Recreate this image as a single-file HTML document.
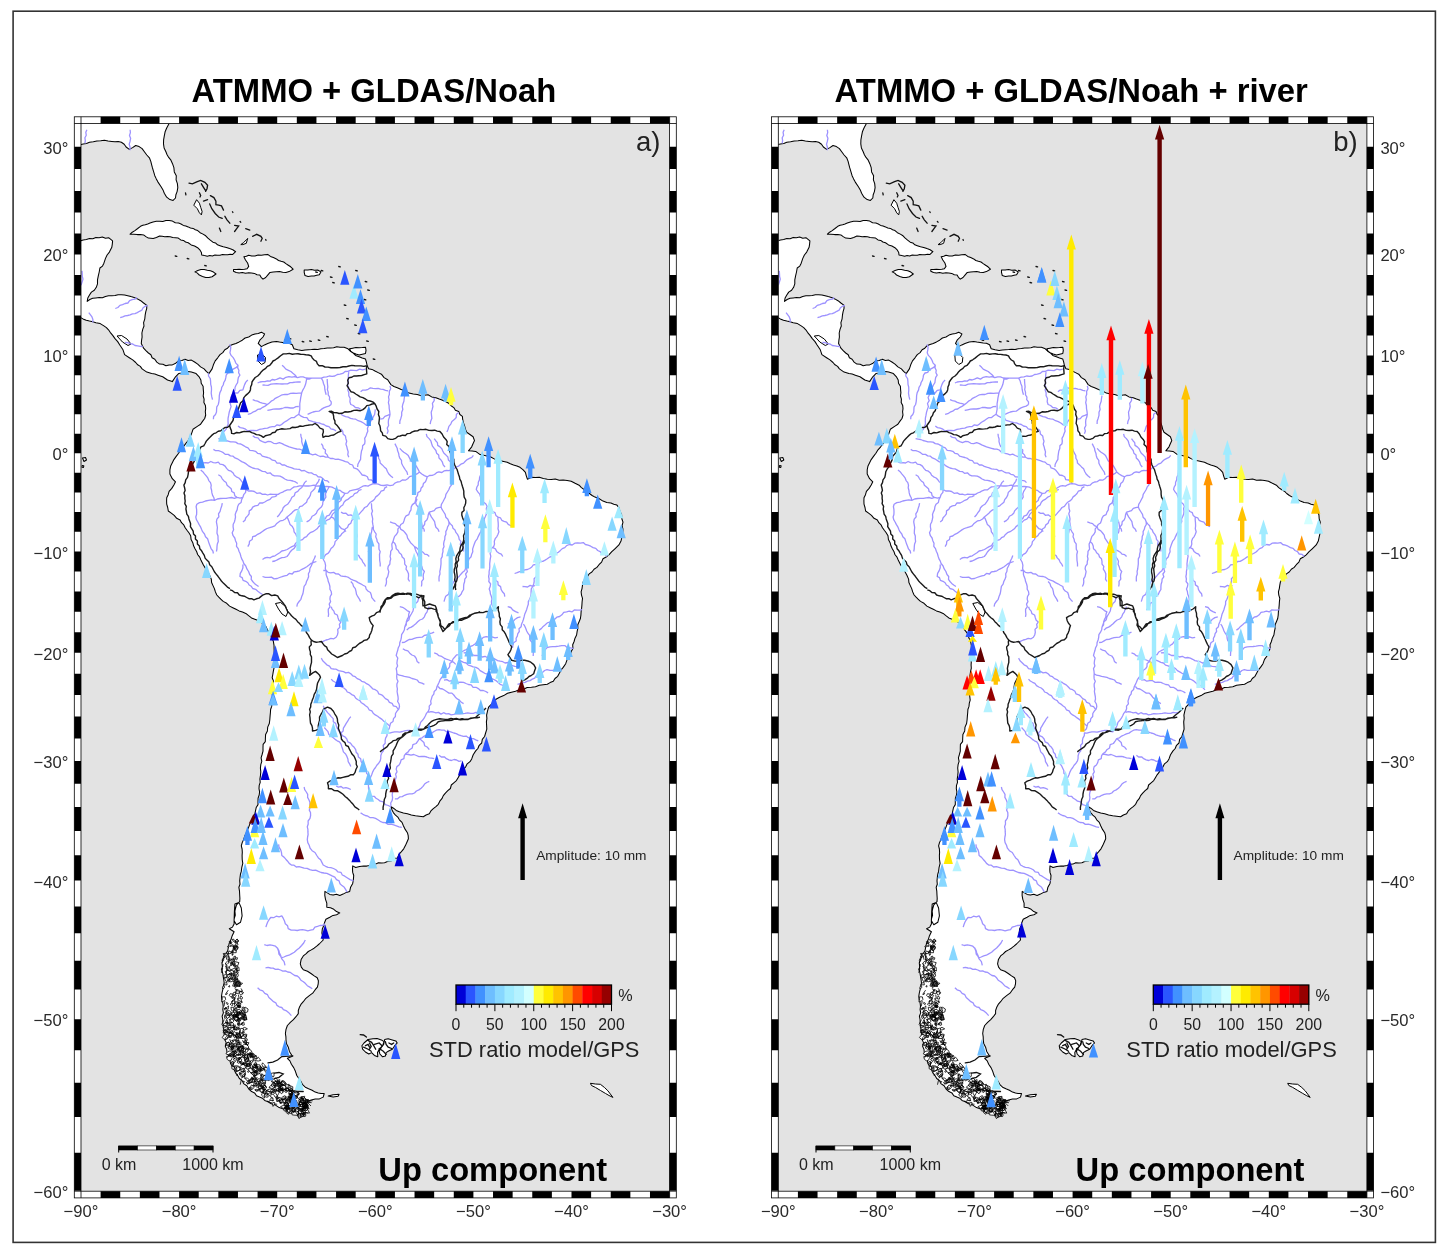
<!DOCTYPE html>
<html><head><meta charset="utf-8"><style>
html,body{margin:0;padding:0;background:#fff;}
svg{display:block;}

text{font-family:"Liberation Sans",Arial,Helvetica,sans-serif;}
</style></head><body><div id="w">
<svg width="1447" height="1257" viewBox="0 0 1447 1257">
<rect x="13.1" y="11.2" width="1422.3" height="1231.2" fill="none" stroke="#333" stroke-width="1.6"/>

<defs><clipPath id="mc"><rect x="81.0" y="123.5" width="588.60" height="1067.70"/></clipPath>
<g id="basemap"><rect x="81.0" y="123.5" width="588.60" height="1067.70" fill="#e3e3e3"/><g clip-path="url(#mc)"><path d="M60.0 240.9L63.3 240.3L66.7 241.5L70.0 241.3L73.3 240.5L76.7 240.9L80.0 240.9L83.2 240.0L86.4 239.6L89.5 238.5L92.8 238.7L95.9 237.4L99.1 237.7L102.3 237.0L105.5 238.3L108.6 237.7L112.6 240.9L112.3 244.1L111.8 247.3L109.4 252.1L107.1 255.0L105.5 258.4L103.9 263.2L102.5 266.1L99.9 268.0L99.2 272.0L98.3 275.9L97.5 279.9L97.5 283.9L96.3 287.3L94.3 290.2L91.4 292.1L89.5 295.0L87.8 298.0L87.2 301.4L89.8 299.5L92.7 298.3L95.9 297.9L99.1 297.5L102.4 297.8L105.4 296.5L108.6 295.8L111.8 295.8L115.0 295.5L118.1 294.7L121.3 294.8L124.6 295.0L127.8 295.7L130.9 296.6L134.1 297.4L137.5 298.9L140.7 300.7L143.6 303.0L146.8 305.4L146.7 308.6L145.8 311.6L145.2 314.8L144.8 318.8L143.6 322.7L144.0 326.0L142.8 329.1L141.9 333.0L142.1 337.0L141.6 340.2L141.3 343.4L143.6 348.2L145.9 350.7L148.4 353.0L150.9 354.7L152.1 357.8L154.8 359.3L156.8 362.1L159.6 364.1L162.9 364.3L165.9 365.7L169.1 365.0L172.3 364.9L175.7 363.2L178.6 360.9L181.9 360.4L185.0 359.3L188.1 360.4L191.4 360.1L194.6 362.0L197.7 364.1L200.6 366.9L204.1 368.9L206.3 371.4L208.9 373.6L212.1 368.9L213.4 364.8L215.2 360.9L217.7 357.8L220.0 354.6L222.8 352.6L224.8 349.8L227.5 348.2L229.6 345.8L232.7 344.6L235.9 343.4L239.2 341.9L242.3 340.2L245.1 338.0L248.7 337.0L251.7 335.1L255.0 333.9L258.3 333.5L261.4 332.3L264.6 333.9L263.0 337.0L259.8 340.2L258.2 343.4L261.4 346.6L264.5 344.9L267.7 343.4L271.9 342.0L276.4 341.6L279.5 342.1L282.7 342.4L285.9 343.1L289.1 343.2L292.3 344.8L293.9 348.8L297.8 349.8L301.8 350.4L305.0 349.9L308.2 349.7L311.4 349.6L314.6 349.3L317.8 349.5L320.9 348.8L324.1 348.5L327.3 348.1L330.5 348.0L333.6 347.7L336.8 346.7L340.0 347.2L344.1 347.3L348.0 348.8L350.1 351.0L352.7 352.7L355.5 355.4L359.1 356.7L362.2 358.1L365.5 359.1L366.4 362.2L367.1 365.5L368.6 368.7L372.0 369.4L375.0 371.0L378.2 372.6L381.4 374.2L384.1 377.6L387.7 379.8L390.9 384.6L393.9 386.5L397.3 387.7L401.2 389.4L405.2 390.9L409.0 393.1L413.2 394.1L417.3 394.5L421.2 395.7L424.6 395.2L428.0 394.7L431.7 396.9L435.9 397.7L439.2 399.1L442.6 400.3L445.9 401.7L448.7 403.3L451.1 405.7L453.8 407.6L455.4 410.3L458.7 411.4L459.9 414.5L462.4 416.4L462.7 419.7L463.5 422.9L464.6 426.0L465.4 429.2L466.7 432.3L469.9 434.5L473.1 436.7L474.5 440.6L473.0 443.7L471.7 446.8L468.5 450.8L472.1 451.0L475.7 451.4L480.1 454.6L485.8 455.8L490.3 456.7L494.2 458.9L497.2 460.4L500.5 460.8L503.7 461.5L507.2 462.2L510.3 463.8L513.5 465.0L516.9 465.9L520.0 467.3L522.9 469.6L525.4 472.3L526.3 475.8L527.4 479.2L531.4 477.2L535.4 477.4L539.3 477.2L543.3 478.4L547.3 479.2L551.3 479.5L555.3 479.1L559.2 480.2L563.2 480.1L567.2 480.4L571.2 481.2L575.1 483.3L579.1 485.2L581.4 487.6L584.1 489.5L587.1 491.2L589.4 493.5L592.1 495.5L595.0 497.1L599.2 498.8L603.0 501.1L606.8 502.6L610.9 503.1L613.8 504.3L616.9 505.1L619.0 507.8L619.9 511.0L621.6 514.8L621.9 519.0L623.0 522.2L622.1 525.7L622.9 528.9L622.8 533.0L621.9 536.9L621.0 541.1L618.9 544.9L614.9 548.8L611.8 551.7L608.9 554.8L606.1 557.0L603.0 558.8L601.6 562.1L599.0 564.7L596.9 567.4L594.0 569.3L591.9 572.0L589.1 573.9L587.4 576.8L584.8 579.0L583.1 581.9L582.5 585.2L582.0 588.6L581.1 591.8L581.5 595.1L582.5 598.4L582.1 601.8L581.9 605.1L581.6 608.4L581.1 611.7L580.9 615.1L580.4 618.5L579.1 621.7L577.8 624.8L577.8 628.3L577.1 631.6L576.6 635.0L575.0 638.2L574.1 641.5L572.7 644.7L572.9 648.4L571.2 651.5L569.9 655.8L567.2 659.4L565.7 663.7L563.2 667.4L560.9 670.2L559.2 673.4L557.7 676.3L555.0 678.5L553.3 681.3L550.1 682.6L547.3 684.3L543.3 684.7L539.3 685.3L535.5 686.7L531.4 687.3L527.2 687.5L523.4 689.3L519.3 689.8L515.5 691.3L511.5 692.2L507.5 693.3L503.7 695.6L499.6 697.2L496.4 699.0L493.6 701.2L491.2 704.3L488.6 707.2L487.5 711.1L486.6 715.1L486.9 718.4L486.4 721.8L486.6 725.1L486.8 729.1L485.6 733.0L484.6 736.5L482.3 739.4L481.7 743.0L479.2 745.3L477.9 748.5L475.7 750.9L473.2 754.7L471.7 758.9L470.0 761.7L467.2 763.8L465.7 766.8L463.4 769.3L461.9 772.2L459.8 774.8L458.1 777.7L456.4 780.6L453.8 782.8L451.3 785.0L450.4 788.5L447.8 790.7L445.4 793.1L443.3 795.6L441.9 798.7L439.8 801.2L438.3 804.3L435.9 806.6L433.3 808.6L430.9 810.9L429.3 813.8L426.1 815.0L423.3 816.8L419.3 816.3L415.4 815.8L411.3 815.0L407.4 813.8L403.4 813.1L399.4 811.8L396.2 810.4L393.5 808.2L391.1 806.8L392.0 809.9L393.5 812.8L395.5 815.1L397.8 817.1L399.4 819.8L402.0 822.4L403.4 825.7L405.2 829.4L407.4 832.7L408.2 835.6L408.4 838.7L406.9 842.2L405.4 845.6L403.7 848.8L401.4 851.6L398.9 854.5L397.5 858.0L393.9 858.6L391.1 861.1L387.5 861.5L384.6 862.7L381.6 863.1L378.4 862.7L375.6 864.1L372.5 864.2L369.7 865.4L366.7 866.1L363.6 866.1L359.6 866.5L355.7 867.5L352.7 865.9L352.5 869.2L352.7 872.4L353.7 875.5L353.4 879.5L352.7 883.4L350.6 887.2L349.7 891.4L346.3 892.4L343.1 894.1L339.8 895.4L336.5 894.2L333.1 895.1L329.8 894.4L324.9 891.4L324.8 895.4L325.5 899.3L326.8 903.2L326.8 907.3L330.5 907.8L333.8 909.3L336.5 911.6L339.8 912.9L336.6 914.7L333.0 915.4L329.8 917.2L325.9 919.2L324.7 922.2L323.9 925.2L322.3 929.0L321.9 933.1L322.7 936.5L323.2 940.0L319.2 944.0L316.7 946.2L314.1 948.2L311.3 949.9L308.3 951.5L305.9 953.8L303.3 955.9L301.1 959.6L300.3 963.9L301.3 967.1L303.3 969.8L307.5 971.3L311.3 973.8L314.2 975.9L317.2 977.8L318.4 980.7L318.2 983.8L317.4 987.1L315.2 989.7L312.7 993.2L309.3 995.7L305.9 998.3L303.3 1001.7L300.9 1004.4L299.3 1007.6L298.3 1010.5L298.3 1013.6L296.0 1016.7L293.4 1019.6L290.3 1022.4L287.4 1025.5L286.0 1029.4L285.4 1033.5L285.9 1036.8L286.0 1040.1L286.4 1043.4L288.3 1047.2L289.4 1051.4L292.4 1056.3L287.4 1058.3L289.9 1060.9L291.4 1064.3L293.7 1067.6L295.4 1071.3L296.8 1075.5L299.3 1079.2L301.2 1081.9L302.8 1084.9L305.3 1087.2L308.6 1088.8L312.1 1090.2L315.2 1092.1L318.2 1093.1L321.1 1093.6L324.2 1093.5L323.2 1097.1L319.4 1098.9L315.2 1099.1L311.2 1100.0L307.3 1101.5L303.5 1103.1L299.3 1103.5L295.5 1105.4L291.4 1106.1L293.6 1108.9L297.2 1110.2L299.3 1113.0L302.5 1114.2L305.3 1116.0L299.3 1116.0L295.6 1113.8L291.4 1113.0L287.3 1111.2L283.4 1109.1L279.2 1107.6L275.5 1105.1L271.3 1103.8L267.5 1101.5L264.7 1100.4L262.4 1098.2L259.6 1097.1L256.5 1095.8L254.6 1092.9L251.6 1091.6L248.8 1089.0L246.8 1085.7L243.6 1083.6L242.2 1080.6L239.4 1078.5L237.7 1075.6L235.7 1073.1L234.3 1070.1L232.7 1067.3L230.6 1063.5L229.7 1059.3L229.0 1055.9L227.0 1052.9L226.7 1049.4L225.3 1046.2L226.2 1042.6L224.7 1039.4L224.1 1036.2L224.2 1032.8L223.8 1029.5L223.3 1026.2L222.8 1022.9L222.8 1019.6L222.1 1016.2L223.4 1012.9L222.8 1009.6L223.2 1006.2L222.8 1002.9L221.8 999.7L221.5 996.3L222.0 993.0L222.8 989.7L223.3 986.4L224.2 983.2L223.8 979.8L223.2 976.4L222.7 973.1L221.8 969.8L222.4 966.5L222.0 963.2L222.8 959.9L224.5 956.9L225.8 953.8L227.7 950.9L228.4 947.1L229.2 943.3L230.9 939.8L232.2 935.7L234.1 931.8L229.3 928.7L232.5 927.1L234.1 923.9L234.1 919.1L235.3 915.2L234.9 911.2L235.6 908.0L236.5 904.8L239.7 901.6L239.9 898.4L239.7 895.2L239.5 891.2L238.9 887.3L240.0 884.2L239.7 880.9L240.0 877.7L240.4 874.5L241.3 871.4L241.8 867.3L242.8 863.4L242.2 859.5L242.1 855.5L242.3 852.2L242.1 849.0L241.3 845.9L242.2 842.6L243.6 839.6L245.0 835.5L246.8 831.6L248.5 827.6L250.0 823.6L251.7 820.5L253.3 817.3L254.8 814.1L255.5 810.8L256.2 807.5L258.0 804.6L258.0 801.3L258.1 798.1L259.2 795.0L259.6 791.8L259.0 788.6L259.2 785.4L260.2 782.3L259.9 779.1L260.4 775.9L260.8 771.9L260.4 768.0L260.8 764.6L261.8 761.3L261.1 757.8L262.1 754.5L263.0 751.2L263.0 747.7L263.1 744.4L265.3 741.6L265.4 738.2L265.6 734.4L267.4 730.9L267.7 727.1L269.3 723.5L269.8 719.7L270.1 715.9L270.4 712.7L270.6 709.5L271.7 706.4L272.0 703.2L272.9 700.1L272.5 696.8L272.2 693.7L273.1 690.5L271.9 687.3L272.5 684.1L273.4 681.0L272.2 677.7L272.8 674.5L273.3 671.4L274.0 668.2L273.8 665.0L274.0 661.8L273.3 658.6L274.1 655.5L274.2 652.3L274.1 649.1L274.0 645.1L273.3 641.1L271.6 638.1L270.9 634.8L269.2 632.2L267.3 629.8L266.1 626.8L263.7 624.4L261.0 622.4L258.2 620.5L254.8 619.2L251.5 617.9L248.6 615.7L245.8 613.4L242.5 612.1L239.1 610.9L236.0 609.3L232.8 607.7L229.6 606.1L226.7 603.3L223.2 601.4L221.0 599.3L218.8 597.2L216.8 595.0L215.4 591.9L214.4 588.6L213.0 585.6L211.6 582.5L211.3 579.1L209.5 575.0L207.3 571.1L205.2 568.0L203.3 564.8L200.9 560.0L199.7 557.1L197.6 554.5L196.6 551.4L195.0 548.7L193.6 545.8L192.8 542.7L191.1 539.5L190.7 535.8L188.9 532.7L187.0 530.2L185.2 527.7L183.8 524.9L181.5 522.7L180.1 519.9L176.7 518.3L174.2 515.4L171.3 513.2L168.3 511.0L167.7 507.5L166.7 504.1L166.6 500.9L166.7 497.7L168.2 494.7L169.1 491.4L171.8 488.4L173.9 485.0L175.5 481.8L172.3 478.7L169.9 473.9L169.9 469.9L170.7 465.9L172.3 462.7L173.9 459.6L176.2 456.4L178.6 453.2L180.7 449.8L183.4 446.8L185.7 443.6L188.2 440.5L189.9 437.3L191.4 434.1L193.0 429.3L197.7 426.1L200.6 424.2L202.5 421.4L204.7 418.5L205.7 415.0L205.3 411.8L205.7 408.6L205.4 405.4L203.9 402.4L204.1 399.1L203.2 396.0L203.6 392.7L203.3 389.6L203.1 386.2L201.2 383.3L200.9 380.0L198.9 376.6L196.1 373.6L191.4 372.1L188.2 371.4L185.0 372.1L181.9 373.1L178.6 373.6L175.5 376.8L172.3 381.6L167.5 380.0L162.7 376.8L158.0 375.2L154.9 374.1L151.6 373.6L146.8 372.1L142.1 368.9L140.3 366.4L137.7 364.8L135.7 362.5L132.7 359.9L129.3 357.7L124.6 354.6L123.0 349.8L119.8 345.0L117.7 341.6L115.0 338.6L112.7 335.4L110.2 332.3L108.5 329.8L106.4 327.6L103.9 325.9L100.2 323.6L95.9 322.7L92.8 321.8L89.5 321.1L86.2 320.3L83.0 318.9L80.0 317.2L76.7 317.6L73.3 317.1L70.0 316.8L66.7 317.9L63.3 316.9L60.0 317.2L60.3 314.1L59.8 311.1L60.0 308.0L59.5 305.0L60.4 301.9L59.3 298.9L60.8 295.8L60.5 292.8L60.2 289.7L59.6 286.7L60.7 283.6L60.7 280.6L59.4 277.5L60.4 274.5L60.5 271.4L60.3 268.4L60.3 265.3L59.9 262.3L60.7 259.2L60.8 256.2L59.8 253.1L60.5 250.1L59.9 247.0L59.5 244.0ZM60.0 110.0L63.0 110.8L66.0 110.8L69.1 109.5L72.1 109.6L75.1 110.8L78.2 110.7L81.2 110.7L84.3 110.1L87.3 110.7L90.3 110.7L93.3 110.8L96.4 110.1L99.4 110.6L102.4 110.6L105.5 111.2L108.5 111.7L111.5 111.7L114.5 111.1L117.6 111.0L120.6 110.8L123.7 110.5L126.7 110.5L129.7 111.3L132.7 111.1L135.8 111.2L138.8 112.1L141.8 111.6L144.9 111.7L147.9 111.2L150.9 110.9L154.0 111.5L157.0 111.2L160.0 111.9L163.0 112.7L166.1 112.3L169.1 112.0L169.6 115.9L168.5 119.7L169.1 123.5L166.7 128.0L165.1 131.8L164.3 135.9L163.6 139.9L163.5 143.9L164.1 148.0L165.9 151.8L167.1 154.7L168.7 157.4L170.7 159.8L172.5 163.7L173.9 167.7L174.3 171.9L176.3 175.7L176.1 179.8L177.4 183.6L177.8 187.6L177.1 191.6L175.9 194.7L175.5 198.0L173.1 200.4L169.9 199.6L166.7 197.2L164.3 193.2L163.0 189.9L161.1 186.8L158.0 182.1L156.3 178.9L154.8 175.7L153.6 171.7L152.4 167.7L151.6 164.6L150.8 161.4L149.4 157.8L146.8 155.0L144.4 151.8L142.1 148.6L139.1 146.6L135.7 145.5L132.6 147.6L129.3 149.4L126.1 147.0L124.2 144.2L121.4 142.3L118.2 141.4L115.0 141.8L111.8 141.5L108.1 141.1L104.4 140.3L100.7 140.7L96.9 140.9L93.3 141.8L89.5 142.3L86.5 143.5L83.2 143.9L80.0 144.7L76.7 145.0L73.3 144.5L70.0 145.4L66.7 144.2L63.3 145.3L60.0 145.0L60.7 141.8L59.7 138.6L60.7 135.5L60.3 132.3L60.0 129.1L60.0 125.9L60.2 122.7L60.1 119.5L59.7 116.4L59.5 113.2ZM130.1 234.2L132.3 232.2L134.9 230.6L137.7 228.5L140.5 226.3L142.8 225.3L145.3 224.8L147.7 224.0L150.0 223.1L153.1 222.0L156.3 221.3L159.6 221.2L162.8 221.4L165.9 220.5L169.1 220.6L172.4 221.1L175.3 222.8L178.6 223.1L181.0 224.0L183.3 225.4L185.8 225.9L188.2 226.9L190.5 228.0L193.1 228.4L195.3 229.8L197.7 230.6L200.1 232.7L203.0 234.1L205.7 235.8L207.9 238.2L210.3 240.2L212.9 242.2L215.5 242.9L217.5 244.8L220.0 245.7L223.2 246.8L226.4 247.4L229.6 248.6L232.8 249.7L235.6 251.7L232.7 254.4L230.2 254.2L227.7 254.8L225.1 254.7L222.5 254.6L220.0 255.2L217.5 255.2L214.9 255.1L212.4 255.9L209.8 255.6L207.3 256.2L204.5 255.6L201.7 254.9L201.4 252.4L200.1 250.2L197.6 247.7L194.6 246.0L191.2 244.9L188.2 242.8L185.6 242.0L183.4 240.4L180.7 239.9L178.3 238.1L175.5 237.7L172.8 237.4L170.2 236.8L167.5 236.6L164.8 236.7L162.2 236.3L159.6 236.1L156.4 237.5L153.2 238.5L148.4 238.1L145.9 236.6L143.6 234.9L140.5 234.6L137.3 234.6L133.7 234.3ZM194.9 271.9L197.8 270.5L200.9 269.6L204.2 269.5L207.3 270.3L210.5 270.8L213.5 272.1L216.0 274.0L212.1 276.7L208.9 277.6L205.7 277.5L202.5 276.4L199.3 275.1L197.4 273.1ZM233.5 269.6L236.3 269.5L239.1 269.2L241.8 269.4L244.5 269.3L247.1 268.8L248.7 266.4L247.6 263.0L245.5 260.0L243.9 256.8L246.4 256.3L248.7 255.2L251.8 256.1L255.0 256.0L258.1 255.0L261.4 255.2L264.5 254.8L267.7 254.4L270.4 256.4L273.4 257.6L276.4 258.9L278.5 260.5L281.1 261.3L283.7 262.0L285.9 263.6L288.3 265.2L290.7 266.8L293.1 269.2L289.1 271.6L285.9 272.4L282.7 272.3L279.5 271.6L276.3 271.8L273.2 272.0L270.0 272.4L267.7 275.1L265.7 277.5L263.0 279.1L261.1 277.3L259.8 275.1L257.0 274.8L254.4 273.4L251.5 273.0L248.7 272.7L245.5 273.2L242.3 272.5L239.1 273.0L236.2 272.5L233.5 271.2ZM304.2 270.0L307.8 270.1L311.4 269.5L314.5 270.2L317.7 270.0L320.9 271.9L319.3 274.8L316.7 275.2L314.1 275.9L311.4 276.1L308.1 276.4L305.0 275.6L304.2 272.4ZM349.6 348.8L352.7 348.2L355.9 347.6L359.1 347.7L362.3 347.6L365.5 347.2L366.0 350.4L365.5 353.5L362.3 354.3L359.1 355.1L355.9 354.1L352.7 352.7L350.7 351.1ZM361.9 1045.7L364.0 1043.0L368.1 1039.5L373.0 1038.8L377.1 1038.5L381.3 1039.9L384.0 1041.6L382.6 1045.7L379.2 1049.2L377.5 1052.6L377.8 1056.8L374.4 1055.4L371.6 1052.6L368.8 1054.0L365.4 1052.0L362.6 1049.2ZM384.7 1039.5L388.2 1038.8L392.3 1039.9L395.8 1040.9L397.2 1043.0L394.7 1045.7L392.3 1049.2L388.2 1051.3L386.1 1052.6L385.4 1056.1L382.6 1056.8L379.9 1054.0L379.2 1051.3L381.3 1047.5L383.7 1044.4ZM328.2 1096.1L333.1 1094.7L339.1 1094.3L338.1 1096.3L333.1 1097.1ZM82.5 458.0L85.5 457.5L86.5 460.0L84.0 461.5ZM82.2 465.5L83.8 465.8L83.5 467.5L82.0 467.2ZM234.9 904.0L238.9 902.4L241.3 908.0L242.1 915.9L240.5 922.3L236.5 924.7L234.1 920.7L234.4 911.2Z" fill="#fff" stroke="#000" stroke-width="1.05" stroke-linejoin="round"/>
<path d="M193.8 205.2L196.6 199.7L199.4 203.2L200.7 207.3L202.1 211.5L201.4 214.9L199.4 212.8L197.3 208.7ZM240.8 244.6L243.6 242.6L246.3 239.8L247.7 238.4L246.3 243.3L242.9 244.6ZM298.4 1109.1L302.5 1109.8L305.3 1113.3L304.6 1116.0L300.4 1114.6L298.4 1111.9ZM590.4 1083.3L595.4 1084.0L600.4 1084.3L604.5 1087.5L607.9 1090.8L612.9 1097.4L609.0 1095.5L605.4 1093.4L600.5 1090.5L595.4 1087.4L591.5 1085.5ZM275.5 603.5L280.5 602.5L285.0 606.0L288.0 611.5L286.0 616.5L282.0 614.0L278.5 609.0ZM257.5 355.0L262.0 354.0L265.5 357.5L265.0 362.5L261.5 364.5L258.0 361.0ZM117.0 336.0L121.5 335.5L127.0 339.0L131.0 344.0L128.0 345.5L122.5 342.0Z" fill="#fff" stroke="#000" stroke-width="1.0"/>
<path d="M189.0 183.1L192.4 183.8L197.3 181.7L200.7 180.4L204.9 182.4L207.6 185.2L207.0 188.7L205.6 191.4M201.4 183.8L203.5 187.3L205.6 190.7M199.4 192.8L200.7 195.6L200.0 197.0M203.5 201.1L207.6 199.7M210.4 195.6L213.9 197.6L215.9 201.1L215.9 204.6L218.7 205.2L221.5 205.9L223.5 210.1M209.7 203.9L211.8 208.7L215.2 213.5L218.7 217.0L222.2 218.4M224.9 216.3L227.0 219.8L229.8 223.2M219.4 228.1L220.8 231.5M234.6 225.3L238.7 226.0L236.7 228.7L234.6 231.5M245.7 228.7L249.8 230.1M252.6 236.3L256.7 234.3L260.9 236.3L262.2 238.4L260.9 241.2M232.5 211.8L232.9 212.5M240.1 221.5L240.7 222.2M265.7 239.5L266.0 240.4M185.5 192.8L185.9 194.9M330.4 277.0L332.0 277.4M332.7 282.5L334.3 282.9M344.2 305.0L345.8 305.4M346.7 318.5L348.3 318.9M354.7 325.0L356.3 325.4M358.2 333.5L359.8 333.9M364.2 299.5L365.8 299.9M367.7 290.0L369.3 290.4M365.2 281.5L366.8 281.9M355.7 270.5L357.3 270.9M338.7 266.5L340.3 266.9M321.2 270.5L322.8 270.9M315.7 272.0L317.3 272.4M326.7 336.5L328.3 336.9M318.2 340.0L319.8 340.4M309.7 341.0L311.3 341.4M302.2 341.5L303.8 341.9M289.2 338.5L290.8 338.9M284.7 340.0L286.3 340.4M366.7 341.0L368.3 341.4M373.2 359.0L374.8 359.4M175.2 256.0L176.8 256.4M187.2 258.5L188.8 258.9M204.7 265.5L206.3 265.9M367.4 1040.2L371.6 1042.3L373.7 1045.7L375.7 1049.2M363.6 1047.1L368.1 1049.2L371.2 1051.3M374.4 1044.4L379.2 1043.0L382.0 1045.7M379.2 1048.5L383.3 1051.3L386.1 1054.4M385.4 1041.6L386.1 1044.4L388.2 1047.1L391.6 1048.5M360.2 1034.7L363.6 1035.0L366.4 1037.1M369.5 1043.0L371.2 1046.4L369.5 1049.2M365.4 1045.7L368.1 1044.4L369.5 1047.1M388.9 1043.0L391.6 1044.4L393.7 1043.0M292.8 1055.9L281.8 1056.6L277.6 1060.0L272.8 1062.1L268.0 1062.8M274.2 1073.2L279.0 1072.5L283.2 1073.9L279.0 1077.3L274.2 1078.7M289.4 1091.1L303.2 1091.5M281.8 1081.5L285.9 1083.5" fill="none" stroke="#111" stroke-width="1.3" stroke-linecap="round"/>
<path d="M228.2 1012.0L229.8 1014.3L227.2 1014.1L226.1 1012.4ZM302.0 1103.4L305.0 1103.3L305.3 1104.9L303.9 1105.2ZM276.6 1101.4L276.8 1099.5L277.8 1097.7L279.3 1099.7L278.3 1101.5ZM279.6 1089.1L281.3 1088.5L282.2 1088.8L282.9 1089.6L282.0 1090.4L280.6 1090.4ZM252.6 1056.4L254.0 1055.4L255.3 1056.6L254.6 1057.6L253.7 1058.7L252.4 1058.0ZM237.7 1025.0L237.8 1024.4L237.6 1023.6L238.5 1023.3L238.6 1024.1L238.6 1024.6L238.4 1025.0ZM274.0 1074.8L274.0 1076.0L273.1 1077.2L272.3 1076.2L271.2 1074.8L271.4 1073.2L274.1 1072.9ZM255.4 1066.7L255.4 1066.1L255.5 1065.2L256.2 1065.9L256.5 1066.2L256.9 1066.8L255.9 1067.2ZM266.2 1067.0L263.0 1067.0L262.6 1065.8L261.9 1064.7L262.6 1062.8L264.0 1064.4L264.7 1065.0ZM231.9 1061.4L233.8 1062.2L233.2 1064.3L231.2 1063.1ZM289.1 1084.3L290.4 1087.3L288.2 1088.2L286.7 1087.9L284.7 1085.1ZM246.2 1037.0L244.7 1038.5L240.5 1038.4L243.0 1035.7L244.6 1034.0L246.9 1034.4ZM238.1 1025.2L237.5 1023.6L239.6 1023.8L239.3 1024.9L239.0 1026.4ZM247.0 1063.3L248.3 1063.6L251.6 1063.7L250.8 1065.8L248.5 1066.6L246.6 1066.7L246.8 1064.6ZM229.5 967.2L229.8 969.0L231.1 970.6L228.6 971.0L228.1 969.8L227.4 968.7L228.3 968.4ZM241.9 1056.5L239.2 1054.8L241.8 1051.9L244.4 1054.7ZM237.0 1050.0L239.1 1048.9L241.3 1047.3L244.3 1048.9L241.4 1050.8L240.4 1052.0L238.7 1051.4ZM231.4 1035.7L231.2 1037.4L228.3 1037.3L229.7 1035.5ZM236.7 1030.1L234.1 1029.7L232.5 1027.1L235.3 1026.6L236.7 1027.4ZM239.9 1014.3L237.3 1014.5L236.9 1011.8L239.4 1011.8ZM285.6 1091.0L285.9 1088.9L287.4 1088.2L289.3 1089.0L288.4 1090.5L287.7 1090.9ZM243.6 1071.4L244.2 1069.4L245.5 1070.9L244.9 1072.0ZM239.1 1008.0L239.1 1006.5L238.5 1005.2L240.2 1005.4L240.9 1006.9ZM260.5 1071.3L260.1 1072.4L259.2 1074.1L257.9 1072.2L255.6 1070.9L258.9 1070.8L260.5 1069.3ZM228.8 951.1L230.0 951.2L230.6 952.0L231.7 953.1L229.8 953.7L228.1 953.3ZM251.5 1080.1L250.8 1078.8L251.7 1077.1L254.3 1079.1ZM274.7 1082.8L276.1 1084.5L276.2 1085.8L275.5 1087.9L273.1 1087.1L271.2 1085.7L272.1 1083.5ZM274.8 1103.9L273.0 1106.4L272.3 1103.6L273.2 1102.4L274.6 1102.4ZM227.2 1042.5L229.3 1042.7L229.6 1045.3L226.2 1044.7ZM305.6 1106.4L306.3 1107.6L305.5 1108.6L303.8 1108.5L303.8 1107.2L303.9 1106.0L305.2 1104.9ZM262.7 1086.6L261.2 1087.6L260.3 1086.7L261.1 1085.0ZM307.5 1109.6L305.5 1110.8L302.3 1109.4L305.2 1107.2L307.5 1107.4ZM290.2 1101.3L291.1 1101.3L291.3 1102.0L291.3 1102.6L290.7 1103.0L290.4 1102.5L289.7 1101.8ZM286.0 1105.5L288.9 1107.4L286.1 1108.5L283.8 1108.9L280.6 1106.6L284.6 1104.9ZM271.7 1089.5L274.8 1089.6L273.9 1092.7L271.2 1091.9L270.5 1090.6ZM229.9 1017.7L229.6 1015.7L231.2 1014.3L233.9 1015.6L233.5 1017.8L231.5 1018.6ZM236.9 1034.6L236.2 1033.9L237.1 1032.4L238.2 1033.7L238.0 1035.0ZM226.3 1017.7L224.8 1018.5L224.4 1017.1L224.4 1016.1L225.9 1015.1L226.3 1016.4ZM237.9 947.0L237.7 948.7L235.2 949.4L235.0 947.4L233.7 946.2L235.0 944.6L237.3 945.5ZM238.5 1041.4L238.0 1040.6L237.9 1039.9L238.7 1039.6L238.9 1040.4ZM246.4 1064.5L245.3 1066.1L243.7 1064.3L245.5 1063.6ZM306.3 1105.4L304.9 1103.9L305.1 1102.5L307.1 1103.2ZM264.8 1084.8L265.8 1086.9L263.8 1087.7L263.4 1086.3ZM266.9 1090.1L270.1 1088.8L273.5 1090.8L270.9 1092.8L271.3 1095.1L268.9 1095.4L266.9 1093.0ZM226.1 1011.6L225.9 1010.9L226.4 1010.1L227.1 1010.8L226.8 1011.5ZM298.4 1115.2L298.6 1111.2L301.2 1109.7L303.5 1112.5L301.9 1114.8ZM240.9 1043.4L241.1 1044.8L239.5 1044.5L239.7 1043.4L238.9 1042.1L240.6 1042.3L241.2 1042.6ZM238.4 941.0L236.2 943.7L235.4 940.6L237.2 939.0ZM298.5 1107.2L298.6 1109.8L298.4 1111.6L296.5 1111.1L294.4 1110.1L296.5 1108.9ZM241.9 1059.9L240.7 1061.6L237.2 1060.3L240.4 1058.2ZM256.5 1065.0L257.6 1067.0L255.9 1068.3L255.0 1066.5ZM228.1 1003.3L228.1 1004.2L227.0 1004.4L226.3 1003.4L226.5 1002.4L227.6 1003.0ZM303.3 1105.6L303.5 1102.7L306.2 1104.7L308.3 1105.9L305.8 1106.9L304.1 1106.8ZM233.5 949.3L234.9 947.7L235.5 945.9L238.1 947.1L237.4 949.5L235.7 950.7ZM229.3 1029.7L227.6 1027.1L231.0 1027.7L234.8 1027.3L233.0 1030.2L230.9 1033.0ZM239.0 1018.9L240.7 1018.8L241.4 1019.5L240.4 1019.8ZM248.7 1047.9L249.5 1048.7L249.4 1049.2L249.0 1049.7L248.4 1050.0L247.3 1049.3L247.5 1048.3ZM290.9 1095.7L292.3 1097.1L290.5 1098.5L288.7 1097.4L289.2 1094.8ZM250.9 1057.4L250.0 1057.7L249.4 1057.0L249.5 1056.3L250.3 1056.1L250.6 1056.7ZM235.2 1046.8L234.9 1049.2L235.7 1050.6L233.5 1051.5L233.0 1049.9L230.9 1048.3L233.1 1046.7ZM279.5 1082.1L278.5 1084.4L276.6 1082.5L276.7 1080.9L279.8 1079.6ZM263.6 1092.3L260.9 1092.3L258.3 1089.6L261.2 1088.1L263.0 1087.4L262.9 1089.4ZM234.5 973.4L235.7 975.2L235.2 978.7L231.3 976.8L231.3 973.3ZM248.7 1055.2L246.7 1052.6L247.7 1050.7L249.2 1049.1L251.3 1050.6L252.3 1053.3ZM251.5 1060.6L253.1 1061.5L251.6 1062.6L250.0 1061.5ZM240.7 1063.5L239.9 1061.8L241.8 1061.8L244.5 1063.0L241.8 1064.4ZM232.2 973.5L226.7 974.8L225.1 971.5L228.4 970.2ZM226.5 977.1L224.2 977.7L223.6 975.4L225.4 974.5L226.9 975.7ZM280.2 1087.3L280.7 1087.5L280.6 1088.0L280.4 1088.2L279.8 1088.7L279.1 1088.2L279.8 1087.6ZM240.7 1037.2L240.7 1034.9L240.6 1033.9L242.3 1032.4L243.4 1034.5L242.6 1035.6ZM246.1 1068.1L246.1 1066.8L247.7 1065.9L250.1 1065.8L250.5 1068.3L247.9 1069.1L246.7 1068.9ZM233.7 974.5L234.6 974.7L234.7 975.8L233.7 976.3L233.4 975.4ZM295.4 1095.8L289.6 1094.1L295.3 1090.7L299.5 1093.9ZM230.2 1049.4L227.7 1047.6L230.1 1046.4L234.2 1045.5L233.0 1049.0ZM238.3 1003.2L238.3 1002.2L239.3 1002.1L239.2 1002.8ZM242.1 983.9L241.2 984.5L240.3 984.1L240.6 983.3L240.4 982.6L241.3 983.0L242.5 983.2ZM246.1 1042.6L248.9 1042.6L248.2 1044.5L246.6 1044.4ZM234.5 997.8L234.8 999.5L233.1 998.7L231.4 997.7L233.5 996.7ZM233.6 1010.9L234.7 1008.6L235.8 1010.8L237.9 1012.7L234.8 1012.8L233.5 1012.3ZM234.3 1058.9L233.4 1057.1L234.1 1056.1L234.9 1056.2L235.3 1057.3ZM230.8 964.9L229.3 967.1L226.5 967.0L226.0 964.8L225.4 963.1L227.8 960.9L230.6 962.7ZM229.6 1032.3L232.2 1033.3L231.8 1035.1L230.0 1037.3L228.6 1034.8ZM232.0 1033.5L234.0 1031.4L235.8 1032.9L237.2 1032.8L236.4 1034.5L235.8 1036.1L234.5 1034.7ZM285.0 1098.2L286.2 1097.3L287.2 1096.7L288.0 1097.8L287.7 1099.0L287.1 1099.9L286.5 1098.7ZM223.1 1029.9L224.7 1030.3L226.4 1030.5L228.0 1032.0L225.3 1033.4L223.7 1032.1L223.4 1031.3ZM234.3 984.3L233.4 981.1L236.6 980.3L238.5 981.7L238.2 983.7ZM262.7 1089.5L262.3 1088.5L262.9 1087.9L263.6 1087.5L264.4 1088.4L264.4 1089.9ZM239.2 1015.1L237.8 1016.8L236.1 1017.0L236.1 1015.3L237.4 1012.9ZM234.1 979.4L231.2 979.0L229.5 976.2L232.6 975.2L234.1 975.8L234.4 977.1ZM241.3 1050.2L238.1 1049.8L238.7 1046.5L244.0 1046.5ZM244.0 1081.4L244.6 1081.7L244.2 1082.3L243.8 1082.3L243.0 1082.0L243.1 1081.1ZM293.9 1106.4L295.1 1105.2L296.3 1106.2L297.5 1107.5L295.8 1108.6L294.6 1107.8ZM259.7 1067.4L259.9 1067.2L260.7 1066.5L261.3 1067.3L261.0 1068.2L260.0 1068.3L259.2 1068.0ZM253.7 1082.8L255.2 1081.0L256.4 1083.2L256.3 1084.1L255.3 1085.0L253.0 1085.9L254.0 1083.9ZM256.3 1055.6L257.1 1058.5L254.7 1058.4L252.6 1056.7ZM252.7 1082.2L248.6 1083.4L248.7 1080.6L252.3 1078.2ZM233.6 1044.1L235.9 1043.7L237.0 1045.6L234.3 1046.2L232.9 1047.4L231.5 1046.2L230.6 1043.9ZM261.9 1070.3L261.1 1069.6L261.8 1068.9L262.9 1068.5L263.3 1069.4L262.9 1069.8ZM234.5 975.2L232.2 977.2L231.8 979.6L229.3 978.4L227.3 976.0L229.3 973.7L231.8 974.5ZM292.8 1102.1L294.1 1103.6L293.4 1105.7L290.9 1105.2L289.4 1101.8ZM291.0 1099.2L290.2 1098.7L289.8 1097.4L291.6 1097.7L292.8 1097.9L292.1 1098.9L292.1 1100.1ZM229.2 1046.7L225.1 1044.5L228.5 1041.9L230.0 1044.0ZM230.9 977.7L233.1 979.0L232.8 981.2L230.8 981.9L230.0 981.4L228.8 980.3L230.0 979.4ZM291.8 1101.5L288.3 1099.7L289.9 1096.9L292.5 1098.0L292.9 1099.5ZM253.4 1053.5L252.6 1056.2L250.9 1055.9L250.5 1054.3ZM236.7 1052.6L234.4 1054.3L232.8 1055.3L228.9 1054.2L232.5 1052.5L234.8 1050.6ZM304.7 1114.0L304.2 1115.5L303.2 1114.7L303.5 1113.8ZM233.3 1047.3L233.5 1049.3L231.3 1048.8L231.0 1048.1L231.5 1047.2ZM284.6 1081.4L286.0 1083.7L285.1 1085.7L282.8 1085.4L281.4 1084.6L281.0 1082.9L282.0 1080.5ZM228.4 1033.6L227.3 1032.9L228.2 1032.3L229.3 1032.3L230.0 1032.9L229.3 1033.9ZM247.0 1019.5L243.8 1019.7L241.0 1018.3L243.8 1017.0L245.7 1016.9ZM234.4 940.7L234.0 941.1L233.2 941.4L232.8 940.6L232.0 939.5L233.7 939.1L234.0 940.0ZM261.7 1075.6L260.6 1075.8L260.6 1074.9L261.1 1074.2L262.5 1074.0L262.2 1075.2ZM243.6 1041.3L244.8 1040.6L246.3 1041.6L246.2 1043.6L244.3 1042.5ZM238.8 991.3L241.0 991.5L242.2 991.2L243.6 992.9L242.1 994.1L240.9 995.3L239.5 993.5ZM299.2 1118.7L297.5 1115.8L298.3 1113.2L300.2 1114.1L301.4 1116.0ZM252.9 1060.7L252.9 1059.3L254.5 1059.8L253.9 1060.8ZM298.3 1108.5L300.1 1106.1L301.8 1106.4L302.8 1109.0ZM300.2 1100.6L298.4 1098.4L301.8 1096.8L302.0 1099.9ZM231.6 1015.3L227.0 1015.5L225.0 1012.3L228.8 1010.1L230.8 1012.1ZM254.7 1081.3L257.6 1081.0L256.7 1083.2L254.8 1083.7ZM260.8 1060.4L258.3 1061.0L255.1 1060.6L256.9 1058.5L258.3 1057.2L259.5 1058.7ZM255.7 1086.4L256.6 1085.0L257.7 1085.0L258.9 1085.6L258.2 1087.1L257.0 1087.2ZM236.3 1049.7L235.3 1052.2L232.1 1051.3L231.6 1048.0L234.2 1045.9L238.9 1046.7ZM298.9 1104.4L302.6 1104.5L303.5 1107.6L300.0 1109.0L297.0 1106.9ZM292.3 1111.4L292.0 1108.2L295.8 1109.2L295.1 1111.6ZM233.4 965.3L232.7 964.5L232.1 963.1L234.1 963.0L234.5 964.0L234.4 964.8ZM240.2 1068.0L240.0 1070.1L236.0 1072.0L236.8 1068.8L235.7 1065.8L238.6 1066.0ZM249.4 1071.2L248.2 1069.5L249.8 1067.4L251.8 1068.7L253.6 1069.4L254.2 1071.5L251.3 1073.4ZM238.2 1033.3L240.5 1034.7L240.4 1036.7L239.9 1038.1L237.8 1038.1L234.7 1035.9ZM304.5 1104.9L304.8 1103.1L307.4 1104.1L306.5 1106.2L304.7 1106.5ZM238.2 1007.2L238.1 1006.8L238.2 1006.1L239.5 1006.4L238.8 1007.3L238.4 1007.4ZM230.6 1055.1L230.3 1055.9L230.8 1056.6L230.0 1057.0L229.7 1056.3L229.3 1055.8L229.7 1055.1ZM233.9 1039.3L234.8 1039.0L235.4 1039.6L235.9 1039.9L235.9 1040.8L234.7 1040.5L233.8 1040.3ZM299.6 1111.0L300.2 1109.8L301.3 1109.5L301.8 1110.4L301.5 1112.3ZM231.3 1021.7L229.2 1019.5L231.9 1019.1L233.4 1019.8L233.5 1021.4L232.2 1022.9ZM254.8 1089.8L256.4 1089.3L257.2 1089.9L257.3 1091.3L255.8 1090.9ZM233.5 983.3L236.9 982.0L238.4 983.5L240.2 986.5L236.5 986.2L232.7 986.1ZM228.3 945.6L229.3 946.3L228.8 946.8L227.4 946.8ZM225.4 984.8L223.6 984.5L224.6 983.0L225.6 982.8L226.9 982.5L226.9 983.7L227.0 984.9ZM230.6 996.8L229.3 995.4L230.2 993.7L232.9 994.2L232.4 996.0ZM244.1 1055.3L247.0 1054.2L247.9 1056.2L249.0 1059.7L245.7 1058.1ZM289.7 1096.4L290.5 1096.1L290.8 1097.3L289.5 1097.7L289.1 1096.8ZM242.7 1054.3L242.8 1057.2L239.3 1058.0L236.9 1058.1L234.9 1055.6L237.6 1054.4L239.3 1054.3ZM276.3 1097.2L277.0 1096.0L278.1 1097.1L278.0 1098.4L276.1 1099.3ZM246.0 1037.2L244.2 1036.9L243.8 1036.1L242.8 1034.4L245.0 1035.0L246.5 1035.5ZM224.5 987.6L222.8 989.0L222.7 986.7L224.2 985.6ZM235.9 942.2L235.8 943.0L235.0 942.9L234.6 942.4L234.5 941.6L235.8 941.2ZM282.6 1084.9L281.3 1086.5L279.8 1086.4L279.4 1084.6L280.8 1083.7ZM303.8 1099.8L301.7 1101.0L299.7 1099.0L302.6 1098.3ZM239.1 1070.4L235.1 1071.2L235.9 1068.1L237.5 1066.8L240.6 1067.7ZM232.5 1054.8L233.3 1054.1L234.9 1054.9L233.1 1055.4ZM236.5 1037.7L237.3 1036.3L238.9 1036.3L239.4 1038.0L237.9 1038.2ZM266.8 1087.1L265.7 1088.6L264.5 1090.5L263.1 1088.6L263.1 1087.4L263.3 1085.6L265.2 1085.6ZM243.6 1056.0L241.8 1054.1L242.9 1051.8L244.6 1053.6ZM259.8 1085.5L262.8 1087.6L260.2 1089.9L258.2 1088.0ZM288.9 1091.0L290.9 1087.6L292.8 1089.9L292.0 1092.1ZM225.5 1032.1L225.4 1031.1L226.4 1031.1L226.4 1032.2L225.8 1032.6ZM290.8 1091.5L294.0 1093.9L289.5 1095.1L288.8 1091.6ZM249.4 1054.9L248.0 1054.7L249.3 1053.9L249.9 1053.9L250.1 1054.5ZM230.1 1004.2L231.5 1003.1L232.1 1003.9L233.1 1004.7L231.9 1005.7L231.1 1004.9ZM258.0 1078.9L260.6 1078.8L259.8 1081.1L258.2 1081.6L256.9 1080.4ZM285.4 1092.2L284.6 1091.2L285.6 1090.8L286.5 1089.6L287.0 1091.2L286.7 1092.1L286.0 1092.8ZM248.8 1058.5L247.5 1061.9L244.9 1061.8L244.1 1057.4ZM226.6 992.9L227.3 993.4L227.1 994.1L226.7 994.4L225.5 994.5L226.1 993.4ZM291.8 1100.0L292.0 1101.8L290.5 1102.4L289.2 1101.7L289.3 1100.1L290.7 1099.0ZM233.9 1014.4L236.0 1016.5L239.2 1018.3L237.3 1020.9L234.6 1020.0L233.5 1018.7L232.0 1016.4ZM232.3 1053.1L232.0 1054.9L230.7 1053.6L231.2 1052.6ZM292.6 1101.7L290.5 1098.1L293.1 1095.1L297.9 1096.8L294.8 1099.5ZM283.5 1082.6L284.6 1083.3L284.0 1084.3L282.5 1085.1L282.4 1083.4L281.1 1082.4L282.8 1081.9ZM237.9 1012.9L240.9 1012.8L243.1 1016.2L239.2 1018.3L234.5 1016.0ZM233.5 1041.9L232.1 1043.2L230.6 1041.6L231.8 1040.4L233.1 1040.3L233.6 1041.0ZM240.3 1047.6L242.2 1048.3L241.4 1049.6L240.6 1050.4L239.5 1049.9L238.5 1048.4ZM231.0 1029.2L227.8 1029.5L227.8 1025.4L231.0 1025.5ZM304.4 1098.2L303.3 1099.4L301.7 1098.7L301.7 1096.9L304.7 1096.3ZM279.4 1092.0L278.7 1093.4L277.3 1096.0L275.6 1093.0L275.8 1089.8L278.5 1091.1ZM291.6 1095.6L290.8 1095.2L290.2 1094.7L290.5 1094.4L290.9 1094.2L291.2 1094.4L291.6 1094.9ZM244.8 1013.1L246.1 1015.5L243.5 1014.3L242.4 1013.4L243.5 1012.3L245.1 1010.2ZM286.8 1106.8L287.1 1105.2L289.9 1106.2L289.2 1108.2L286.7 1109.2ZM306.4 1099.9L307.8 1101.1L307.6 1103.0L305.2 1104.0L305.2 1101.5ZM263.2 1075.0L266.1 1075.8L266.2 1077.7L265.7 1080.0L263.7 1078.7L262.9 1077.3ZM238.9 941.0L237.4 941.6L236.8 941.7L235.8 941.7L235.5 940.6L236.5 939.8L237.7 940.1ZM255.5 1075.4L254.1 1074.7L253.9 1073.7L254.2 1072.5L255.7 1072.8L256.4 1073.4L256.4 1074.7ZM295.0 1102.4L296.4 1101.1L297.7 1102.6L299.3 1103.8L298.0 1104.9L296.5 1105.2L293.6 1105.1ZM296.1 1106.9L295.5 1107.1L293.8 1107.3L294.7 1105.9L294.9 1105.1L296.5 1104.8L297.5 1106.1ZM264.0 1095.3L265.3 1093.4L267.8 1093.8L267.8 1095.1L268.2 1097.0L265.6 1097.1ZM237.8 1038.0L235.4 1037.1L236.9 1035.7L239.0 1036.1ZM262.7 1068.4L265.1 1069.0L262.7 1070.3L261.8 1070.1L261.3 1069.5L260.9 1068.7L261.4 1067.2ZM271.1 1097.7L272.3 1098.3L273.1 1099.1L272.9 1101.0L271.8 1100.6L269.4 1100.3L270.7 1098.8ZM234.0 1025.5L234.8 1024.7L235.5 1026.1L234.2 1026.3ZM294.9 1098.4L290.9 1099.8L289.4 1099.8L288.1 1096.5L291.0 1096.9ZM234.3 994.9L235.5 994.8L236.3 995.7L235.4 996.8L234.7 998.1L232.7 997.3L233.2 995.9ZM234.7 1014.6L239.2 1015.2L234.9 1016.7L233.2 1015.9ZM236.2 986.9L235.1 987.6L234.6 986.0L234.5 984.4L236.1 985.2L237.2 985.0L237.3 986.3ZM277.6 1085.0L275.9 1083.8L272.9 1082.3L276.3 1081.4L278.2 1082.5ZM255.3 1086.1L254.4 1086.4L253.7 1086.0L253.9 1085.4L254.9 1085.2ZM237.0 973.5L235.5 971.9L237.8 971.8L238.3 973.1ZM227.8 1031.3L225.8 1032.4L223.9 1032.5L224.3 1030.2L226.0 1030.1ZM249.1 1065.1L249.9 1063.8L251.2 1064.4L250.9 1065.1L250.6 1065.5ZM227.7 1009.4L226.4 1008.8L226.8 1007.4L227.3 1006.9L228.6 1005.9L228.5 1007.3L228.5 1008.5ZM250.1 1080.5L247.4 1081.0L246.8 1080.0L244.6 1078.4L247.3 1077.9L248.1 1078.8ZM238.8 1058.1L239.6 1057.1L240.2 1058.2L239.5 1059.8ZM288.4 1107.4L289.8 1109.1L289.9 1111.2L288.5 1114.3L286.3 1112.7L285.7 1110.3L286.2 1108.0ZM235.5 994.6L234.0 995.3L232.9 994.0L233.5 992.6L235.7 991.9ZM245.2 1009.3L242.2 1010.8L242.1 1007.4L244.0 1007.1ZM247.6 1011.9L245.8 1012.5L244.1 1012.5L243.7 1011.5L242.7 1009.6L245.1 1007.1L248.1 1009.0ZM277.1 1089.4L277.0 1090.9L275.4 1091.4L273.4 1091.1L274.0 1089.8L275.2 1089.0ZM235.1 966.5L233.1 965.8L233.3 963.8L235.4 964.6L236.2 965.4ZM273.4 1094.7L270.6 1093.3L272.9 1091.7L274.5 1092.9ZM305.2 1100.0L306.4 1099.8L308.5 1099.5L307.3 1101.2L307.1 1102.1L305.6 1102.4L304.9 1101.5ZM249.8 1089.1L249.7 1087.0L252.0 1084.8L254.1 1087.6L251.9 1089.6ZM278.6 1091.1L278.9 1089.6L280.7 1087.9L283.8 1090.2L281.7 1093.8ZM274.6 1085.1L275.7 1084.8L276.0 1085.5L275.5 1086.5L274.3 1086.4L273.5 1085.5ZM243.2 1018.0L244.7 1017.2L244.7 1018.6L244.0 1018.8ZM307.3 1100.8L306.6 1102.3L305.6 1100.9L306.5 1100.4ZM223.1 1032.6L224.6 1029.6L227.6 1028.9L228.3 1031.8L229.7 1033.9L227.5 1035.8L225.5 1034.1ZM268.4 1071.1L269.9 1072.0L270.1 1073.4L268.8 1075.3L266.8 1074.5L266.0 1072.8L267.2 1071.3ZM299.9 1101.2L301.4 1101.8L302.9 1102.1L303.7 1103.7L301.5 1104.1L299.5 1104.8L299.6 1102.9ZM221.6 1001.9L222.3 998.9L222.1 996.8L225.1 996.9L225.6 999.5L224.3 1000.9ZM302.1 1106.7L303.6 1104.4L304.2 1102.3L306.2 1103.6L307.7 1104.4L308.2 1106.4L305.3 1106.1ZM243.9 1048.1L241.8 1046.0L244.7 1044.2L247.1 1044.7L248.5 1046.5L248.4 1048.8L245.3 1049.5ZM286.8 1105.7L287.7 1104.4L288.7 1105.8L288.6 1107.1L289.2 1109.1L286.4 1109.2L285.9 1107.3ZM282.6 1099.7L283.1 1098.9L283.8 1099.2L284.3 1099.7L283.6 1100.0ZM304.2 1108.0L303.4 1106.4L304.1 1105.6L305.2 1105.7L305.9 1107.1ZM243.7 1021.9L244.4 1024.8L242.6 1025.4L241.2 1023.6ZM265.3 1084.2L263.9 1084.3L263.4 1083.6L263.8 1081.9L265.6 1082.7ZM279.7 1082.4L278.2 1083.8L277.1 1083.5L277.0 1081.8ZM237.5 973.6L238.4 975.1L237.7 976.8L235.8 975.3ZM293.5 1100.8L293.5 1101.4L293.9 1102.2L293.0 1102.1L292.5 1101.6L292.0 1100.8ZM306.7 1110.6L304.7 1109.2L302.1 1108.9L303.7 1107.4L304.8 1104.7L306.6 1106.0L308.6 1108.2ZM285.4 1101.5L285.7 1100.3L287.2 1099.7L288.3 1100.2L288.3 1101.7L287.9 1103.1L285.9 1103.1ZM223.2 953.5L225.8 953.4L227.8 954.5L226.2 955.8L225.6 956.8L223.1 957.0L224.3 955.3ZM266.3 1095.4L265.0 1092.3L266.0 1090.3L270.6 1092.1ZM246.0 1063.4L246.1 1064.2L245.1 1063.7L244.8 1063.4L244.8 1063.0L245.2 1062.2L245.7 1063.0ZM249.8 1053.3L252.5 1054.7L250.9 1056.9L249.3 1055.5ZM279.8 1098.6L282.6 1100.5L283.2 1102.5L281.3 1102.9L279.5 1102.0ZM244.1 1064.2L242.8 1065.0L242.5 1063.5L244.1 1062.9ZM301.7 1098.2L304.2 1102.1L299.1 1102.5L298.8 1099.9ZM240.9 1035.9L241.2 1036.4L241.5 1038.0L239.8 1037.3L238.5 1036.3L240.0 1035.5ZM238.2 1015.0L237.0 1016.0L236.4 1015.8L234.7 1015.0L236.3 1014.0L237.1 1014.3ZM251.2 1078.8L256.5 1078.0L253.7 1082.1L249.0 1082.5ZM244.1 1071.2L245.5 1072.5L245.4 1074.0L243.9 1077.0L240.9 1074.5L240.8 1071.6ZM225.5 1009.2L224.5 1009.9L224.0 1008.7L225.6 1008.0ZM291.8 1107.1L291.7 1104.8L293.7 1104.8L294.6 1107.1L293.1 1108.5ZM255.1 1081.0L254.5 1081.7L254.3 1080.9L254.1 1080.2L254.8 1080.6ZM242.0 999.2L240.2 998.9L240.3 997.6L240.8 996.0L242.5 997.4ZM240.7 1020.6L237.9 1021.1L237.1 1019.5L238.8 1018.5ZM232.4 1048.0L232.0 1048.8L231.4 1048.5L230.5 1047.8L231.1 1047.1L232.2 1046.0L232.3 1047.2ZM226.9 1039.1L224.8 1039.9L225.3 1037.6L226.4 1036.6L227.8 1037.3L227.8 1038.6ZM304.0 1106.4L306.6 1106.5L305.9 1107.8L304.2 1108.3ZM242.9 1022.8L242.4 1024.2L240.5 1024.9L241.4 1023.2ZM274.6 1086.7L273.8 1088.6L271.8 1088.5L269.0 1087.3L270.8 1085.4L272.9 1084.7L275.1 1085.0ZM237.6 999.7L237.4 998.8L237.9 998.0L238.6 998.7L238.4 999.5ZM258.3 1091.0L257.2 1089.7L258.7 1089.0L259.3 1090.1ZM235.3 956.1L235.9 958.1L234.2 958.1L233.9 957.6L233.8 956.6ZM308.1 1099.9L307.7 1101.5L307.5 1102.4L306.2 1103.3L303.6 1102.7L306.0 1101.2L305.9 1099.5ZM230.0 980.4L229.5 981.7L228.6 982.0L227.5 980.9L228.1 979.9L229.4 979.2ZM295.0 1102.3L294.4 1103.6L293.0 1103.0L292.5 1101.8L294.0 1101.2ZM246.7 1019.7L243.9 1020.6L242.6 1019.0L243.0 1017.3L244.9 1016.8L246.6 1017.9ZM262.7 1080.4L262.1 1077.7L264.0 1075.8L266.7 1074.7L268.3 1076.8L268.0 1078.8L266.4 1080.4ZM292.0 1098.6L293.3 1098.7L293.7 1100.0L292.6 1099.8ZM237.9 979.0L235.5 978.5L235.1 977.1L236.7 977.1ZM232.9 961.0L231.3 959.9L233.2 959.4L234.2 958.7L234.6 960.0L234.4 961.4ZM235.2 979.4L238.2 979.6L240.3 982.0L238.2 984.6L234.8 982.9ZM238.0 1054.3L239.2 1054.5L239.1 1055.5L237.9 1055.4L237.3 1054.7ZM278.5 1086.4L277.8 1084.0L279.9 1083.4L281.0 1084.1L282.0 1086.0L280.2 1086.1ZM278.4 1087.5L280.0 1086.9L281.4 1085.9L282.9 1087.3L282.3 1089.3L280.8 1091.1L278.9 1089.5ZM304.5 1097.7L306.0 1098.9L303.9 1101.6L303.0 1098.6ZM234.1 948.0L233.7 946.9L235.3 946.5L237.0 946.6L235.8 948.3L235.0 948.9ZM279.9 1100.9L280.9 1100.9L281.2 1101.7L281.6 1102.9L280.1 1102.6L279.4 1102.0L279.1 1101.2ZM240.2 986.1L237.7 985.8L234.6 985.5L235.4 983.6L237.0 982.1L239.0 981.0L239.4 983.6ZM288.2 1088.4L289.5 1090.0L287.8 1091.1L284.1 1089.2ZM238.0 1006.8L236.5 1007.4L234.1 1006.8L235.5 1005.4L237.3 1004.2L239.1 1005.5ZM277.0 1098.9L275.4 1097.1L277.9 1097.3L279.0 1097.3L282.0 1098.5L280.8 1100.8L277.3 1100.4ZM280.2 1087.6L280.5 1084.4L284.1 1085.0L285.9 1086.8L285.2 1090.0L282.7 1089.3ZM229.1 1055.2L225.9 1053.8L227.9 1051.5L229.7 1051.0L232.1 1051.0L234.1 1053.6L232.7 1056.3ZM232.0 942.1L231.5 943.4L230.2 943.7L229.9 942.9L229.2 941.7L230.3 941.8ZM264.5 1098.0L261.5 1095.2L262.7 1092.1L264.9 1094.5ZM239.8 1011.1L242.0 1010.9L240.9 1012.9L238.8 1012.4ZM279.1 1083.8L276.0 1083.7L278.3 1081.1L281.3 1082.6ZM234.5 970.5L235.4 969.4L237.8 970.4L236.6 972.5L234.9 973.2L233.8 971.6ZM296.7 1091.0L299.1 1093.7L296.7 1096.8L293.4 1093.7ZM282.2 1090.5L281.4 1090.7L280.7 1090.3L280.8 1089.1L281.8 1089.0L282.7 1089.2L282.6 1090.0ZM240.1 1030.8L240.2 1029.0L242.1 1028.2L243.5 1029.4L242.9 1030.8L243.0 1033.1L240.1 1032.9ZM258.2 1074.4L254.1 1076.0L250.7 1072.9L255.5 1071.0ZM260.8 1070.1L261.6 1070.2L262.0 1070.7L261.4 1071.1L260.7 1071.0ZM235.8 969.8L236.4 968.8L237.0 966.7L238.8 967.2L239.1 969.4L239.1 971.0L237.0 970.2ZM232.1 955.4L232.0 954.9L231.9 954.4L232.5 954.3L232.9 954.6L232.9 955.0ZM292.3 1109.2L292.8 1109.9L292.0 1111.0L290.8 1109.6ZM227.1 1008.6L225.5 1009.0L224.8 1008.3L225.8 1007.2ZM242.9 1018.3L243.4 1017.3L243.7 1015.5L245.9 1015.7L246.5 1017.3L245.6 1018.6L244.0 1019.8ZM251.3 1052.8L251.7 1053.4L251.5 1054.1L250.5 1054.0L250.3 1053.4L250.3 1052.8L250.6 1052.4ZM229.1 1056.1L231.0 1055.4L232.2 1057.5L231.3 1060.2L229.1 1060.8L227.1 1059.3L226.5 1056.6ZM240.0 1013.6L237.5 1012.7L236.9 1011.5L237.5 1009.5L239.7 1009.4L241.6 1011.3ZM244.3 1032.5L243.5 1033.2L243.0 1032.1L243.5 1031.1L244.4 1031.8ZM262.2 1088.4L264.1 1089.1L264.4 1091.4L261.5 1092.0L259.9 1090.5L259.6 1088.1ZM304.1 1115.8L300.6 1117.5L298.2 1116.4L297.9 1114.0L300.0 1113.4L301.7 1113.7ZM289.1 1109.5L291.2 1110.4L290.2 1112.2L287.7 1112.1L286.8 1110.9L287.2 1109.6L288.4 1109.0ZM303.0 1108.2L307.1 1108.5L309.5 1113.1L302.6 1112.4ZM288.0 1088.4L288.4 1085.0L292.8 1086.8L292.6 1091.1L288.7 1089.9ZM301.8 1111.0L303.3 1108.9L305.4 1108.0L305.0 1110.5ZM252.0 1070.1L252.1 1066.6L255.6 1068.1L256.6 1069.4L257.6 1072.2L253.9 1072.3ZM241.6 1048.1L246.5 1047.9L245.1 1051.6L243.5 1051.6L240.7 1051.1ZM234.4 1067.7L233.9 1069.6L231.9 1068.8L231.8 1066.2L234.3 1066.5ZM239.9 1029.1L239.2 1028.9L238.0 1029.0L237.3 1028.1L238.7 1027.6L239.5 1028.0L240.0 1028.2ZM293.5 1107.0L292.7 1107.0L292.3 1106.2L293.0 1105.5L294.6 1106.1ZM294.0 1115.1L292.1 1114.8L291.5 1112.2L293.6 1110.7L296.1 1112.3L297.8 1115.3ZM229.9 960.5L228.6 960.4L228.2 959.4L229.6 959.0L230.3 959.0L230.9 959.3L230.6 960.6ZM236.2 1051.9L236.6 1051.2L237.5 1051.7L237.2 1052.2L236.7 1052.7ZM236.4 957.9L237.6 957.8L237.3 958.8L237.1 959.5L236.2 959.8L235.2 958.9ZM302.5 1102.8L300.9 1104.6L299.3 1104.1L299.5 1101.9ZM303.3 1115.8L300.5 1116.5L300.7 1113.5L304.1 1113.3ZM231.7 1001.2L232.6 1000.4L232.6 1001.5L232.1 1002.2ZM287.1 1105.9L288.0 1107.4L287.2 1109.0L284.9 1108.7L285.2 1107.2L285.5 1105.8ZM236.2 1016.7L238.1 1015.8L237.9 1018.0L237.8 1019.4L235.6 1020.3L233.3 1018.2ZM289.3 1100.7L289.7 1098.7L291.7 1098.2L292.9 1098.6L293.7 1100.1L292.0 1101.7ZM236.9 989.7L237.9 989.8L240.6 991.7L238.6 993.4L235.8 993.3L236.0 990.9ZM283.0 1091.1L281.9 1089.7L280.2 1088.6L282.2 1087.7L283.4 1088.1L284.4 1089.3ZM228.7 953.2L229.0 954.1L228.1 954.0L227.5 953.6L228.0 952.8ZM223.0 1028.1L223.4 1026.6L223.0 1025.1L224.5 1025.6L227.0 1026.6L224.7 1027.5ZM242.2 1063.7L242.6 1063.2L243.5 1063.3L243.6 1064.0L243.1 1064.3L242.4 1064.4ZM231.8 1034.0L233.1 1033.0L233.6 1034.3L232.8 1035.5ZM240.1 1069.8L242.0 1069.2L243.6 1068.2L244.3 1069.8L243.4 1071.5L242.3 1071.2L241.5 1070.9ZM235.2 1035.2L236.0 1034.3L237.6 1034.5L237.9 1035.5L237.0 1036.4L235.7 1036.6ZM303.3 1109.3L302.7 1109.1L301.7 1108.8L302.3 1108.2L303.0 1107.9L303.4 1108.4ZM229.9 979.2L226.4 981.8L224.4 978.4L227.4 977.1ZM258.9 1068.8L260.7 1069.3L260.8 1071.0L259.2 1071.7L258.7 1070.3ZM236.8 980.8L239.8 982.6L240.9 984.8L238.1 985.3L235.7 984.4ZM254.8 1071.3L252.0 1069.1L254.3 1067.6L257.0 1067.1L257.7 1069.5ZM284.7 1103.0L286.1 1100.3L287.7 1102.7L289.0 1105.7L285.5 1105.9L284.8 1104.5ZM305.9 1102.1L307.0 1105.7L303.6 1107.8L302.3 1103.8ZM264.4 1079.3L265.7 1081.9L264.3 1083.8L263.0 1084.1L261.9 1083.0L260.0 1081.4L262.2 1080.5ZM257.2 1067.0L253.9 1064.8L258.3 1064.7L259.9 1064.9L261.1 1067.6L258.9 1069.5ZM291.8 1106.6L293.1 1105.5L294.2 1106.4L293.4 1107.5ZM245.6 1055.7L247.5 1056.2L247.6 1058.0L245.0 1059.4L243.4 1056.9ZM292.5 1106.0L291.6 1104.8L292.2 1103.5L294.1 1103.5L294.8 1104.5L295.1 1107.0L293.3 1106.2ZM245.6 1059.5L247.1 1059.7L247.8 1060.3L247.8 1061.7L246.7 1061.3L244.8 1060.8ZM291.8 1107.9L291.2 1107.7L291.0 1106.7L291.9 1105.9L292.3 1107.0L292.3 1107.6ZM233.5 965.3L231.4 962.5L234.8 961.6L238.9 962.6L237.4 966.3ZM250.0 1064.7L247.3 1064.6L246.2 1062.8L247.8 1060.8L250.6 1061.0L249.9 1063.0ZM297.2 1093.8L298.0 1094.1L298.9 1094.1L298.5 1094.7L298.2 1095.3L297.7 1094.8L297.2 1094.6ZM229.3 1016.5L227.6 1018.5L226.1 1016.9L224.5 1015.3L226.2 1013.5L229.3 1014.4ZM256.3 1068.1L259.7 1066.2L262.2 1068.6L259.1 1070.4ZM285.1 1095.7L286.1 1097.8L284.3 1099.0L282.4 1100.0L281.7 1097.8L283.0 1096.6ZM281.3 1103.2L280.2 1103.6L279.8 1102.9L280.5 1102.1ZM238.1 1006.5L238.1 1005.7L237.8 1005.1L238.7 1005.0L238.8 1005.6L239.5 1006.3L238.6 1006.5ZM304.4 1107.1L302.0 1106.6L302.5 1104.8L304.3 1102.1L306.5 1104.3L306.1 1105.9L306.1 1107.6ZM254.6 1072.5L254.0 1072.0L254.6 1071.4L255.2 1070.6L256.0 1071.3L255.6 1072.1L255.4 1072.6ZM292.7 1093.3L293.5 1094.3L292.7 1095.0L291.9 1094.6L291.8 1093.5ZM250.4 1082.7L249.3 1083.7L247.9 1083.7L246.2 1082.8L247.5 1081.4L248.8 1080.7L251.8 1081.0ZM283.4 1085.3L279.9 1083.4L283.2 1081.0L285.6 1083.1ZM233.5 1007.3L234.0 1009.9L232.4 1011.1L231.4 1010.0L230.9 1007.3ZM287.4 1101.2L285.2 1103.9L283.1 1101.5L281.9 1099.0L285.2 1099.0L286.8 1099.3ZM248.4 1066.4L246.3 1065.3L248.4 1063.1L249.7 1065.2ZM271.4 1077.2L272.4 1078.5L271.3 1079.8L268.2 1079.6L268.7 1076.9ZM304.3 1100.5L302.5 1100.9L299.8 1101.5L301.2 1099.6L301.9 1098.3L303.7 1098.8ZM254.4 1054.3L255.9 1055.9L254.1 1057.0L251.5 1056.7L251.2 1053.8ZM280.9 1090.7L280.2 1090.5L280.0 1089.4L281.9 1089.8ZM277.4 1088.8L278.2 1088.0L278.7 1089.5L278.5 1090.4L277.6 1091.3L275.6 1090.0ZM290.2 1097.3L289.9 1098.9L289.8 1100.0L288.6 1099.7L287.5 1098.9L288.6 1097.6ZM273.5 1079.3L276.1 1080.8L274.0 1083.2L271.1 1081.4ZM293.0 1106.7L292.3 1104.4L294.5 1102.5L296.4 1105.4ZM303.0 1114.0L305.4 1113.6L305.9 1115.5L304.7 1116.4L303.3 1115.5ZM235.9 945.4L237.3 946.5L235.6 947.6L234.7 948.2L234.3 947.1L232.5 946.2L234.6 946.0ZM293.5 1090.9L293.1 1092.5L291.5 1092.2L290.5 1090.7L292.3 1090.2L292.9 1090.2ZM239.8 1004.8L240.5 1007.4L237.4 1007.2L237.5 1005.5ZM294.2 1112.4L290.2 1113.4L287.3 1112.1L286.3 1108.5L290.8 1108.5L294.6 1109.2ZM242.5 1064.3L240.3 1063.9L239.9 1062.8L240.7 1061.6L241.5 1062.7ZM231.7 1002.8L232.2 1001.1L234.1 999.5L236.2 1003.2L233.0 1003.7ZM232.0 952.1L230.9 951.7L231.6 950.9L232.5 951.0L233.0 951.2L233.3 951.9L232.7 952.3ZM291.3 1096.7L291.8 1096.4L293.1 1096.5L292.9 1097.8L292.6 1099.2L291.1 1098.7L290.6 1097.4ZM290.2 1089.3L291.6 1088.8L292.2 1090.3L290.8 1091.0ZM239.4 1003.8L237.8 1003.2L236.7 1001.4L239.0 1000.6L242.5 1002.1ZM224.7 1034.4L229.4 1035.6L226.9 1038.7L224.6 1039.7L222.1 1037.5ZM233.1 1036.1L233.7 1034.7L234.9 1035.5L235.5 1036.4L234.9 1037.4L233.8 1037.1ZM234.4 1009.2L234.8 1008.7L236.8 1008.0L236.6 1009.6L236.2 1010.8L234.9 1011.3L234.1 1010.1ZM258.8 1083.3L258.1 1081.7L259.3 1080.8L262.1 1079.4L262.8 1082.7L260.9 1085.7ZM231.0 1043.9L234.5 1043.9L231.8 1045.9L230.8 1047.2L228.9 1046.0L229.0 1044.0ZM248.6 1070.7L249.1 1071.3L249.1 1071.8L248.7 1072.1L247.8 1072.2L247.5 1071.6L248.1 1070.7ZM284.1 1107.3L285.9 1107.2L287.0 1107.8L288.3 1109.8L286.3 1111.2L283.9 1110.7L283.8 1108.9ZM234.8 971.6L230.7 970.0L234.7 968.1L236.9 968.7L236.0 970.4ZM233.2 1032.3L232.6 1033.7L230.4 1033.6L229.5 1031.8L231.9 1030.5ZM265.4 1070.0L263.2 1068.1L265.9 1067.4L267.1 1067.7L268.0 1070.7ZM228.5 1023.8L227.1 1024.0L226.3 1023.7L226.1 1022.6L227.1 1022.3L228.5 1022.6ZM258.1 1085.1L257.1 1086.1L255.9 1085.2L256.2 1083.8L257.6 1083.7ZM305.7 1112.9L302.4 1113.8L300.7 1110.3L304.9 1110.1ZM228.9 1024.5L229.7 1022.7L232.2 1022.5L233.5 1023.5L233.4 1025.5L230.8 1025.0ZM278.9 1087.5L277.3 1085.4L280.0 1085.1L280.5 1087.1ZM240.3 1003.3L240.7 1004.4L240.6 1005.2L239.0 1006.3L236.0 1004.8L238.8 1002.6ZM265.6 1078.4L268.8 1076.5L271.2 1079.1L268.1 1080.7ZM229.8 987.0L229.0 986.8L228.5 986.6L228.7 986.2L229.5 985.5L229.6 986.4ZM239.1 1047.3L239.6 1047.6L239.5 1048.3L239.0 1049.0L237.8 1048.9L237.3 1047.8L238.6 1047.3ZM231.9 1013.8L230.9 1014.5L230.6 1013.6L230.8 1012.8L231.7 1012.3L232.6 1012.6L232.2 1013.5ZM238.1 1060.8L239.8 1061.8L238.5 1063.4L237.1 1062.2ZM249.4 1087.9L251.2 1087.1L252.4 1087.8L251.3 1089.2ZM233.1 1027.1L233.5 1025.4L234.4 1026.4L234.3 1028.1ZM236.3 950.3L236.2 952.7L231.1 952.7L234.0 949.5ZM234.6 979.2L237.0 979.1L237.9 980.1L237.9 980.9L236.9 982.1L234.2 981.3ZM240.4 1075.7L239.2 1073.8L242.0 1073.1L243.4 1072.4L245.5 1074.5L244.3 1076.3L242.1 1077.5ZM224.3 954.1L225.2 954.3L225.4 955.1L224.9 956.2L223.8 955.4ZM242.6 1069.1L240.2 1066.5L242.1 1064.4L244.9 1064.7L245.5 1068.1ZM295.1 1091.0L295.0 1091.8L294.1 1092.5L293.3 1092.0L293.1 1091.3L293.9 1090.7ZM236.7 1039.9L238.7 1040.5L239.1 1041.6L238.1 1042.8L237.5 1041.4ZM242.0 1045.2L242.9 1047.9L243.7 1050.3L240.6 1051.1L237.0 1049.1L239.7 1047.3ZM284.2 1105.0L283.7 1102.6L286.7 1102.9L288.6 1103.8L288.2 1105.8L285.4 1106.8ZM255.0 1064.7L254.3 1064.2L254.4 1063.3L255.4 1062.7L255.8 1063.6L256.6 1064.9ZM232.8 1053.9L234.6 1051.9L237.5 1055.5L233.3 1056.8ZM227.1 1024.6L226.6 1026.0L222.4 1025.7L225.2 1023.0L227.9 1021.9ZM239.4 1059.6L238.7 1059.6L238.0 1059.1L238.3 1058.0L239.0 1057.9L240.7 1057.8L240.6 1058.9ZM278.5 1090.2L279.0 1089.3L279.3 1090.4L280.0 1091.5L278.7 1091.9L278.3 1090.8ZM235.5 1016.9L236.8 1014.8L238.5 1012.8L240.8 1014.6L241.9 1016.5L240.4 1018.9L237.8 1018.0ZM296.2 1095.8L297.7 1097.0L297.3 1098.2L295.5 1097.6ZM236.3 1059.8L235.6 1061.4L234.6 1060.8L233.2 1059.6L235.1 1058.4ZM290.0 1105.9L290.2 1108.7L288.1 1108.5L284.3 1108.5L286.9 1106.3L287.4 1105.2L288.9 1105.3ZM253.0 1077.6L253.3 1076.5L255.3 1076.8L255.3 1078.2L256.4 1080.3L254.1 1079.4L252.7 1079.1ZM252.9 1073.4L254.3 1072.5L256.2 1072.3L256.4 1074.4L256.1 1075.7L254.0 1076.1L253.2 1075.1ZM232.4 1015.6L233.9 1014.4L235.0 1015.9L233.3 1017.3ZM238.7 1044.8L236.4 1044.9L236.6 1043.3L238.9 1042.2ZM255.1 1065.6L256.3 1067.2L253.7 1067.4L252.6 1067.2L252.7 1065.4L253.7 1064.4ZM246.7 1038.4L247.5 1040.2L245.1 1040.3L245.0 1038.5L245.9 1037.7ZM238.9 1017.9L238.3 1019.4L238.7 1022.5L236.1 1021.3L234.7 1019.8L235.2 1017.6L236.7 1015.5ZM260.3 1082.6L261.1 1083.8L260.4 1084.5L258.4 1083.9ZM239.9 1014.7L240.6 1013.2L242.0 1012.9L243.2 1012.8L244.3 1014.8L242.1 1014.9ZM247.6 1064.7L248.1 1065.6L246.9 1066.0L246.2 1064.9ZM230.7 947.0L230.3 946.4L230.0 945.7L230.5 945.5L231.5 945.4L231.2 946.4ZM258.7 1084.2L260.3 1082.4L261.5 1084.3L263.4 1087.1L259.7 1085.9ZM243.3 1027.8L244.7 1027.4L247.4 1028.8L244.5 1030.1L243.0 1029.2ZM263.1 1091.1L264.2 1089.0L266.0 1089.7L266.5 1090.4L266.3 1091.7L266.1 1093.1L263.4 1093.4ZM239.2 1028.9L237.3 1029.8L234.8 1029.3L235.8 1027.5L237.8 1027.0Z" fill="#fff" stroke="#000" stroke-width="0.8"/><path d="M267.1 1101.1l2.9 0.8M292.1 1102.3l2.1 0.5M256.8 1063.9l-0.8 2.3M234.2 1026.5l0.3 3.7M307.0 1102.0l4.0 4.0M255.2 1089.6l1.3 1.7M260.7 1076.6l0.9 3.1M298.7 1105.0l2.0 0.6M224.3 1019.5l-2.7 5.2M273.5 1104.1l3.7 0.1M272.4 1081.0l3.4 3.9M222.2 967.6l-0.9 2.2M283.6 1096.8l1.8 2.4M227.1 967.0l-1.1 1.7M239.9 1030.5l-0.5 5.2M306.4 1104.1l2.8 5.0M233.3 957.9l0.6 2.8M245.1 1013.4l0.2 2.2M237.6 967.5l-1.0 3.9M245.1 1050.8l0.3 3.3M273.3 1085.0l5.3 1.5M289.8 1095.1l4.0 1.6M234.6 1066.7l0.5 2.3M222.7 968.1l-1.3 4.7M243.5 1073.9l-1.9 4.5M244.4 1074.1l0.5 4.2M224.9 1001.0l-0.9 5.4M296.8 1111.6l2.7 1.5M228.0 953.3l0.1 4.2M297.4 1103.4l3.7 2.6M274.1 1095.2l0.9 1.8M271.4 1100.1l2.4 0.4M247.6 1082.5l0.0 2.1M230.0 941.4l1.2 3.3M230.2 940.6l0.6 2.9M231.6 1032.7l1.8 2.8M288.2 1093.9l4.0 -0.4M241.2 990.4l1.3 3.6M287.8 1089.6l2.2 1.2M235.0 1065.1l-0.5 3.2M260.7 1076.7l0.7 4.4M224.2 955.7l-2.3 4.8M290.8 1111.1l5.0 0.5M227.2 1018.2l-2.0 5.0M282.2 1099.3l5.6 1.2M248.9 1060.3l0.4 2.9M234.3 961.8l1.2 2.5M234.6 1001.1l-0.1 4.5M290.9 1095.4l2.4 1.5M227.0 978.2l1.3 2.3M242.5 1015.8l2.2 4.1M234.9 988.3l2.2 3.5M230.8 960.7l2.1 3.9M269.8 1096.2l3.7 2.2M244.2 1013.3l0.3 3.6M248.6 1053.0l-1.9 5.6M245.9 1054.2l-2.4 3.9M305.8 1103.9l2.4 1.6M229.7 1039.1l1.7 4.8M263.7 1084.6l2.7 2.5M275.6 1077.7l3.9 4.5M235.4 997.9l-2.0 3.4M232.6 1040.0l0.1 2.1M236.8 1057.8l0.0 2.4M226.0 956.0l0.7 3.7M238.5 1049.6l1.5 3.2M232.6 944.1l1.5 5.7M229.9 1018.9l0.0 5.0M270.0 1102.5l2.5 0.4M231.7 1022.3l-1.9 3.0M236.7 1036.9l-1.0 5.8M255.2 1061.4l1.8 2.8M303.7 1107.2l4.3 -0.1M267.4 1091.0l4.4 1.1M296.4 1107.4l1.7 2.6M228.3 990.1l-2.2 3.3M225.4 966.1l2.5 4.5M240.2 1030.2l-1.7 4.6M236.0 965.4l-1.3 3.2M244.4 1041.2l1.1 3.7M230.1 973.4l0.9 2.0M291.8 1100.4l5.4 0.4M236.3 1046.1l0.7 2.3M301.0 1102.0l3.3 2.4M294.7 1092.9l4.4 -0.2M286.0 1106.6l3.0 0.2M240.6 1051.3l0.1 3.8M233.3 970.8l0.9 4.0M290.5 1090.2l2.7 5.0M228.7 955.4l1.1 3.6M276.8 1081.3l2.2 1.2M306.6 1101.7l3.8 0.1M236.3 1040.9l1.9 4.8M241.5 1000.1l-0.3 2.0M233.5 960.7l-1.8 3.2M241.0 988.4l1.5 2.5M223.9 959.6l-1.9 3.0M238.6 1017.6l-0.0 2.1M233.0 1061.4l0.3 4.3M241.4 1011.1l2.1 4.3M223.1 964.2l-0.5 3.0M307.1 1100.5l5.5 0.3M281.6 1088.9l1.8 3.5M239.3 1072.1l1.2 2.6M252.6 1066.8l3.0 4.5M237.1 942.1l0.9 2.9M284.4 1107.0l2.9 4.3M245.9 1059.2l-0.3 2.0M256.5 1065.1l1.8 3.6M236.3 988.9l1.1 2.1M238.4 994.6l0.7 4.1M304.4 1106.6l2.5 1.6M285.9 1101.8l3.1 2.1M305.9 1106.2l2.3 1.5M233.2 1011.4l2.6 4.1M234.9 1053.1l-1.7 4.1M239.0 1042.3l0.9 3.0M239.5 1051.4l-0.9 2.7M235.1 1051.1l-1.2 2.8M300.5 1097.1l3.0 -0.0M241.4 1079.4l-1.2 5.3M232.8 1015.0l1.9 4.3M239.9 1019.5l-0.5 4.7M225.6 963.3l1.6 2.6M255.0 1072.2l-0.4 5.7M297.6 1105.8l4.0 1.0M245.1 1039.5l2.2 3.3M227.2 1019.9l-0.0 4.5M245.3 1041.6l2.4 4.4M233.5 946.7l-0.8 4.3M229.0 1054.1l-1.5 3.5M237.9 1073.7l-1.2 2.2M234.8 1061.6l-2.4 4.2M291.2 1098.3l5.2 0.0M242.5 1040.2l1.4 3.1M292.1 1097.4l2.0 -0.0M252.8 1054.2l-2.0 4.0M231.1 963.2l0.5 2.7M229.6 973.2l-0.4 2.1M263.2 1067.9l2.5 4.4M290.4 1100.3l5.1 2.7M232.6 957.8l-1.5 2.3M249.8 1052.2l0.8 3.9M260.8 1073.5l1.0 3.7M239.0 1032.0l1.2 2.7M240.2 1045.3l0.6 2.2M303.0 1111.8l4.9 1.3M229.6 959.0l-1.8 5.2M232.8 950.5l0.1 4.5M257.1 1077.1l-0.6 2.7M226.7 968.9l-0.4 5.4M243.1 1049.9l0.6 3.9M232.3 1064.6l1.8 2.9M307.1 1102.3l4.6 0.4M284.7 1103.1l4.1 3.3M254.6 1064.2l-1.2 2.8M247.1 1054.3l1.6 5.1M231.5 1031.9l-1.0 2.1M259.8 1081.0l-1.8 3.8M228.3 955.6l-0.2 4.7" stroke="#000" stroke-width="0.8" fill="none"/>
<path d="M473.4 455.3L471.8 457.3L469.5 458.4L467.2 459.6L465.3 461.2L463.6 463.1L460.9 464.2L458.7 466.1L456.0 467.0L453.8 468.9L451.3 469.4L449.0 470.7L446.4 470.5L444.0 470.9L441.9 472.5L438.9 471.8L436.6 472.7L434.5 474.5L432.2 475.4L429.5 475.5L427.3 476.8L424.4 475.6L421.8 474.0L419.4 471.9L417.4 473.7L414.9 474.9L412.3 475.8L409.6 476.6L407.7 478.7L405.3 480.2L402.3 479.9L400.1 481.6L397.3 482.0L394.9 483.1L392.8 485.2L390.0 485.6L387.1 484.9L384.0 485.5L381.1 485.3L378.2 484.2L375.3 483.6L372.7 483.8L370.4 484.8L368.1 486.1L365.3 485.6L362.8 486.2L360.6 487.5L358.1 489.0L355.4 489.6L352.7 490.2L349.9 490.8L347.7 493.1L344.9 493.4L342.3 492.2L340.0 490.3L337.1 489.8L334.6 488.5L332.0 487.2L329.2 486.6L326.7 486.4L324.1 486.6L321.6 486.0L319.1 485.9L316.6 486.1L314.1 485.1L311.5 485.6L308.6 486.0L305.7 486.0L302.7 485.7L299.7 485.8L296.8 486.6L294.2 486.9L292.1 488.3L290.0 489.9L287.3 489.9L284.9 490.8L282.7 492.1L280.3 493.0L278.2 494.4L275.6 494.4L272.9 494.4L270.3 494.2L267.7 495.0L265.1 494.1L262.5 494.4L259.9 492.9L256.8 493.3L254.3 491.5L251.5 490.8L248.4 491.0L245.8 489.5L245.6 492.4L243.7 494.7L242.9 497.3M242.9 497.3L241.6 499.7L241.1 502.5L238.7 504.3L237.6 506.8L237.2 509.6L236.0 512.1L235.2 514.5L235.5 517.1L235.0 519.5L234.4 522.0L233.2 524.3L233.1 526.8L233.6 529.8L232.2 532.7L233.1 535.7L234.8 538.0L235.5 540.7L236.7 543.2L236.5 546.3L238.2 548.6L239.0 551.3L240.2 553.8L240.9 556.5L241.7 558.9L243.0 561.1L243.8 563.5L245.8 566.0L246.9 568.9L248.6 571.5L249.7 574.5L251.4 576.5L251.2 579.4L252.7 581.5L254.4 583.4L256.4 585.0L258.6 586.5M242.9 497.3L240.1 498.1L237.2 497.4L234.5 498.3L231.6 497.5L228.8 497.8L226.1 498.4L223.2 498.3L220.3 498.5L217.3 499.0L214.5 500.3L211.5 499.8L208.5 500.3L205.5 501.0L202.6 502.2L199.5 502.6L196.8 504.2L196.1 506.7L196.6 509.3L196.7 511.9L196.6 514.5L195.8 517.0L196.4 519.7L197.8 522.0L199.0 524.4L200.5 526.8L201.5 529.3L202.6 531.7L204.5 534.0L205.5 536.7L207.6 538.8L208.5 541.6L209.3 544.1L210.3 546.5L211.2 548.9L212.9 551.0L213.4 553.5M245.8 485.6L244.6 483.1L242.1 482.0L240.6 479.8L238.8 478.0L236.3 476.8L234.3 475.2L233.1 472.9L231.1 471.2L228.4 470.3L226.6 468.4L225.1 466.1L222.9 464.6L220.0 464.2L218.3 462.1L215.8 462.8L213.3 462.6L210.8 461.5L208.2 463.0L205.7 462.6L203.2 462.8L200.7 462.1M297.8 483.6L295.5 481.9L292.9 481.0L290.2 480.3L287.3 480.2L284.8 479.0L282.5 477.4L280.0 476.2L277.2 475.8L274.5 475.8L272.1 474.8L270.1 472.8L267.2 473.3L265.0 471.6L262.4 471.4L260.1 470.1L257.8 468.9L255.2 468.6L252.7 468.0L250.4 466.8L248.2 465.6L246.2 463.9L244.1 462.6L241.7 461.6L239.6 460.2L237.4 458.8L235.0 457.9L233.1 456.2L230.4 455.9L228.2 454.4L225.5 454.4L223.3 452.7L221.0 451.5L218.5 450.6L215.7 450.7L213.4 449.4M329.2 482.6L327.3 480.8L324.6 480.4L322.8 478.5L320.8 477.0L318.0 476.8L316.2 474.9L313.6 474.3L311.5 472.9L308.9 472.8L306.6 471.8L304.3 470.5L301.6 470.9L299.3 469.3L296.8 469.2L294.2 468.9L291.9 467.8L289.4 467.2L287.0 466.4L284.7 465.0L282.1 465.0L280.0 463.2L277.0 463.1L275.1 460.7L272.4 460.2L270.2 458.4L267.6 457.5L265.0 456.8L262.3 456.1L260.4 453.8L257.6 453.3L255.5 451.3L252.8 450.7L249.9 450.3L248.0 447.9L245.5 446.8L243.2 445.4L240.8 444.0L238.0 443.6L235.7 442.1L233.2 441.9L230.6 441.9L228.2 441.1L225.7 440.5L223.4 439.5L220.8 439.1L218.3 438.7M375.3 483.6L373.4 481.8L371.5 480.0L368.5 479.7L367.4 476.8L365.1 475.5L362.2 475.0L360.6 472.9L358.8 470.6L356.7 468.8L353.8 467.9L352.6 465.0L349.8 464.1L347.8 462.1L345.4 461.6L343.0 460.6L340.6 459.9L338.1 459.2L335.5 459.4L333.1 458.5L330.5 458.5L328.2 457.2L325.6 457.1L323.1 456.2L320.3 456.5L317.9 455.5L315.4 454.2L312.7 454.8L310.2 453.9L307.6 453.3L305.7 451.3L305.6 448.4L303.4 446.6L302.4 444.2L301.7 441.6L301.8 439.0L301.0 436.4L300.7 433.8M357.6 467.0L357.9 464.2L359.2 461.7L360.6 459.3L360.7 456.5L361.1 453.7L361.5 451.0L362.5 448.4L362.6 445.8L364.7 443.7L365.0 441.1L364.7 438.4L366.0 436.0L366.8 433.6L367.8 431.2L367.4 428.4L368.4 426.0L369.4 423.6L370.6 421.2L372.4 419.2L373.2 416.8L374.6 414.5L375.0 412.0L375.3 409.4M306.6 452.3L304.0 452.1L301.9 450.0L299.5 449.1L296.8 449.0L294.2 448.3L291.7 447.6L289.2 446.9L286.8 445.8L284.4 444.9L282.1 443.6L279.4 442.6L276.4 443.6L273.6 443.3L271.0 441.7L268.2 441.4L265.2 442.6L262.5 441.6L259.9 440.4L258.0 437.9L255.0 437.4L252.7 435.8M319.4 478.7L318.5 481.3L316.9 483.5L315.5 485.7L314.9 488.5L313.0 490.5L311.0 492.4L310.4 495.1L309.2 497.5L307.4 499.6L306.6 502.2L304.5 503.9L302.5 505.8L299.7 506.7L298.3 509.3L295.3 509.9L293.1 511.5L291.3 513.6L289.2 515.3L287.0 517.0L285.3 519.0L283.1 520.3L280.4 520.8L278.4 522.3L276.4 523.8L274.8 525.9L272.3 526.8L269.7 527.7L267.0 528.5L264.6 529.9L262.4 531.5L260.1 533.1L257.6 534.3L255.4 536.0L252.7 536.7L252.2 539.5L249.5 541.3L249.2 544.2L247.8 546.6M361.6 489.5L358.9 490.4L357.2 492.7L354.5 493.6L352.9 496.0L350.4 497.2L348.3 499.1L345.9 500.3L344.0 502.3L342.8 504.9L340.5 506.6L338.8 508.8L337.3 511.3L334.4 512.4L332.4 514.4L331.2 517.0L329.5 519.1L326.9 520.1L325.0 521.9L323.1 523.6L320.8 525.1L318.7 526.6L317.1 528.8L315.0 530.3L312.8 531.7L310.2 532.7L308.2 534.4L306.6 536.7L304.2 537.7L302.5 539.6L299.9 540.3L297.7 541.6L295.7 543.2L294.3 545.6L291.9 546.6L289.5 548.0L287.2 549.5L284.6 550.4L281.8 551.0L279.7 552.8L277.3 554.3L275.0 555.8L272.3 556.5L270.0 557.9L267.2 557.4L264.7 558.0L262.5 559.5M387.1 486.6L384.8 487.9L383.7 490.4L381.0 491.2L379.7 493.5L377.9 495.4L375.8 496.9L374.5 499.2L372.6 500.9L370.4 502.2L368.7 504.2L367.1 506.3L364.7 507.5L363.1 509.7L361.3 511.6L359.6 513.6L357.9 515.5L355.7 517.0L353.7 518.8L351.7 520.6L350.8 523.3L348.5 524.9L347.5 527.5L345.2 529.0L344.2 531.7L342.0 533.4L340.6 535.6L338.2 537.2L337.0 539.6L335.1 541.6L334.6 544.5L333.1 546.7L331.0 548.5L329.8 551.0L328.3 553.1L325.7 554.6L324.2 556.8L323.3 559.5L324.9 562.3L325.6 565.3L325.3 568.5L326.2 571.5L326.1 574.2L326.8 576.6L327.8 579.1L328.3 581.6L329.3 584.0L329.9 586.5L329.9 589.2L331.2 591.5L331.6 594.1L330.2 596.5L329.9 599.1L330.6 601.7L329.2 604.1L330.0 606.8L328.3 609.1L328.3 611.7L328.6 614.3L328.2 616.8M315.5 555.5L314.5 558.2L313.2 560.7L312.3 563.4L311.2 566.0L309.9 568.5L309.6 571.5L308.4 573.8L308.6 576.7L307.7 579.1L306.5 581.5L305.8 584.1L304.1 586.3L303.7 588.9L303.3 591.6L302.8 594.1L301.7 596.6L300.9 599.3L299.1 601.5L297.4 603.8L296.8 606.7M323.3 570.5L326.0 570.3L328.2 572.4L330.7 572.8L333.6 572.3L335.8 573.9L338.5 574.0L340.7 575.8L343.2 576.4L345.9 576.5L348.5 577.4L350.7 579.1L353.2 580.2L355.9 581.1L358.2 582.6L360.7 583.8L363.1 585.2L365.5 586.5L366.2 589.1L367.9 591.0L370.4 592.5L371.3 595.0L371.8 597.7L373.5 599.7L375.3 601.6M427.3 476.8L426.5 479.3L425.5 481.8L423.4 483.6L422.8 486.3L421.0 488.3L420.5 491.0L417.9 492.6L417.5 495.4L416.1 497.6L415.6 500.3L414.8 502.9L412.4 504.6L411.2 507.0L411.0 509.8L409.6 512.1L408.8 514.6L406.1 515.8L404.8 518.0L404.1 520.5L403.2 523.0L400.8 524.5L399.8 526.8L397.9 528.9L397.9 531.9L396.6 534.3L394.6 536.4L393.7 539.0L393.0 541.6L391.8 544.0L392.0 546.6L392.3 549.1L390.7 551.4L390.6 554.0L390.1 556.4L390.7 559.0L390.0 561.5L389.9 564.0L388.2 566.3L387.8 568.8L388.8 571.6L388.3 574.1L387.7 576.6L386.3 578.9L386.5 581.6L386.2 584.1L385.1 586.5M399.8 526.8L400.9 529.4L403.5 530.9L405.3 533.0L406.9 535.2L407.6 538.1L409.1 540.4L410.6 542.7L412.6 544.6L414.5 546.6L415.3 549.2L416.2 551.7L417.5 554.0L418.4 556.6L420.0 558.8L421.2 561.2L420.8 564.2L421.9 566.7L422.6 569.3L424.4 571.5L423.4 573.9L423.2 576.4L423.5 579.1L421.7 581.3L421.8 584.0L421.4 586.5M451.8 468.9L451.2 471.5L451.6 474.2L451.4 476.8L452.7 479.4L451.6 482.0L451.8 484.6L450.0 486.8L448.9 489.5L447.4 492.0L445.9 494.4L445.4 497.1L444.1 499.5L442.8 502.0L441.4 504.4L441.0 507.1L442.2 509.7L443.7 512.0L445.2 514.4L445.8 517.2L447.9 519.3L448.9 521.9L449.0 524.5L447.6 526.8L447.0 529.3L445.8 531.6L445.9 534.3L444.9 536.6L444.8 539.2L444.0 541.6L443.6 544.1L444.0 546.7L442.9 549.1L443.0 551.6L442.3 554.1L442.2 556.6L441.0 558.9L441.0 561.5L441.0 564.0L440.7 566.5L440.4 569.0L439.8 571.4L440.0 574.0L439.1 576.4L439.0 578.9L439.1 581.5M481.2 469.9L481.1 472.5L480.6 475.0L479.6 477.3L479.4 479.9L478.3 482.2L478.2 484.8L476.9 487.0L476.3 489.5L477.8 491.9L479.7 494.1L480.5 496.9L483.2 498.6L483.3 501.9L485.7 503.7L487.1 506.2L489.4 507.5L490.9 509.6L492.6 511.5L495.0 512.7L495.9 515.4L497.9 517.0L497.9 519.9L498.2 522.9L498.3 525.9L498.0 528.8L498.9 531.7L498.0 534.2L496.9 536.6L495.2 538.7L494.3 541.2L494.5 544.1L493.7 546.5L491.4 548.4L490.9 551.0L490.1 553.5L490.8 556.1L490.3 558.7L490.0 561.2L489.7 563.8L489.8 566.4L489.6 568.9L489.1 571.5L489.1 574.0L488.6 576.5L489.1 579.0L488.8 581.5L490.6 583.9L490.2 586.5L489.2 589.0L490.1 591.5L490.4 594.1L491.4 596.5L492.0 599.0L491.4 601.7L491.7 604.3L493.0 606.7M487.1 506.2L486.3 508.7L486.7 511.4L486.4 514.0L485.4 516.5L484.2 519.0L484.5 521.7L483.0 524.1L483.2 526.8L481.8 529.2L480.7 531.7L479.4 534.1L478.2 536.6L477.1 539.2L475.3 541.4L474.3 544.0L473.4 546.6L472.6 549.1L472.8 551.8L471.7 554.2L471.1 556.7L469.1 558.8L468.2 561.3L468.5 564.0L467.5 566.5L466.6 568.9L467.4 571.7L465.6 574.0L466.5 576.8L464.8 579.2L464.6 581.8L463.8 584.3L463.6 586.9L463.6 589.5L462.2 591.6L461.2 594.0L459.6 595.9L457.2 597.2L456.0 599.4L455.5 602.2L452.9 603.4L452.4 606.1L451.1 608.2L448.9 609.7M606.8 556.5L604.9 554.4L601.9 554.0L600.2 551.6L597.7 550.5L595.8 548.3L593.1 547.6L590.7 546.2L588.1 545.2L585.4 544.5L583.3 542.6L580.5 543.2L577.6 542.8L574.8 543.2L572.2 545.0L569.3 544.5L566.6 545.6L564.8 547.6L562.3 548.6L560.4 550.4L558.4 552.2L556.2 553.5L553.7 554.6L551.9 556.5L549.4 557.2L547.3 558.8L545.1 560.1L542.8 561.3L540.1 561.5L538.6 563.8L538.6 566.5L537.9 569.0L537.3 571.5L537.1 574.2L536.1 576.6L534.1 578.7L534.2 581.5L533.7 584.0L532.7 586.5L531.3 588.8L531.1 591.5L531.1 594.2L530.6 596.8L529.6 599.3L528.3 601.6L528.3 604.3L527.4 606.9L526.7 609.4L525.7 611.9L524.7 614.3L524.1 616.9L523.4 619.5L522.5 621.9L521.5 624.3L521.1 626.8L519.0 628.7L519.3 631.5L517.8 633.6L517.3 636.1L516.1 638.3L516.2 641.0L513.6 642.7L512.9 645.1L512.6 647.7M391.0 807.0L388.3 805.5L385.3 804.6L383.3 801.9L380.2 801.2L378.2 799.5L376.0 798.2L374.2 796.3L371.2 796.2L369.4 794.1L369.8 791.6L368.6 789.2L368.5 786.7L368.4 784.1L369.0 781.6L368.4 779.1L370.6 777.3L371.7 774.8L372.6 772.1L373.8 769.7L375.5 767.5L376.8 765.2L378.7 763.2L380.2 760.9L380.8 758.4L380.8 755.7L381.6 753.2L383.4 750.9L383.7 748.3L383.2 745.5L385.2 743.3L385.1 740.6L385.6 738.1L387.0 735.7L387.1 733.0L389.6 733.1L392.1 732.3L394.6 731.9L397.2 731.9L399.8 732.1L402.3 731.5L404.7 730.8L407.5 730.4L410.2 730.5L412.8 731.4L415.5 731.9L416.6 729.4L418.8 727.6L419.9 725.1L420.6 722.4L422.5 720.3L424.1 718.2L425.4 715.8L426.5 713.3L428.3 711.2L429.3 708.8L429.2 706.1L431.1 703.9L430.7 701.1L431.5 698.6L432.2 696.1L433.8 694.1L434.2 691.4L436.3 689.5L436.9 686.9L438.0 684.6L439.1 682.3L440.1 679.7L441.7 677.5L443.4 675.4L445.3 673.4L445.7 670.5L448.2 668.8L449.7 666.6L449.8 663.5L452.1 661.8L452.9 659.1L454.8 657.0L456.6 654.9L459.8 654.6L461.4 652.0L463.8 650.7L466.4 649.5L468.5 647.7L470.7 646.4L473.1 645.3L475.3 643.9L476.9 641.7L478.6 639.7L481.5 639.3L483.2 637.3L486.2 636.7L489.1 637.1L492.0 636.8L495.0 637.9L497.9 637.3M463.6 652.9L466.4 652.6L468.9 654.0L471.6 654.1L474.2 655.5L476.9 655.4L479.6 655.8L482.2 657.0L485.1 656.3L487.6 657.8L490.4 657.5L493.0 658.1L495.4 659.3L497.6 660.6L500.2 661.2L502.8 661.7L505.1 663.0L508.0 662.5L510.2 664.1L512.4 665.7L514.9 666.4L517.6 666.7L520.2 667.2L522.5 668.6M458.7 660.2L461.1 661.2L463.5 662.4L466.2 663.0L468.2 665.1L470.8 665.8L473.2 666.9L475.9 667.4L478.3 668.6L480.1 670.6L482.4 671.9L484.7 673.3L487.4 674.1L489.3 676.1L490.9 678.4L493.5 679.3L495.9 680.6L497.9 682.3L500.2 684.3L503.2 685.5L505.5 687.6L507.7 689.7M428.3 712.3L430.9 711.7L433.4 712.0L435.9 712.8L438.5 712.4L441.0 714.1L443.6 712.7L446.1 713.9L448.7 713.7L451.2 714.9L453.8 714.4L456.5 713.7L459.4 713.8L462.2 713.7L465.0 713.4L467.7 712.8L470.6 713.4L473.4 713.4L475.9 712.3L478.7 712.8L481.2 712.3M387.1 730.8L389.1 728.8L389.8 726.0L390.5 723.3L393.0 721.5L393.5 718.6L395.4 716.5L395.5 713.5L397.0 711.2L398.8 709.0L399.5 706.5L399.1 704.0L397.6 701.5L398.2 699.0L398.0 696.5L397.5 694.0L397.1 691.5L397.4 688.9L396.9 686.4L396.9 683.9L398.0 681.3L396.9 678.9L396.7 676.3L396.9 673.8L396.7 671.2L396.2 668.6L397.6 666.0L396.9 663.3L397.2 660.7L397.8 658.1L396.2 655.5L396.9 652.9L397.7 650.3L398.3 647.7L399.6 645.2L399.8 642.5L400.8 640.0L401.4 637.3L401.6 634.6L403.2 632.2L404.4 629.8L404.7 627.1L406.3 624.8L406.3 621.9L407.2 619.4L408.5 617.0L408.7 614.3L409.6 611.8L407.1 610.6L404.9 608.8L402.6 607.3L399.8 606.7M397.9 709.0L396.3 706.7L393.4 705.9L392.1 703.3L389.4 702.3L387.9 699.9L385.4 698.7L383.6 696.6L381.6 694.8L378.8 693.9L377.6 691.2L375.3 689.7L372.7 688.8L370.8 686.8L368.9 684.9L366.5 683.7L364.4 682.1L361.7 681.3L359.7 679.6L357.2 678.6L355.2 676.7L352.7 675.8L350.8 673.8L348.5 672.4L345.8 672.9L343.5 671.7L341.0 671.1L338.5 670.6L336.2 669.2L333.7 669.0L331.2 668.6L329.5 666.1L326.8 664.8L324.8 662.7L322.7 660.7L321.3 658.1M390.0 726.4L388.1 724.6L386.0 722.9L383.8 721.3L382.0 719.4L379.8 717.9L377.7 716.2L375.3 714.9L373.2 713.2L371.8 710.8L369.1 709.8L367.7 707.3L365.5 705.8L363.6 704.1L361.4 702.8L359.9 700.6L357.5 699.5L355.6 697.9L354.1 695.7L351.7 694.6L349.8 692.9L347.3 692.0L345.9 689.7L343.9 688.0L341.5 687.0L339.2 685.6L337.6 683.4L335.3 682.3L333.0 681.0L331.2 679.1M391.0 805.9L390.7 803.0L392.2 800.4L392.6 797.7L392.2 794.8L392.6 792.1L393.9 789.5L395.1 787.1L394.4 784.4L394.6 781.8L395.5 779.3L396.3 776.9L395.6 774.2L397.0 771.8L396.2 769.1L396.9 766.6L399.1 765.0L400.4 762.6L401.1 759.8L403.9 758.6L404.3 755.6L405.9 753.5L408.2 751.9L409.6 749.7L412.2 748.0L412.9 744.7L416.1 743.5L417.8 741.1L419.4 738.6L422.1 737.8L424.3 736.1L426.7 735.0L429.1 733.8L431.7 733.1L434.0 731.5L436.3 730.2L439.1 729.7L441.6 730.1L444.1 730.1L446.3 731.8L449.0 731.4L451.4 732.1L453.8 733.0L456.3 733.6L458.6 734.8L461.0 735.7L463.4 736.4L466.2 736.1L468.3 737.7L470.7 738.6L473.4 738.6L475.8 739.8L478.3 740.8M394.9 798.8L397.6 798.8L399.7 796.9L402.3 796.6L404.5 795.3L406.9 794.4L409.5 793.8L412.2 793.9L414.5 793.0L416.4 791.0L418.9 789.9L421.1 788.3L423.0 786.4L424.6 784.1L426.7 782.5L429.3 781.4M370.4 780.3L369.4 777.8L368.6 775.3L366.6 773.4L366.5 770.6L365.4 768.2L364.3 765.8L362.7 763.7L361.1 761.6L360.7 758.8L358.4 757.0L358.0 754.3L356.2 752.3L355.7 749.7L354.2 747.3L352.1 745.4L350.5 743.1L347.8 741.8L346.8 739.0L345.0 736.8L342.3 735.6L341.0 733.0L339.0 731.1L337.5 728.7L336.4 726.2L335.7 723.4L333.3 721.7L333.2 718.6L331.2 716.6L329.5 714.5L327.6 712.6L326.0 710.5L324.3 708.4L323.3 705.8M350.8 766.6L349.7 764.1L348.2 761.7L347.9 758.9L346.9 756.4L345.6 754.0L343.4 751.9L342.7 749.3L341.8 746.7L341.0 744.1L339.5 741.9L337.2 740.8L335.1 739.4L333.3 737.7L331.2 736.3L328.9 734.6L328.0 731.7L326.2 729.6L324.3 727.5M365.5 369.2L362.6 369.8L359.6 369.1L356.7 370.6L353.7 370.4L350.8 370.2L348.1 371.4L345.1 371.5L342.8 373.4L340.0 374.2L337.3 374.5L334.8 376.0L332.1 376.4L329.3 376.0L326.7 376.9L323.9 377.1L321.3 378.1L318.1 378.2L314.8 378.1L311.5 378.1L309.2 379.1L306.6 379.1L306.1 382.0L305.4 384.8L304.3 387.5L302.8 390.1L301.7 392.8L300.7 397.7L300.3 400.6L299.8 403.5L299.8 406.5L299.8 409.4L298.8 414.3L301.1 416.2L303.7 417.4L306.9 417.6L308.7 420.4L311.5 421.1L314.0 422.0L316.5 422.7L319.1 422.9L321.5 423.8L324.0 424.5L326.2 426.0L329.0 426.6L330.9 428.9L333.7 429.5L336.1 430.9M311.5 378.1L308.7 378.1L305.9 378.0L303.2 376.9L300.4 376.8L297.5 377.7L294.7 376.6L291.9 377.1L288.9 376.7L285.9 377.3L283.2 379.1L280.0 377.8L277.2 379.1L274.8 380.0L272.2 379.5L270.0 381.1L267.4 380.9L265.0 381.7L262.4 381.7L259.9 382.0L257.6 383.0M301.7 392.8L298.9 393.1L296.1 393.4L293.3 393.2L290.5 393.4L287.7 394.5L284.9 394.4L282.1 394.8L279.9 396.0L277.7 397.2L275.3 398.3L273.5 400.0L271.2 401.2L269.3 402.9L267.4 404.5L265.1 406.1L262.7 407.3L260.4 409.0L257.6 409.4L255.4 411.2L252.8 412.2L250.5 413.7L247.8 414.3M298.8 414.3L296.4 415.7L294.3 417.6L291.2 417.7L288.9 419.2L286.6 420.9L284.2 422.2L282.1 424.1L279.9 425.5L277.1 424.8L274.9 426.6L272.3 426.7L269.8 427.1L267.5 428.2L264.9 428.3L262.5 428.9L259.6 429.4L256.7 430.6L253.7 430.5L250.7 430.5L247.8 430.9L245.6 429.2L243.0 428.1L240.2 427.6L238.0 426.0M348.8 372.2L348.4 374.7L348.3 377.2L348.2 379.8L348.3 382.3L347.5 384.8L348.7 387.4L347.8 389.9L348.8 392.7L348.8 395.8L350.2 398.5L349.9 401.7L350.8 404.5L353.3 405.5L355.4 407.5L358.3 407.8L360.6 409.4M327.2 379.1L327.3 381.7L327.5 384.3L327.8 386.9L327.4 389.6L328.2 392.1L328.2 394.8L329.6 397.0L329.4 399.7L331.2 401.9L331.2 404.5M229.6 344.5L230.8 347.1L230.5 349.9L229.9 352.8L231.1 355.4L233.2 357.6L234.7 360.2L235.8 363.1L238.0 365.3L237.7 367.9L238.9 370.2L238.6 372.8L239.9 375.1L238.4 377.4L237.9 380.0L237.6 382.7L236.1 385.0L235.0 387.4L234.9 390.2L233.8 392.6L232.1 394.8L230.8 397.6L231.9 400.7L230.2 403.5L231.1 406.6L230.1 409.4L229.2 412.3L228.7 415.2L228.1 418.1L228.0 421.1L228.2 424.1L227.0 426.7L226.0 429.4L223.9 431.5L222.3 433.8M238.0 365.3L236.4 367.4L234.1 368.6L231.8 369.9L230.4 372.3L227.7 373.0L226.2 375.1L225.8 377.7L225.2 380.2L223.8 382.5L223.2 385.0L221.7 387.3L221.3 389.9L219.9 392.6L219.3 395.6L219.2 398.6L218.9 401.6L218.3 404.5L216.8 406.8L216.6 409.4L216.5 412.1L215.5 414.5L213.6 416.5L213.4 419.2M390.0 385.9L390.7 388.7L389.3 391.4L389.4 394.2L388.5 396.9L389.0 399.7L388.4 402.6L389.1 405.5L389.2 408.5L389.7 411.4L390.0 414.3L389.5 417.1L388.5 419.8L388.3 422.6L388.6 425.5L387.2 428.1L388.1 431.1L387.1 433.8M86.9 129.8L85.8 132.3L86.3 135.3L84.9 137.8L85.3 140.6L84.9 143.4M130.1 150.2L130.1 147.2L129.2 144.2L130.1 141.2L130.6 138.3L129.5 135.5L130.4 132.6L130.1 129.8M82.0 270.9L82.2 273.7L82.3 276.4L83.0 279.1L82.0 282.2L81.0 285.3M147.7 305.5L145.2 306.2L143.1 307.7L141.8 310.2L139.5 311.3L137.3 312.6L135.0 313.6L132.4 313.8L130.1 314.9L127.6 315.5L125.0 315.8L122.7 316.8L120.2 317.6M142.8 346.5L140.2 346.3L137.6 345.9L135.0 345.5L132.7 344.0L130.2 343.6L127.8 342.7L125.1 342.5M92.8 322.6L92.9 319.5L91.8 316.6L88.8 312.6M136.9 297.4L134.9 299.2L132.1 299.7L129.6 300.6L127.9 303.0L125.1 303.5L122.6 304.7L119.9 305.4L117.9 307.5L115.3 308.5M573.5 648.7L570.6 647.8L567.4 647.8L564.8 645.6L561.7 645.6L558.8 646.1L555.8 646.5L552.8 646.6L549.9 646.8L547.0 647.7L544.9 650.2L543.2 652.9L542.1 656.0M582.3 609.7L579.7 610.2L577.0 610.2L574.3 609.9L571.9 611.9L569.2 611.1L566.6 611.8L563.7 612.4L561.9 614.8L559.6 616.5L556.8 617.2L554.7 619.2L551.9 619.9L550.0 622.0L547.3 622.9L545.3 624.8L543.2 626.4L541.3 628.6L539.1 630.1M561.7 669.6L558.7 670.4L555.8 670.0L552.9 670.3L549.9 670.4L547.0 669.6L544.6 670.5L542.7 672.2L540.8 673.8L539.0 675.7L536.2 675.9L534.7 678.2L532.3 679.1L530.0 680.6L527.4 681.1L525.1 682.3L522.5 682.8L520.0 683.6L517.5 684.4M441.0 507.1L438.4 507.6L436.0 508.4L434.2 510.6L431.7 511.4L429.3 512.1L428.3 514.5L427.9 517.2L427.0 519.7L424.9 521.7L424.6 524.5L423.0 526.7L421.7 529.0L421.5 531.8L420.0 534.1L419.4 536.7M419.4 471.9L418.1 469.4L416.7 466.9L415.2 464.6L413.1 462.6L410.8 460.8L409.6 458.2L408.3 455.6L406.2 453.8L403.8 452.2L401.7 450.4L399.8 448.4M453.8 466.0L452.8 463.4L450.4 461.9L448.4 460.0L447.9 457.0L446.0 455.1L444.0 453.3L442.8 451.1L441.8 448.7L440.0 446.9L437.7 445.4L437.4 442.6L435.7 440.7L434.2 438.7M458.7 412.4L456.4 414.2L456.2 417.5L454.3 419.6L451.9 421.4L450.8 424.1L448.9 426.3L448.1 429.2L446.9 431.9M434.2 397.7L434.2 400.7L432.4 403.4L432.9 406.5L432.2 409.4L431.2 412.3L431.5 415.3L431.9 418.3L430.7 421.2L430.2 424.1M404.7 395.7L404.2 398.5L403.9 401.2L402.9 403.9L402.3 406.6L402.8 409.4L401.7 412.3L401.7 415.3L400.9 418.2L399.9 421.0L399.8 424.1M277.2 495.4L274.8 496.6L272.0 497.1L270.0 499.3L267.5 500.3L265.2 501.7L262.8 503.0L259.7 502.9L257.9 505.4L255.1 505.9L252.7 507.1L251.5 509.4L249.2 510.9L249.1 513.9L247.6 515.9L245.8 517.7L245.0 520.2L242.9 521.9M306.6 480.7L304.6 482.6L303.3 485.2L301.8 487.5L299.5 489.2L297.8 491.4L295.2 492.8L294.3 495.7L291.9 497.3L290.7 499.8L289.2 502.1L287.6 504.3L285.1 505.8L283.2 507.8L282.3 510.5L280.6 512.7L279.1 515.0L277.2 517.0M329.2 486.6L327.9 489.0L326.4 491.4L325.5 494.0L325.9 497.1L324.4 499.5L322.9 501.8L322.6 504.7L321.3 507.1L319.3 508.8L317.5 510.6L316.4 513.2L314.5 515.0L312.1 516.3L310.9 518.8L309.0 520.6L306.6 521.9M344.9 493.4L343.6 495.8L341.7 497.8L340.9 500.5L338.5 502.2L337.3 504.7L336.1 507.1L334.8 509.6L332.1 510.6L330.7 512.8L329.3 515.1L326.6 516.1L325.4 518.6L323.3 520.2L321.3 521.9M298.8 541.6L297.6 544.2L295.6 546.1L294.2 548.4L291.9 550.0L290.1 552.0L288.7 554.4L287.0 556.5L284.5 557.3L281.9 557.6L279.5 558.6L277.2 559.9L274.9 561.0L272.3 561.5M371.4 503.2L371.6 505.8L371.7 508.5L372.5 511.0L371.5 513.8L372.2 516.3L372.7 518.9L372.4 521.6L372.8 524.2L373.3 526.8L373.4 529.5L374.7 531.8L376.2 534.0L375.7 536.8L376.8 539.2L377.2 541.7L378.9 543.9L378.9 546.6L379.0 549.2L380.2 551.5L379.5 554.5L379.6 557.5L379.7 560.5L380.2 563.5L380.2 566.5M356.7 533.7L357.3 536.3L355.7 538.8L356.8 541.4L356.6 543.9L356.0 546.4L355.6 549.0L355.7 551.5L356.3 554.2L358.8 555.6L359.9 557.9L361.8 559.8L362.8 562.1L364.4 564.1L365.5 566.5M372.4 526.8L371.9 529.3L371.6 531.8L371.0 534.2L370.8 536.7L369.7 539.1L370.4 541.7L369.9 544.2L369.5 546.6L369.5 549.2L368.4 551.5L369.3 554.0L369.7 556.4L369.9 558.9L370.0 561.4L368.8 564.1L369.5 566.5L369.6 569.0L370.4 571.5M393.0 541.6L394.9 543.5L395.9 545.9L396.2 548.7L398.2 550.4L399.3 552.8L401.4 554.5L402.2 557.0L404.2 558.8L404.7 561.5L404.7 564.1L406.5 566.3L406.0 569.1L407.5 571.4L408.5 573.8L408.5 576.4L408.2 579.2L409.6 581.5M415.5 497.3L416.9 499.6L415.7 502.4L416.3 504.8L418.2 507.0L418.4 509.5L419.0 511.9L418.3 514.7L419.4 517.0L420.0 519.5L421.4 521.8L421.9 524.3L422.2 527.0L424.0 529.1L424.4 531.7M348.8 457.2L347.8 454.7L348.2 451.9L347.4 449.3L346.8 446.7L345.9 444.1L346.7 441.3L345.9 438.7L345.4 435.9L343.1 434.0L342.7 431.1L341.0 428.9M393.0 477.7L390.8 476.0L388.8 474.0L387.4 471.5L386.3 468.8L384.2 466.9L382.3 464.9L380.2 463.1L379.9 460.5L378.6 458.2L378.5 455.5L377.1 453.2L376.1 450.9L375.3 448.4M407.7 474.8L407.0 472.2L405.5 470.0L404.1 467.8L402.7 465.5L401.6 463.2L401.5 460.3L399.8 458.2L399.0 455.7L398.6 453.2L397.6 450.8L397.2 448.2L396.0 445.9L394.9 443.6M445.0 467.0L443.2 464.9L442.4 462.2L441.0 460.0L439.0 458.0L438.7 455.1L436.6 453.2L435.9 450.5L434.2 448.4L432.5 446.2L431.6 443.5L430.8 440.8L429.1 438.6L427.0 436.6L426.3 433.8M316.4 561.5L313.8 562.3L311.2 563.3L309.0 565.1L306.8 566.8L304.4 568.1L301.9 569.3L299.6 570.8L296.8 571.5L294.2 571.8L292.2 574.0L289.2 573.4L287.1 575.3L284.6 575.8L282.1 576.7L279.6 577.5L277.2 578.5L274.1 578.9L271.4 577.1L268.4 577.3L265.3 577.4L262.5 576.5M331.2 606.7L332.1 609.1L333.9 611.1L334.6 613.7L337.3 615.0L338.0 617.7L338.9 620.2L341.0 621.9L339.4 624.3L339.9 627.3L337.7 629.4L338.0 632.3L337.4 635.0L336.1 637.3L333.8 638.8L330.9 638.4L328.5 639.3L326.0 640.0L323.6 641.1L321.3 642.5M404.7 627.1L405.7 624.4L406.7 621.7L409.0 619.7L409.6 616.8L411.3 614.0L413.0 611.0L413.6 607.7L414.7 605.4L415.8 603.2L417.8 601.4L418.4 598.8L419.4 596.6M406.7 630.1L408.7 628.2L411.3 627.1L413.6 625.6L415.8 623.8L417.7 621.8L419.8 620.0L422.5 619.0L424.4 616.8L425.4 614.2L427.1 611.9L427.8 609.1L429.3 606.7M401.8 642.5L404.5 642.3L406.8 640.9L409.1 639.5L411.8 639.3L414.3 638.3L416.8 637.6L419.4 637.3L422.1 637.2L424.3 635.4L426.9 635.0L429.2 633.7L431.7 633.2L434.2 632.2M402.8 648.7L405.2 650.1L407.9 650.9L409.8 653.2L411.9 655.0L414.5 656.0L416.2 658.4L417.1 661.4L419.4 663.3M444.0 680.2L446.9 679.6L449.5 681.2L452.4 680.6L455.3 680.7L457.9 682.4L460.8 682.2L463.6 682.3L466.0 683.5L468.4 684.5L471.2 684.8L473.1 687.3L476.0 687.3L478.3 688.6L480.4 690.5L483.3 690.5L485.8 691.5L488.1 692.9M438.1 686.5L439.9 688.5L442.6 689.0L444.7 690.3L446.9 691.7L449.0 693.1L451.9 693.1L453.8 695.0L455.4 697.2L457.3 698.9L459.6 700.3L461.3 702.3L463.6 703.6M455.7 664.4L453.8 662.4L451.4 661.1L449.0 660.0L446.4 659.1L444.0 658.1L441.7 656.4L438.9 655.7L436.8 653.8L434.2 652.9M495.0 577.5L495.6 580.2L497.9 582.0L498.1 584.9L500.6 586.6L501.1 589.4L502.4 591.7L504.3 593.8L504.8 596.6M493.0 547.6L495.4 548.9L496.7 551.4L498.8 553.1L501.3 554.2L502.8 556.5M467.5 566.5L465.7 568.2L464.6 570.7L462.6 572.3L460.9 574.2L459.3 576.2L457.5 577.9L455.7 579.8L453.8 581.5L452.6 584.0L450.9 586.3L450.5 589.2L449.3 591.8L448.4 594.4L445.7 596.2L444.8 598.9L444.0 601.6M540.1 561.5L538.0 562.9L536.1 564.5L533.3 564.8L531.8 567.0L529.7 568.5L527.4 569.5L524.7 569.8L522.4 571.5L519.6 571.6L517.2 572.7L514.6 573.5M535.2 585.5L532.7 586.4L530.1 585.4L527.6 587.0L525.0 586.6L522.5 586.5M518.5 612.8L515.6 611.6L512.9 610.1L510.8 607.5L507.7 606.7M520.5 616.8L517.6 617.6L515.1 619.2L513.1 621.7L510.5 622.9L507.7 624.0M523.4 624.0L524.8 626.2L525.8 628.6L526.7 631.0L527.9 633.2L529.6 635.3L529.8 638.0L530.4 640.6L532.3 642.5L533.0 645.2L532.9 647.9L533.5 650.5L533.3 653.3L533.2 656.0M401.8 827.3L399.0 826.8L396.4 825.8L393.7 824.9L391.0 824.1L388.1 824.4L385.6 822.6L382.8 822.5L380.2 821.3L377.9 819.8L375.6 818.4L373.0 817.7L370.2 817.7L367.9 816.2L365.3 815.5L362.9 814.3L360.6 812.9M350.8 789.5L348.4 788.4L346.0 787.7L343.3 788.2L341.1 786.5L338.4 787.1L336.1 786.0M405.7 754.2L408.4 754.5L411.0 755.2L413.8 754.5L416.4 755.5L418.9 756.6L421.6 756.5L424.4 756.4L426.8 757.0L429.2 757.9L431.7 758.2L434.2 758.7M461.6 760.9L459.0 761.4L456.6 760.0L454.0 759.5L451.4 760.5L448.9 759.8L446.4 758.7L444.3 756.8L441.3 757.0L439.1 755.3M296.8 377.1L295.0 375.0L292.9 373.3L290.9 371.5L288.4 370.3L285.9 369.2L284.1 367.1L282.1 365.3M307.6 414.3L310.3 413.1L313.0 412.0L315.8 411.3L318.9 411.2L321.3 409.4L323.7 407.9L326.2 406.9L328.8 406.1L331.2 404.5M388.1 390.8L385.5 390.3L383.1 389.3L380.6 389.1L378.1 388.3L375.5 388.6L372.9 388.3L370.4 387.9L368.1 389.3L365.6 390.2L362.8 390.1L360.6 391.8M208.5 373.2L208.5 376.0L210.3 378.6L210.6 381.4L210.7 384.3L211.4 387.0L211.5 389.9L211.2 393.2L211.7 396.4L212.5 399.7M298.8 406.5L296.0 406.7L293.3 408.0L290.5 408.0L287.6 407.5L284.8 407.5L282.1 408.5L279.2 409.0L276.2 409.0L273.2 409.2L270.3 409.8L267.4 410.4M300.7 382.0L298.1 382.0L295.4 382.2L292.7 382.5L290.0 382.6L287.5 383.9L284.8 383.8L282.1 384.0L279.3 383.8L276.5 383.7L273.7 383.8L270.9 384.2L268.1 385.3L265.3 385.2L262.5 385.0M214.4 500.3L213.9 497.7L212.6 495.4L211.9 492.9L211.6 490.3L210.9 487.8L211.2 485.1L210.5 482.6L208.8 480.6L207.8 477.9L206.2 475.8L204.5 473.8L202.8 471.7L200.7 469.9M237.0 497.3L234.8 495.7L234.2 492.9L231.8 491.5L231.2 488.7L229.2 486.9L227.1 485.2L226.2 482.6L224.0 480.9L222.2 478.8L220.8 476.2L218.3 474.8M222.3 503.2L221.7 506.0L220.8 508.6L220.1 511.3L218.5 513.8L218.9 516.8L216.9 519.1L216.4 521.9L216.9 524.7L217.4 527.5L217.1 530.4L217.0 533.2L218.0 536.0L218.0 538.8L218.3 541.6L217.3 544.0L217.0 546.5L216.9 549.1L216.4 551.5M242.9 564.5L242.9 567.7L241.9 570.6L240.3 573.4L239.9 576.5L242.2 577.7L243.1 580.4L245.7 581.3L247.8 582.7L249.1 585.0L251.3 586.3L252.7 588.5L255.6 589.3L257.8 591.2L260.1 593.0L262.5 594.5M350.8 581.5L352.7 583.6L353.5 586.4L355.3 588.6L356.0 591.4L356.5 594.3L357.8 596.7L359.4 599.1L360.6 601.6M429.3 512.1L430.1 514.7L431.5 517.1L433.1 519.4L434.6 521.7L435.1 524.5L435.9 527.2L438.0 529.2L439.1 531.7M497.9 517.0L500.4 517.8L501.8 520.3L504.1 521.3L506.6 522.2L508.2 524.4L510.4 525.5L512.6 526.8M448.9 521.9L450.4 523.9L452.3 525.7L453.0 528.3L455.0 530.0L455.9 532.4L457.5 534.4L458.7 536.7L459.2 539.3L460.9 541.4L460.3 544.4L462.7 546.3L463.5 548.8L463.6 551.5M414.5 546.6L416.7 547.9L418.5 549.8L420.8 550.9L423.0 552.2L424.7 554.2L427.4 554.7L429.3 556.5M331.2 517.0L333.6 518.2L335.1 520.4L336.4 522.8L338.1 524.8L339.8 526.7L341.6 528.7L344.4 529.5L345.9 531.7M287.0 517.0L288.2 519.4L289.2 522.0L290.1 524.6L292.4 526.6L293.7 529.0L294.1 531.9L295.8 534.1L296.8 536.7M355.7 517.0L353.1 516.5L350.9 514.8L348.1 515.3L346.0 513.2L343.3 513.3L341.0 512.1M328.2 457.2L327.2 454.9L325.2 453.0L325.5 450.0L323.3 448.3L322.7 445.7L321.3 443.6M368.4 426.0L365.8 424.8L363.5 423.0L361.0 421.6L358.2 420.7L355.7 419.2L353.0 418.9L350.5 418.4L348.2 417.1L345.6 416.7L343.2 415.7L341.0 414.3M390.0 414.3L387.5 415.4L384.9 416.4L383.0 418.7L380.2 419.2M399.8 526.8L397.3 525.7L395.3 523.6L392.6 522.8L390.0 521.9M321.3 378.1L322.8 380.7L323.5 383.5L324.6 386.2L324.8 389.2L325.4 392.0L326.2 394.8M267.4 404.5L264.9 403.7L262.4 403.2L259.9 402.4L257.6 401.2L255.1 400.6L252.7 399.7M232.1 394.8L234.4 392.8L237.8 393.0L239.9 390.4L242.9 389.9L243.7 387.2L244.6 384.6L245.8 382.1L247.8 380.0M396.9 673.8L399.2 675.2L401.9 675.6L404.3 676.4L407.0 676.8L409.6 677.4L412.0 678.5L414.5 679.1L417.2 680.0L419.1 682.4L421.9 683.1L424.4 684.4M341.0 733.0L343.1 731.1L343.4 728.1L344.8 725.8L346.2 723.4L347.7 721.2L349.0 718.8L350.8 716.6M419.4 738.6L421.7 740.5L423.9 742.5L424.7 745.8L427.5 747.3L429.3 749.7M304.1 787.0L304.7 789.7L306.3 792.0L307.7 794.4L307.6 797.4L308.9 799.8L309.9 802.2L309.9 804.8L310.1 807.4L309.3 810.1L310.5 812.5L310.6 815.5L310.0 818.4L308.1 821.0L308.2 824.0L307.3 826.8L307.9 829.4L307.9 831.9L308.1 834.5L307.6 837.0L307.3 839.6L307.8 842.6L309.2 845.3L310.1 848.2L312.1 850.7L315.0 852.5L316.8 855.5L318.4 857.9L320.6 859.8L321.9 862.4L323.2 865.0L325.6 866.3L328.1 867.3L330.9 867.7L333.5 868.5L335.9 869.8L337.8 871.8L340.9 872.3L342.3 875.0L344.8 876.2L347.1 877.7L350.1 879.6L353.4 880.9M278.6 844.3L279.0 847.2L280.7 849.8L281.5 852.6L281.8 855.5L284.0 857.1L285.8 859.2L287.6 861.2L289.2 863.4L291.4 865.0L294.0 865.2L296.3 867.0L299.1 866.7L301.6 867.4L304.1 868.2L307.1 868.3L309.8 869.6L312.6 870.4L315.7 870.2L318.4 871.4L321.1 872.5L324.0 873.0L326.9 873.4L329.6 874.6L332.1 875.9L334.8 877.1L336.5 879.7L339.1 880.9L340.0 883.7L342.0 885.6L344.3 887.3L345.7 889.6L347.1 892.1M265.9 927.1L266.7 924.5L267.7 922.0L269.1 919.7L270.7 917.5L273.6 917.7L276.2 916.2L279.1 916.8L281.8 915.9L283.3 918.4L284.5 921.0L285.3 923.7L287.6 925.8L288.2 928.7L291.2 930.1L294.6 930.2L297.2 930.5L299.9 929.8L302.5 929.7L305.2 930.2L307.8 930.8L310.5 930.2L313.2 929.7L314.9 927.2L317.5 926.4L320.0 925.5L322.7 925.4L324.8 923.9M264.3 944.6L267.0 945.5L270.0 944.9L272.7 945.4L275.5 946.2L277.5 948.3L278.5 951.0L278.9 954.0L280.7 956.3L281.8 958.9L284.1 961.7L285.0 965.3M277.5 948.0L278.7 950.3L279.5 952.9L280.6 955.3L281.4 957.9L283.9 957.0L286.4 955.9L289.0 955.2L291.4 953.9L294.3 952.3L296.7 950.0L299.3 948.0L301.6 945.5L303.7 943.0L305.3 940.0M265.5 967.8L268.1 967.4L270.6 968.0L273.1 968.2L275.5 969.4L278.0 969.2L280.5 970.0L282.8 971.2L285.4 970.8L287.7 972.0L290.4 972.4L292.5 974.0L294.7 975.5L297.3 976.0L299.3 977.8L300.9 980.2L303.4 981.7L305.5 983.6L307.3 985.7L309.8 987.1L312.3 988.7M257.6 987.7L259.8 989.8L262.8 990.8L264.8 993.3L267.5 994.7L268.9 997.5L271.2 999.6L273.5 1001.7L275.8 1002.8L277.0 1005.4L279.1 1006.8L281.8 1007.5L283.4 1009.6L286.6 1010.9L289.1 1013.1L291.4 1015.6" fill="none" stroke="#9d92ff" stroke-width="1.3" stroke-linejoin="round"/>
<path d="M250.5 389.7L249.4 392.1L247.5 393.9L245.5 395.6L243.7 397.9L243.0 400.9L240.6 402.8L239.6 405.6L238.7 408.1L237.9 410.7L236.1 412.8L235.3 415.4L233.6 417.5L233.0 420.5L231.3 423.0L229.6 425.5L230.3 428.1L231.4 430.6L231.6 433.4L234.2 433.7L236.7 432.5L239.3 432.9L241.8 432.0L244.3 431.4L246.9 431.6L249.5 431.4L251.7 432.7L254.1 433.4L256.4 434.6L259.0 434.9L261.3 435.9L263.4 437.4L265.4 435.7L268.0 435.1L270.5 434.5L272.4 432.7L275.0 432.2L276.8 430.0L279.3 429.4L281.9 428.7L284.7 429.1L287.3 428.9L290.0 428.6L292.5 427.2L295.2 427.5L297.7 427.0L300.1 426.0L302.8 426.4L305.2 425.6L307.7 425.3L310.2 424.9L312.8 424.7L315.1 423.5L317.8 425.4L320.0 428.1L323.1 429.4L323.4 432.1L322.5 434.7L323.1 437.4L325.6 436.1L328.5 436.4L331.0 435.4L333.8 435.0L336.0 433.5L338.4 432.2L341.0 431.4L339.4 428.5L337.4 425.8L335.0 423.5L334.9 420.9L333.8 418.6L333.6 416.0L333.0 413.5L329.1 411.5L331.7 411.3L334.0 412.6L336.6 412.7L339.0 413.5L342.0 413.3L344.8 411.8L347.9 412.0L350.9 411.5L353.8 410.4L356.9 410.3L360.0 410.8L362.9 409.6L365.1 407.9L366.8 405.6L369.5 405.1L372.1 404.0L374.8 403.6M250.5 389.7L250.6 387.0L251.7 384.6L252.0 382.0L253.5 379.7L255.2 377.5L257.7 376.0L259.7 374.0L261.4 371.7L263.4 369.8L265.7 368.4L267.3 366.4L269.8 365.3L271.5 363.3L273.0 361.0L275.4 359.8L278.1 357.9L280.6 355.8L283.3 353.9L286.3 353.9L289.3 353.4L292.3 354.2L295.2 353.9L298.0 353.7L300.6 354.2L303.2 354.4L305.9 354.8L308.6 355.0L311.2 355.9L312.4 358.1L314.1 360.0L316.5 361.4L317.4 363.9L319.1 365.8L322.2 365.6L325.0 367.0L328.1 367.1L331.0 367.8L334.0 367.6L337.0 367.7L340.0 367.5L343.0 366.8L346.0 366.8L348.9 366.0L351.9 365.4L354.9 365.8L357.9 365.9L360.9 365.9L363.9 366.4L366.8 365.8M366.8 365.8L366.4 368.5L366.6 371.1L366.8 373.8L364.2 374.6L361.7 375.5L358.9 375.7L356.3 376.0L353.8 376.0L351.5 377.3L348.9 377.7L347.7 380.2L348.3 383.2L347.0 385.7L348.9 388.7L350.9 391.7L353.5 392.4L355.7 394.0L358.0 395.4L360.2 396.9L362.9 397.6L365.2 398.8L367.4 400.5L370.1 401.0L372.7 401.9L374.8 403.6L376.2 406.2L377.1 409.0L378.8 411.5L378.4 414.5L379.5 417.5L379.2 420.5L378.8 423.5L379.9 425.7L380.4 428.2L380.6 430.8L382.3 432.9L382.8 435.4L385.7 436.1L387.8 438.6L390.7 439.4L393.3 439.2L395.7 438.3L397.7 436.4L400.2 436.0L402.6 435.2L405.4 435.5L407.4 433.6L410.0 433.4L412.3 431.9L414.8 431.0L417.6 430.9L419.9 429.4M229.6 425.5L227.7 427.3L224.9 427.5L222.8 429.1L220.9 430.8L218.2 431.3L216.1 432.8L213.7 433.7L211.7 435.4L209.9 437.3L208.0 439.2L206.3 441.1L205.1 443.5L203.7 445.8L201.0 446.9L199.8 449.3L199.1 452.1L197.2 454.3L195.3 456.4L195.0 459.4L193.9 461.9L192.5 464.3L191.5 466.9L189.8 469.2L188.5 471.7L188.1 474.6L187.5 477.4L185.7 479.8L185.2 482.6L183.9 485.1L184.6 487.7L185.1 490.4L184.0 493.1L184.9 495.7L184.8 498.4L185.2 501.0L184.8 503.7L186.3 506.3L185.9 509.0L186.4 511.5L186.8 514.1L188.4 516.4L188.9 518.9L189.8 521.4L190.6 523.8L190.4 526.6L191.8 528.9L193.2 531.2L193.5 534.0L195.5 536.1L195.4 539.0L197.4 541.1L197.4 544.0L199.4 546.0L199.8 548.8L201.6 550.8L202.9 553.1L204.3 555.4L205.1 558.1L206.9 560.1L208.9 562.0L209.7 564.7L211.8 566.7L213.1 569.3L214.4 571.8L216.2 574.1L218.0 576.3L219.7 578.6L221.4 581.0L223.3 583.1L225.4 585.1L227.4 587.1L230.0 588.6M420.0 429.5L423.0 429.6L426.0 429.3L428.9 430.4L431.9 430.5L434.7 430.2L437.2 431.1L439.9 431.5L442.1 434.0L443.6 437.0L445.9 439.4L447.2 441.7L446.7 444.5L448.9 446.4L449.7 448.8L449.8 451.4L450.9 454.2L451.8 457.0L453.8 459.3L453.9 462.1L454.6 464.8L455.8 467.3L457.1 469.5L457.8 471.9L458.5 474.3L459.4 476.7L459.8 479.2L461.1 481.4L461.7 483.9L462.4 486.3L463.2 488.7L463.8 491.2L463.8 494.2L464.2 497.2L465.8 500.0L465.7 503.1L464.9 505.5L463.8 507.7L464.1 510.5L461.9 512.4L461.8 515.0L462.5 517.4L463.4 519.8L464.3 522.1L464.3 524.8L465.7 527.0L465.2 529.9L464.8 532.9L463.5 535.8L463.8 538.9L463.4 541.4L462.2 543.7L460.7 545.8L460.1 548.3L459.8 550.8L458.1 553.3L456.6 555.9L455.8 558.8L456.2 561.5L455.2 564.1L455.3 566.7L454.3 569.3L454.2 572.0L454.8 574.7L455.1 577.2L454.6 579.8L455.5 582.3L455.6 584.9L455.3 587.5L455.8 590.0M452.6 589.6L454.5 585.8L455.3 583.2L456.7 580.9L457.3 578.2L457.1 575.0L456.7 571.8L456.4 568.6L457.4 565.9L456.9 562.8L458.6 560.2L458.3 557.2L459.5 554.8L460.1 552.1L462.2 550.2L463.1 547.6L462.9 545.0L464.4 542.6L464.0 540.0M380.0 612.6L380.4 609.6L382.0 607.1L383.8 604.7L385.1 602.1L385.7 599.2L388.6 598.8L391.3 598.0L393.6 595.8L396.3 595.0L399.1 594.4L402.0 594.2L404.8 594.2L407.6 593.2L410.5 593.5L413.3 594.3L416.3 594.1L419.1 595.2L422.0 595.4L422.0 598.0L422.8 600.6L422.8 603.2L423.0 605.9L426.4 605.2L429.6 604.0L432.5 605.0L435.4 605.9L436.4 608.4L436.1 611.3L437.8 613.7L438.2 616.4L439.2 619.2L440.3 621.9L439.7 625.1L441.1 627.8L443.0 631.6L445.2 629.3L447.0 626.7L448.7 624.0L451.3 623.4L453.7 622.3L456.4 622.1L458.6 620.4L461.5 620.3L464.0 619.2L466.8 618.1L469.5 616.7L471.6 614.5L474.4 613.3L477.3 612.8L480.1 612.4L483.1 612.6L486.2 611.4L489.5 611.7L492.6 610.6L495.7 609.0L498.4 606.8L498.2 610.1L499.2 613.2L499.3 616.4L500.4 618.9L499.9 621.8L500.3 624.6L502.2 626.9L502.2 629.7L504.2 631.8L505.6 634.2L506.7 636.7L507.9 639.3L509.0 641.9L510.2 644.5L511.7 646.9L510.9 649.7L509.7 652.2L507.9 654.6L509.8 657.5L511.7 660.3L514.9 661.1L518.1 661.1L521.3 660.3L524.6 660.2L527.8 661.0L530.8 662.2L533.8 664.6L535.6 667.9L534.6 670.8L533.7 673.7L531.5 675.3L529.0 676.5L527.0 678.4L524.3 680.1L521.3 681.3M380.0 751.9L382.3 750.0L384.8 748.3L387.2 746.6L388.9 744.0L391.5 742.4L393.4 740.6L396.0 740.1L398.0 738.4L400.5 737.6L402.9 736.5L404.8 734.7L407.1 732.8L409.8 732.0L412.5 730.9L415.2 730.0L418.1 729.7L421.2 730.2L423.9 729.0L425.5 726.9L427.6 725.5L429.3 723.5L431.2 721.7L433.5 720.4L436.6 719.4L439.7 718.8L443.0 719.1L445.7 719.4L448.4 719.2L451.0 718.5L453.7 719.0L456.4 718.5L459.2 719.4L462.1 718.6L464.9 719.5L467.8 719.5L470.2 718.3L472.8 717.9L475.5 717.6L478.2 715.0L481.2 712.8L483.5 710.4L486.0 708.0M230.0 589.8L232.5 590.7L234.6 592.6L237.5 592.8L239.3 595.0L241.9 595.8L244.4 596.2L246.7 597.5L248.9 598.7L251.6 598.6L253.9 599.8L256.4 598.8L259.0 598.1L261.1 596.4L263.3 594.8L265.8 593.8L268.9 593.8L271.6 595.6L274.8 595.0L277.7 595.8L279.3 598.8L281.6 601.2L283.7 603.8L285.5 606.2L286.5 609.0L287.7 611.7L289.8 613.6L291.5 615.8L293.6 617.7L295.9 619.4L297.6 621.7L299.6 623.6L301.5 625.7L303.9 627.3L305.6 629.6L306.4 632.5L308.2 634.9L309.6 637.6L311.2 639.9L313.5 641.5L316.2 642.2L318.8 641.9L321.5 641.5L322.9 643.7L324.4 645.7L326.7 647.2L327.6 649.7L329.4 651.5L331.7 654.0L334.6 655.7L337.4 657.5L339.9 656.5L342.4 655.5L344.6 654.0L347.3 653.3L349.3 651.5L351.7 650.3L352.8 647.7L355.5 647.0L357.3 645.2L359.3 643.5L361.9 642.2L364.1 640.4L367.1 639.7L369.2 637.6L369.6 635.1L370.9 632.8L371.8 630.5L372.3 628.0L373.2 625.6L371.2 623.3L369.9 620.7L369.2 617.7L371.7 616.2L374.4 615.1L376.4 612.7L379.2 611.7L380.7 609.5L381.0 606.7L382.8 604.6L383.7 602.1L385.1 599.8L387.3 597.8L390.5 597.4L392.6 595.3L395.1 593.8L397.9 593.1L400.6 593.7L403.4 593.3L406.2 594.2L409.0 593.8L411.3 595.2L414.0 595.7L416.5 596.6L418.9 597.8L421.2 596.2L423.9 595.8L423.4 598.8L424.8 601.7L424.7 604.7L424.9 607.7L427.8 608.7L431.0 608.2L433.9 609.1L436.8 609.7L437.0 612.5L437.7 615.1L438.5 617.8L440.1 620.2L440.4 622.9L440.8 625.6L443.2 627.3L444.8 629.6L446.8 627.6L449.1 626.0L450.8 623.6L452.8 621.7L455.3 621.4L457.7 620.7L459.9 619.2L462.3 618.4L464.7 617.7L467.5 617.3L469.6 615.2L472.2 614.3L474.7 613.2L477.5 612.9L480.0 611.7M311.5 639.6L311.0 642.0L311.3 644.7L309.3 646.9L309.6 649.5L310.4 651.9L310.3 654.5L311.5 656.9L311.5 659.4L311.5 662.4L310.7 665.4L310.1 668.3L310.5 671.4L309.6 675.4L312.4 673.1L315.5 671.4L317.5 673.1L319.4 674.9L320.5 677.3L319.0 680.3L317.5 683.3L317.0 686.2L316.6 689.1L315.7 691.8L314.2 694.4L313.5 697.2L312.5 699.5L311.7 701.9L310.8 704.3L310.7 706.9L309.6 709.2L310.3 711.9L309.6 714.8L310.0 717.5L310.2 720.3L310.5 723.1L311.9 725.6L312.5 728.2L312.5 731.0L315.7 730.4L318.5 729.1L318.2 726.0L318.8 723.1L319.6 720.1L319.5 717.1L320.9 714.5L322.5 712.0L323.5 709.2L327.5 707.2L330.9 708.5L333.4 711.2L334.7 713.8L336.4 716.3L337.4 719.1L337.6 722.1L338.8 725.0L338.3 728.2L339.4 731.0L340.3 733.6L341.2 736.2L341.4 739.0L342.9 741.0L345.0 742.6L345.8 745.3L348.3 746.5L349.3 748.9L350.7 751.5L352.0 754.1L354.1 756.3L355.3 758.9L356.3 761.4L356.2 764.3L357.3 766.8L355.9 769.5L355.1 772.4L353.3 774.8L350.5 774.8L348.0 776.3L345.4 776.8L342.9 777.4L340.4 778.0L337.8 777.8L335.4 778.8L332.8 780.1L329.9 781.1L327.5 782.8L328.4 785.7L328.4 788.7L331.6 788.7L334.3 790.6L337.4 790.7L340.3 792.4L343.0 794.3L345.4 796.7L347.6 798.4L349.6 800.4L351.4 802.6L353.3 804.6L354.9 806.9L357.2 808.3L359.3 810.0M480.0 717.1L477.2 717.8L474.3 717.8L471.4 718.3L468.7 719.1L465.9 719.3L463.1 719.6L460.3 719.9L457.5 719.4L454.7 719.1L452.1 720.2L449.3 720.5L446.4 720.2L443.6 720.7L440.8 721.1L438.2 721.8L436.3 724.0L434.0 725.3L431.5 726.4L428.9 727.1L426.3 727.9L423.7 729.0L420.9 729.1L418.2 729.3L415.6 730.3L413.0 731.0L410.1 730.9L407.8 732.7L405.0 733.0L402.9 734.6L402.0 737.2L399.9 738.7L398.2 740.6L397.1 743.0L396.0 745.8L394.7 748.4L393.1 750.9L393.2 753.8L391.5 756.2L391.1 758.9L390.6 761.9L389.9 764.8L390.4 768.0L389.1 770.8L389.6 773.5L388.2 775.9L388.6 778.5L387.2 781.0L387.4 783.6L387.9 786.2L387.1 788.7L386.2 791.3L385.7 794.0L385.6 796.7L384.4 799.2L384.0 801.9L383.7 804.6L383.1 807.2L383.1 810.0" fill="none" stroke="#1a1a1a" stroke-width="1.4" stroke-linejoin="round"/></g><path d="M74.30 116.80H676.30V1197.90H74.30ZM81.00 123.50V1191.20H669.60V123.50Z" fill="#fff" fill-rule="evenodd"/>
<path d="M100.62 116.80H120.24V123.50H100.62ZM100.62 1191.20H120.24V1197.90H100.62ZM139.86 116.80H159.48V123.50H139.86ZM139.86 1191.20H159.48V1197.90H139.86ZM179.10 116.80H198.72V123.50H179.10ZM179.10 1191.20H198.72V1197.90H179.10ZM218.34 116.80H237.96V123.50H218.34ZM218.34 1191.20H237.96V1197.90H218.34ZM257.58 116.80H277.20V123.50H257.58ZM257.58 1191.20H277.20V1197.90H257.58ZM296.82 116.80H316.44V123.50H296.82ZM296.82 1191.20H316.44V1197.90H296.82ZM336.06 116.80H355.68V123.50H336.06ZM336.06 1191.20H355.68V1197.90H336.06ZM375.30 116.80H394.92V123.50H375.30ZM375.30 1191.20H394.92V1197.90H375.30ZM414.54 116.80H434.16V123.50H414.54ZM414.54 1191.20H434.16V1197.90H414.54ZM453.78 116.80H473.40V123.50H453.78ZM453.78 1191.20H473.40V1197.90H453.78ZM493.02 116.80H512.64V123.50H493.02ZM493.02 1191.20H512.64V1197.90H493.02ZM532.26 116.80H551.88V123.50H532.26ZM532.26 1191.20H551.88V1197.90H532.26ZM571.50 116.80H591.12V123.50H571.50ZM571.50 1191.20H591.12V1197.90H571.50ZM610.74 116.80H630.36V123.50H610.74ZM610.74 1191.20H630.36V1197.90H610.74ZM649.98 116.80H669.60V123.50H649.98ZM649.98 1191.20H669.60V1197.90H649.98ZM74.30 1152.83H81.00V1190.80H74.30ZM669.60 1152.83H676.30V1190.80H669.60ZM74.30 1082.84H81.00V1116.93H74.30ZM669.60 1082.84H676.30V1116.93H669.60ZM74.30 1019.28H81.00V1050.35H74.30ZM669.60 1019.28H676.30V1050.35H669.60ZM74.30 960.81H81.00V989.48H74.30ZM669.60 960.81H676.30V989.48H669.60ZM74.30 906.43H81.00V933.17H74.30ZM669.60 906.43H676.30V933.17H669.60ZM74.30 855.37H81.00V880.53H74.30ZM669.60 855.37H676.30V880.53H669.60ZM74.30 807.03H81.00V830.89H74.30ZM669.60 807.03H676.30V830.89H669.60ZM74.30 760.91H81.00V783.72H74.30ZM669.60 760.91H676.30V783.72H669.60ZM74.30 716.62H81.00V738.56H74.30ZM669.60 716.62H676.30V738.56H669.60ZM74.30 673.81H81.00V695.05H74.30ZM669.60 673.81H676.30V695.05H669.60ZM74.30 632.20H81.00V652.87H74.30ZM669.60 632.20H676.30V652.87H669.60ZM74.30 591.52H81.00V611.75H74.30ZM669.60 591.52H676.30V611.75H669.60ZM74.30 551.54H81.00V571.45H74.30ZM669.60 551.54H676.30V571.45H669.60ZM74.30 512.05H81.00V531.75H74.30ZM669.60 512.05H676.30V531.75H669.60ZM74.30 472.85H81.00V492.43H74.30ZM669.60 472.85H676.30V492.43H669.60ZM74.30 433.82H81.00V453.30H74.30ZM669.60 433.82H676.30V453.30H669.60ZM74.30 394.76H81.00V414.31H74.30ZM669.60 394.76H676.30V414.31H669.60ZM74.30 355.41H81.00V375.13H74.30ZM669.60 355.41H676.30V375.13H669.60ZM74.30 315.58H81.00V335.57H74.30ZM669.60 315.58H676.30V335.57H669.60ZM74.30 275.04H81.00V295.41H74.30ZM669.60 275.04H676.30V295.41H669.60ZM74.30 233.58H81.00V254.44H74.30ZM669.60 233.58H676.30V254.44H669.60ZM74.30 190.92H81.00V212.41H74.30ZM669.60 190.92H676.30V212.41H669.60ZM74.30 146.79H81.00V169.06H74.30ZM669.60 146.79H676.30V169.06H669.60Z" fill="#000"/>
<rect x="74.30" y="116.80" width="602.00" height="1081.10" fill="none" stroke="#000" stroke-width="0.8"/>
<rect x="81.00" y="123.50" width="588.60" height="1067.70" fill="none" stroke="#000" stroke-width="0.8"/>
<path d="M74.30 123.50H81.00V116.80M669.60 116.80V123.50H676.30M74.30 1191.20H81.00V1197.90M669.60 1197.90V1191.20H676.30" fill="none" stroke="#000" stroke-width="0.8"/></g></defs>
<use href="#basemap"/>
<use href="#basemap" transform="translate(697.3,0)"/>
<text x="373.9" y="101.8" font-size="32.8" font-weight="bold" text-anchor="middle">ATMMO + GLDAS/Noah</text>
<text x="1071.2" y="101.8" font-size="32.8" font-weight="bold" text-anchor="middle">ATMMO + GLDAS/Noah + river</text>
<g font-size="16.6" fill="#2a2a2a"><text x="68.3" y="153.8" text-anchor="end">30°</text><text x="1380.4" y="153.8" text-anchor="start">30°</text><text x="68.3" y="261.4" text-anchor="end">20°</text><text x="1380.4" y="261.4" text-anchor="start">20°</text><text x="68.3" y="362.4" text-anchor="end">10°</text><text x="1380.4" y="362.4" text-anchor="start">10°</text><text x="68.3" y="460.3" text-anchor="end">0°</text><text x="1380.4" y="460.3" text-anchor="start">0°</text><text x="68.3" y="558.5" text-anchor="end">−10°</text><text x="1380.4" y="558.5" text-anchor="start">−10°</text><text x="68.3" y="659.9" text-anchor="end">−20°</text><text x="1380.4" y="659.9" text-anchor="start">−20°</text><text x="68.3" y="767.9" text-anchor="end">−30°</text><text x="1380.4" y="767.9" text-anchor="start">−30°</text><text x="68.3" y="887.5" text-anchor="end">−40°</text><text x="1380.4" y="887.5" text-anchor="start">−40°</text><text x="68.3" y="1026.3" text-anchor="end">−50°</text><text x="1380.4" y="1026.3" text-anchor="start">−50°</text><text x="68.3" y="1197.8" text-anchor="end">−60°</text><text x="1380.4" y="1197.8" text-anchor="start">−60°</text><text x="81.0" y="1217.3" text-anchor="middle">−90°</text><text x="778.3" y="1217.3" text-anchor="middle">−90°</text><text x="179.1" y="1217.3" text-anchor="middle">−80°</text><text x="876.4" y="1217.3" text-anchor="middle">−80°</text><text x="277.2" y="1217.3" text-anchor="middle">−70°</text><text x="974.5" y="1217.3" text-anchor="middle">−70°</text><text x="375.3" y="1217.3" text-anchor="middle">−60°</text><text x="1072.6" y="1217.3" text-anchor="middle">−60°</text><text x="473.4" y="1217.3" text-anchor="middle">−50°</text><text x="1170.7" y="1217.3" text-anchor="middle">−50°</text><text x="571.5" y="1217.3" text-anchor="middle">−40°</text><text x="1268.8" y="1217.3" text-anchor="middle">−40°</text><text x="669.6" y="1217.3" text-anchor="middle">−30°</text><text x="1366.9" y="1217.3" text-anchor="middle">−30°</text></g>
<path d="M287.3 328.8L291.9 343.9H282.7Z" fill="#4191ff"/>
<path d="M261.0 346.3L265.6 361.4H256.4Z" fill="#2a55ff"/>
<path d="M179.1 355.8L183.7 370.9H174.5Z" fill="#4191ff"/>
<path d="M184.7 359.0L189.3 374.9H180.1Z" fill="#6ebeff"/>
<path d="M177.2 375.7L181.8 390.8H172.6Z" fill="#2a55ff"/>
<path d="M229.2 358.2L233.8 373.3H224.6Z" fill="#4191ff"/>
<path d="M233.5 388.4L238.1 402.7H228.9Z" fill="#0000d8"/>
<path d="M243.9 397.2L248.5 412.3H239.3Z" fill="#0000d8"/>
<path d="M236.7 404.3L241.3 417.9H232.1Z" fill="#2a55ff"/>
<path d="M222.8 427.4L227.4 441.7H218.2Z" fill="#87d7ff"/>
<path d="M344.8 269.9L349.4 284.8H340.2Z" fill="#2a55ff"/>
<path d="M354.0 284.2L358.6 298.8H349.4Z" fill="#a0ebff"/>
<path d="M357.8 274.0L362.4 288.6H353.2Z" fill="#4191ff"/>
<path d="M360.5 289.3L365.1 303.9H355.9Z" fill="#4191ff"/>
<path d="M361.5 298.8L366.1 313.4H356.9Z" fill="#2a55ff"/>
<path d="M366.3 306.4L370.9 321.1H361.7Z" fill="#4191ff"/>
<path d="M362.8 318.5L367.4 333.2H358.2Z" fill="#2a55ff"/>
<path d="M404.9 381.4L409.5 396.5H400.3Z" fill="#4191ff"/>
<path d="M422.8 379.0L427.4 393.8H425.0V400.5H420.7V393.8H418.2Z" fill="#6ebeff"/>
<path d="M445.6 383.8L450.2 398.6H447.8V402.1H443.5V398.6H441.0Z" fill="#6ebeff"/>
<path d="M451.0 386.9L455.6 401.7H453.2V405.2H448.9V401.7H446.4Z" fill="#ffff3c"/>
<path d="M368.8 405.2L373.4 420.0H370.9V425.9H366.6V420.0H364.2Z" fill="#4191ff"/>
<path d="M374.6 441.8L379.2 456.6H376.8V483.2H372.5V456.6H370.0Z" fill="#2a55ff"/>
<path d="M414.1 446.6L418.7 461.4H416.2V495.1H411.9V461.4H409.5Z" fill="#6ebeff"/>
<path d="M452.0 436.3L456.6 451.1H454.1V484.8H449.8V451.1H447.4Z" fill="#6ebeff"/>
<path d="M462.6 419.6L467.2 434.4H464.8V453.0H460.5V434.4H458.0Z" fill="#87d7ff"/>
<path d="M488.6 436.3L493.2 451.1H490.7V467.3H486.4V451.1H484.0Z" fill="#4191ff"/>
<path d="M482.2 450.6L486.8 465.4H484.3V505.5H480.0V465.4H477.6Z" fill="#87d7ff"/>
<path d="M498.1 449.0L502.7 463.8H500.3V507.1H496.0V463.8H493.5Z" fill="#a0ebff"/>
<path d="M530.2 453.8L534.8 468.6H532.4V478.4H528.1V468.6H525.6Z" fill="#4191ff"/>
<path d="M512.4 482.4L517.0 497.2H514.6V527.7H510.3V497.2H507.8Z" fill="#ffeb00"/>
<path d="M544.6 478.4L549.2 493.2H546.7V503.1H542.4V493.2H540.0Z" fill="#a0ebff"/>
<path d="M420.1 499.9L424.7 514.7H422.2V576.4H418.0V514.7H415.5Z" fill="#87d7ff"/>
<path d="M450.7 541.4L455.3 556.2H452.8V611.4H448.6V556.2H446.1Z" fill="#87d7ff"/>
<path d="M466.9 509.5L471.5 524.3H469.0V568.4H464.8V524.3H462.3Z" fill="#6ebeff"/>
<path d="M482.5 513.5L487.1 528.3H484.6V568.4H480.4V528.3H477.9Z" fill="#87d7ff"/>
<path d="M489.7 499.1L494.3 513.9H491.8V552.5H487.6V513.9H485.1Z" fill="#b4f2ff"/>
<path d="M545.4 514.2L550.0 529.0H547.5V542.2H543.2V529.0H540.8Z" fill="#ffff3c"/>
<path d="M369.9 531.8L374.5 546.6H372.0V582.7H367.7V546.6H365.3Z" fill="#6ebeff"/>
<path d="M414.1 552.5L418.7 567.3H416.2V608.2H411.9V567.3H409.5Z" fill="#a0ebff"/>
<path d="M456.3 590.7L460.9 605.5H458.4V630.5H454.1V605.5H451.7Z" fill="#a0ebff"/>
<path d="M494.4 562.1L499.0 576.9H496.6V611.4H492.3V576.9H489.8Z" fill="#a0ebff"/>
<path d="M522.3 535.8L526.9 550.6H524.4V573.2H520.1V550.6H517.7Z" fill="#87d7ff"/>
<path d="M537.4 547.7L542.0 562.5H539.6V585.9H535.3V562.5H532.8Z" fill="#b4f2ff"/>
<path d="M553.3 540.6L557.9 555.4H555.5V563.6H551.2V555.4H548.7Z" fill="#b4f2ff"/>
<path d="M533.4 586.7L538.0 601.5H535.6V618.5H531.3V601.5H528.8Z" fill="#b4f2ff"/>
<path d="M490.2 603.4L494.8 618.2H492.3V641.6H488.0V618.2H485.6Z" fill="#6ebeff"/>
<path d="M511.5 613.8L516.1 628.6H513.6V644.8H509.3V628.6H506.9Z" fill="#6ebeff"/>
<path d="M552.5 612.2L557.1 627.0H554.7V640.0H550.4V627.0H547.9Z" fill="#6ebeff"/>
<path d="M533.4 624.9L538.0 639.7H535.6V652.7H531.3V639.7H528.8Z" fill="#6ebeff"/>
<path d="M543.8 632.1L548.4 646.9H545.9V659.9H541.6V646.9H539.2Z" fill="#87d7ff"/>
<path d="M428.7 628.9L433.3 643.7H430.9V657.5H426.6V643.7H424.1Z" fill="#87d7ff"/>
<path d="M460.2 627.3L464.8 642.1H462.4V659.1H458.1V642.1H455.6Z" fill="#87d7ff"/>
<path d="M479.6 631.3L484.2 646.1H481.8V660.7H477.5V646.1H475.0Z" fill="#6ebeff"/>
<path d="M469.0 641.6L473.6 656.4H471.1V663.9H466.8V656.4H464.4Z" fill="#6ebeff"/>
<path d="M459.4 655.9L464.0 670.7H461.6V674.2H457.3V670.7H454.8Z" fill="#6ebeff"/>
<path d="M490.2 646.4L494.8 661.2H492.3V670.2H488.0V661.2H485.6Z" fill="#6ebeff"/>
<path d="M494.4 657.5L499.0 673.4H489.8Z" fill="#6ebeff"/>
<path d="M518.3 644.8L522.9 659.6H520.5V668.7H516.2V659.6H513.7Z" fill="#4191ff"/>
<path d="M509.6 656.7L514.2 671.5H511.7V675.8H507.4V671.5H505.0Z" fill="#6ebeff"/>
<path d="M522.3 659.1L526.9 673.9H524.4V680.6H520.1V673.9H517.7Z" fill="#87d7ff"/>
<path d="M539.8 663.1L544.4 677.9H541.9V683.0H537.6V677.9H535.2Z" fill="#87d7ff"/>
<path d="M557.3 655.9L561.9 671.8H552.7Z" fill="#6ebeff"/>
<path d="M444.3 659.1L448.9 673.9H446.5V678.2H442.2V673.9H439.7Z" fill="#6ebeff"/>
<path d="M454.7 669.5L459.3 684.3H456.8V689.3H452.5V684.3H450.1Z" fill="#87d7ff"/>
<path d="M474.6 666.3L479.2 683.0H470.0Z" fill="#87d7ff"/>
<path d="M488.9 667.9L493.5 682.2H484.3Z" fill="#4191ff"/>
<path d="M500.0 663.9L504.6 678.7H502.2V683.0H497.9V678.7H495.4Z" fill="#a0ebff"/>
<path d="M505.6 675.0L510.2 690.9H501.0Z" fill="#87d7ff"/>
<path d="M521.5 679.0L526.1 692.5H516.9Z" fill="#640000"/>
<path d="M181.5 437.2L186.1 452.3H176.9Z" fill="#4191ff"/>
<path d="M190.2 432.4L194.8 446.7H185.6Z" fill="#87d7ff"/>
<path d="M191.0 457.0L195.6 471.4H186.4Z" fill="#640000"/>
<path d="M193.4 445.9L198.0 461.0H188.8Z" fill="#6ebeff"/>
<path d="M198.2 441.9L202.8 456.7H200.3V468.2H196.0V456.7H193.6Z" fill="#a0ebff"/>
<path d="M200.6 452.3L205.2 468.2H196.0Z" fill="#4191ff"/>
<path d="M305.6 438.8L310.2 453.9H301.0Z" fill="#4191ff"/>
<path d="M244.8 475.3L249.4 489.7H240.2Z" fill="#2a55ff"/>
<path d="M322.3 477.7L326.9 492.5H324.4V500.8H320.1V492.5H317.7Z" fill="#4191ff"/>
<path d="M336.6 484.9L341.2 499.7H338.8V539.0H334.5V499.7H332.0Z" fill="#6ebeff"/>
<path d="M298.4 507.2L303.0 522.0H300.6V550.9H296.3V522.0H293.8Z" fill="#a0ebff"/>
<path d="M322.3 509.6L326.9 524.4H324.4V558.9H320.1V524.4H317.7Z" fill="#87d7ff"/>
<path d="M355.7 504.8L360.3 519.6H357.9V560.5H353.6V519.6H351.1Z" fill="#a0ebff"/>
<path d="M206.6 562.9L211.2 578.0H202.0Z" fill="#87d7ff"/>
<path d="M262.4 600.0L267.0 614.9H257.8Z" fill="#b4f2ff"/>
<path d="M260.6 608.4L265.2 623.3H256.0Z" fill="#a0ebff"/>
<path d="M263.6 617.9L268.2 632.2H259.0Z" fill="#6ebeff"/>
<path d="M271.3 621.5L275.9 635.8H266.7Z" fill="#a0ebff"/>
<path d="M282.1 620.9L286.7 635.2H277.5Z" fill="#b4f2ff"/>
<path d="M274.3 625.7L278.9 640.6H269.7Z" fill="#0000d8"/>
<path d="M275.8 622.7L280.4 637.6H271.2Z" fill="#640000"/>
<path d="M275.5 653.7L280.1 668.0H270.9Z" fill="#6ebeff"/>
<path d="M275.5 645.3L280.1 660.9H270.9Z" fill="#2a55ff"/>
<path d="M283.5 652.5L288.1 668.0H278.9Z" fill="#640000"/>
<path d="M279.1 667.4L283.7 682.3H274.5Z" fill="#ffeb00"/>
<path d="M283.2 674.0L287.8 688.9H278.6Z" fill="#ffff3c"/>
<path d="M272.5 679.4L277.1 694.3H267.9Z" fill="#ffff3c"/>
<path d="M278.5 682.3L283.1 691.9H273.9Z" fill="#87d7ff"/>
<path d="M273.1 690.7L277.7 705.0H268.5Z" fill="#4191ff"/>
<path d="M273.1 694.3L277.7 705.6H268.5Z" fill="#6ebeff"/>
<path d="M292.2 671.0L296.8 685.9H287.6Z" fill="#87d7ff"/>
<path d="M298.8 664.4L303.4 679.4H294.2Z" fill="#87d7ff"/>
<path d="M304.5 663.8L309.1 678.8H299.9Z" fill="#87d7ff"/>
<path d="M298.8 672.8L303.4 687.1H294.2Z" fill="#b4f2ff"/>
<path d="M294.0 691.3L298.6 706.2H289.4Z" fill="#ffeb00"/>
<path d="M291.0 701.4L295.6 716.3H286.4Z" fill="#6ebeff"/>
<path d="M305.3 616.7L309.9 631.6H300.7Z" fill="#6ebeff"/>
<path d="M344.1 606.6L348.7 621.4H346.3V629.8H342.0V621.4H339.5Z" fill="#87d7ff"/>
<path d="M339.1 672.2L343.7 687.1H334.5Z" fill="#2a55ff"/>
<path d="M363.2 684.7L367.8 699.6H358.6Z" fill="#b4f2ff"/>
<path d="M317.9 688.3L322.5 703.2H313.3Z" fill="#6ebeff"/>
<path d="M322.0 677.6L326.6 694.3H317.4Z" fill="#b4f2ff"/>
<path d="M322.4 688.3L327.0 702.6H317.8Z" fill="#b4f2ff"/>
<path d="M323.8 708.0L328.4 722.8H326.0V726.5H321.7V722.8H319.2Z" fill="#87d7ff"/>
<path d="M320.2 720.5L324.8 736.0H315.6Z" fill="#6ebeff"/>
<path d="M333.4 722.3L338.0 737.2H328.8Z" fill="#87d7ff"/>
<path d="M318.4 736.0L323.0 748.0H313.8Z" fill="#ffff3c"/>
<path d="M273.7 725.3L278.3 740.8H269.1Z" fill="#b4f2ff"/>
<path d="M270.1 745.4L274.7 760.9H265.5Z" fill="#640000"/>
<path d="M298.2 756.1L302.8 771.3H293.6Z" fill="#960000"/>
<path d="M265.1 765.1L269.7 780.0H260.5Z" fill="#0000d8"/>
<path d="M283.8 777.6L288.4 792.5H279.2Z" fill="#640000"/>
<path d="M291.6 777.0L296.2 791.9H287.0Z" fill="#ffff3c"/>
<path d="M294.6 774.6L299.2 788.9H290.0Z" fill="#2a55ff"/>
<path d="M262.4 787.7L267.0 803.2H257.8Z" fill="#4191ff"/>
<path d="M270.7 789.5L275.3 804.4H266.1Z" fill="#640000"/>
<path d="M287.8 792.5L292.4 805.0H283.2Z" fill="#640000"/>
<path d="M295.2 794.9L299.8 809.2H290.6Z" fill="#6ebeff"/>
<path d="M313.1 793.1L317.7 808.3H308.5Z" fill="#ffc300"/>
<path d="M260.6 804.4L265.2 817.6H256.0Z" fill="#6ebeff"/>
<path d="M270.1 805.6L274.7 816.4H265.5Z" fill="#6ebeff"/>
<path d="M282.6 805.6L287.2 819.4H278.0Z" fill="#87d7ff"/>
<path d="M255.8 811.6L260.4 824.7H251.2Z" fill="#0000d8"/>
<path d="M253.4 814.0L258.0 823.5H248.8Z" fill="#640000"/>
<path d="M254.6 822.3L259.2 837.3H250.0Z" fill="#ffff3c"/>
<path d="M247.4 825.9L252.0 840.7H249.6V845.0H245.3V840.7H242.8Z" fill="#4191ff"/>
<path d="M255.2 817.6L259.8 833.1H250.6Z" fill="#4191ff"/>
<path d="M261.2 816.4L265.8 833.1H256.6Z" fill="#6ebeff"/>
<path d="M263.0 830.7L267.6 845.0H258.4Z" fill="#6ebeff"/>
<path d="M268.9 816.4L273.5 827.7H264.3Z" fill="#2a55ff"/>
<path d="M254.6 837.9L259.2 848.6H250.0Z" fill="#a0ebff"/>
<path d="M283.0 822.9L287.6 837.3H278.4Z" fill="#6ebeff"/>
<path d="M275.5 837.3L280.1 852.2H270.9Z" fill="#6ebeff"/>
<path d="M263.6 846.2L268.2 859.3H259.0Z" fill="#6ebeff"/>
<path d="M251.3 848.0L255.9 864.1H246.7Z" fill="#ffeb00"/>
<path d="M260.0 859.3L264.6 871.3H255.4Z" fill="#b4f2ff"/>
<path d="M245.1 862.9L249.7 878.4H240.5Z" fill="#6ebeff"/>
<path d="M245.7 871.3L250.3 886.8H241.1Z" fill="#87d7ff"/>
<path d="M299.4 844.4L304.0 859.3H294.8Z" fill="#640000"/>
<path d="M356.6 819.4L361.2 834.3H352.0Z" fill="#ff4b00"/>
<path d="M356.0 847.4L360.6 862.3H351.4Z" fill="#0000d8"/>
<path d="M334.0 769.8L338.6 785.3H329.4Z" fill="#6ebeff"/>
<path d="M363.2 757.9L367.8 772.2H358.6Z" fill="#6ebeff"/>
<path d="M363.1 684.8L367.7 699.9H358.5Z" fill="#b4f2ff"/>
<path d="M385.3 719.0L389.9 734.1H380.7Z" fill="#a0ebff"/>
<path d="M415.6 722.2L420.2 736.5H411.0Z" fill="#b4f2ff"/>
<path d="M429.1 723.8L433.7 738.1H424.5Z" fill="#4191ff"/>
<path d="M447.9 729.3L452.5 743.6H443.3Z" fill="#0000d8"/>
<path d="M470.5 734.1L475.1 749.2H465.9Z" fill="#2a55ff"/>
<path d="M486.4 736.5L491.0 751.6H481.8Z" fill="#2a55ff"/>
<path d="M459.0 699.1L463.6 714.2H454.4Z" fill="#6ebeff"/>
<path d="M480.8 699.1L485.4 714.2H476.2Z" fill="#6ebeff"/>
<path d="M494.0 694.3L498.6 708.6H489.4Z" fill="#2a55ff"/>
<path d="M368.6 770.7L373.2 785.0H364.0Z" fill="#6ebeff"/>
<path d="M369.4 786.6L374.0 801.7H364.8Z" fill="#87d7ff"/>
<path d="M386.9 762.7L391.5 777.1H382.3Z" fill="#0000d8"/>
<path d="M385.0 777.1L389.6 789.0H380.4Z" fill="#a0ebff"/>
<path d="M394.1 777.1L398.7 792.2H389.5Z" fill="#640000"/>
<path d="M436.7 754.0L441.3 769.1H432.1Z" fill="#2a55ff"/>
<path d="M462.5 760.4L467.1 775.5H457.9Z" fill="#0000d8"/>
<path d="M390.1 807.3L394.7 823.2H385.5Z" fill="#4191ff"/>
<path d="M376.6 833.5L381.2 848.7H372.0Z" fill="#6ebeff"/>
<path d="M372.6 853.4L377.2 868.5H368.0Z" fill="#87d7ff"/>
<path d="M391.7 846.3L396.3 861.4H387.1Z" fill="#b4f2ff"/>
<path d="M399.2 851.8L403.8 866.2H394.6Z" fill="#0000d8"/>
<path d="M586.9 478.2L591.5 493.0H589.0V496.3H584.7V493.0H582.3Z" fill="#4191ff"/>
<path d="M597.7 494.4L602.3 508.7H593.1Z" fill="#4191ff"/>
<path d="M618.7 504.9L623.3 518.3H614.1Z" fill="#a0ebff"/>
<path d="M612.1 516.4L616.7 530.7H607.5Z" fill="#87d7ff"/>
<path d="M621.2 524.0L625.8 538.3H616.6Z" fill="#6ebeff"/>
<path d="M566.3 526.9L570.9 544.0H561.7Z" fill="#87d7ff"/>
<path d="M604.4 541.2L609.0 555.5H599.8Z" fill="#b4f2ff"/>
<path d="M586.3 568.9L590.9 585.1H581.7Z" fill="#87d7ff"/>
<path d="M563.4 580.3L568.0 595.1H565.5V600.3H561.2V595.1H558.8Z" fill="#ffff3c"/>
<path d="M573.9 613.7L578.5 629.0H569.3Z" fill="#4191ff"/>
<path d="M568.2 642.3L572.8 657.1H570.3V659.9H566.0V657.1H563.6Z" fill="#6ebeff"/>
<path d="M331.3 877.5L335.9 892.6H326.7Z" fill="#6ebeff"/>
<path d="M263.6 905.3L268.2 919.7H259.0Z" fill="#87d7ff"/>
<path d="M325.2 924.4L329.8 938.8H320.6Z" fill="#0000d8"/>
<path d="M256.5 945.1L261.1 960.2H251.9Z" fill="#a0ebff"/>
<path d="M284.8 1039.8L289.4 1055.7H280.2Z" fill="#4191ff"/>
<path d="M395.7 1043.0L400.3 1058.9H391.1Z" fill="#2a55ff"/>
<path d="M268.5 1063.3L273.1 1080.2H263.9Z" fill="#4191ff"/>
<path d="M299.3 1075.2L303.9 1090.2H294.7Z" fill="#a0ebff"/>
<path d="M293.8 1092.1L298.4 1107.1H289.2Z" fill="#4191ff"/>
<path d="M1041.6 267.5L1046.2 282.6H1037.0Z" fill="#4191ff"/>
<path d="M984.3 324.8L988.9 339.9H979.7Z" fill="#4191ff"/>
<path d="M958.0 340.7L962.6 355.8H953.4Z" fill="#6ebeff"/>
<path d="M876.1 356.6L880.7 371.7H871.5Z" fill="#4191ff"/>
<path d="M881.7 359.0L886.3 374.9H877.1Z" fill="#6ebeff"/>
<path d="M874.2 375.7L878.8 390.0H869.6Z" fill="#2a55ff"/>
<path d="M926.2 355.8L930.8 370.9H921.6Z" fill="#6ebeff"/>
<path d="M930.5 379.7L935.1 394.8H925.9Z" fill="#4191ff"/>
<path d="M940.9 387.6L945.5 401.9H936.3Z" fill="#4191ff"/>
<path d="M933.7 395.6L938.3 409.1H929.1Z" fill="#6ebeff"/>
<path d="M919.1 418.7L923.7 433.5H921.2V437.7H916.9V433.5H914.5Z" fill="#b4f2ff"/>
<path d="M1041.8 267.0L1046.4 282.6H1037.2Z" fill="#4191ff"/>
<path d="M1050.9 280.4L1055.5 295.6H1046.3Z" fill="#ffff3c"/>
<path d="M1054.8 270.8L1059.4 286.1H1050.2Z" fill="#87d7ff"/>
<path d="M1056.9 285.4L1061.5 300.1H1052.3Z" fill="#87d7ff"/>
<path d="M1058.2 293.1L1062.8 308.3H1053.6Z" fill="#6ebeff"/>
<path d="M1063.9 301.3L1068.5 316.6H1059.3Z" fill="#6ebeff"/>
<path d="M1059.8 312.2L1064.4 327.1H1055.2Z" fill="#4191ff"/>
<path d="M1101.8 363.1L1106.4 377.9H1104.0V394.9H1099.6V377.9H1097.2Z" fill="#a0ebff"/>
<path d="M1119.8 359.9L1124.4 374.7H1122.0V399.7H1117.6V374.7H1115.2Z" fill="#a0ebff"/>
<path d="M1142.4 361.5L1147.0 376.3H1144.6V403.6H1140.2V376.3H1137.8Z" fill="#b4f2ff"/>
<path d="M1065.4 379.8L1070.0 394.6H1067.6V425.9H1063.2V394.6H1060.8Z" fill="#a0ebff"/>
<path d="M1071.3 234.6L1075.9 249.4H1073.5V482.4H1069.1V249.4H1066.7Z" fill="#ffeb00"/>
<path d="M1111.0 325.4L1115.6 340.2H1113.2V495.1H1108.8V340.2H1106.4Z" fill="#ff0000"/>
<path d="M1148.9 319.0L1153.5 333.8H1151.1V484.0H1146.8V333.8H1144.3Z" fill="#ff0000"/>
<path d="M1148.1 363.9L1152.7 378.7H1150.2V405.2H1145.9V378.7H1143.5Z" fill="#640000"/>
<path d="M1159.6 124.8L1164.2 139.6H1161.8V453.0H1157.4V139.6H1155.0Z" fill="#640000"/>
<path d="M1185.8 384.6L1190.4 399.4H1188.0V467.3H1183.6V399.4H1181.2Z" fill="#ffc300"/>
<path d="M1033.9 405.2L1038.5 420.0H1036.1V538.0H1031.8V420.0H1029.3Z" fill="#ffc300"/>
<path d="M1019.9 429.1L1024.5 443.9H1022.0V558.8H1017.8V443.9H1015.3Z" fill="#a0ebff"/>
<path d="M1053.0 477.6L1057.6 492.4H1055.2V559.6H1050.8V492.4H1048.4Z" fill="#ffff3c"/>
<path d="M1067.0 514.2L1071.6 529.0H1069.2V582.6H1064.8V529.0H1062.4Z" fill="#a0ebff"/>
<path d="M1115.8 478.4L1120.4 493.2H1118.0V540.0H1113.6V493.2H1111.2Z" fill="#a0ebff"/>
<path d="M1114.5 507.0L1119.1 521.8H1116.7V577.0H1112.3V521.8H1109.9Z" fill="#a0ebff"/>
<path d="M1110.2 538.1L1114.8 552.9H1112.4V607.3H1108.0V552.9H1105.6Z" fill="#ffeb00"/>
<path d="M1164.0 495.1L1168.6 509.9H1166.2V568.3H1161.8V509.9H1159.4Z" fill="#a0ebff"/>
<path d="M1179.5 425.9L1184.1 440.7H1181.7V568.3H1177.3V440.7H1174.9Z" fill="#a0ebff"/>
<path d="M1194.6 428.3L1199.2 443.1H1196.8V507.1H1192.4V443.1H1190.0Z" fill="#b4f2ff"/>
<path d="M1186.6 484.8L1191.2 499.6H1188.8V555.0H1184.4V499.6H1182.0Z" fill="#b4f2ff"/>
<path d="M1191.4 554.8L1196.0 569.6H1193.6V607.3H1189.2V569.6H1186.8Z" fill="#b4f2ff"/>
<path d="M1208.1 470.5L1212.7 485.3H1210.2V526.1H1205.9V485.3H1203.5Z" fill="#ff9600"/>
<path d="M1148.4 529.3L1153.0 544.1H1150.6V610.5H1146.2V544.1H1143.8Z" fill="#a0ebff"/>
<path d="M1154.0 581.8L1158.6 596.6H1156.2V674.1H1151.8V596.6H1149.4Z" fill="#a0ebff"/>
<path d="M1125.4 620.0L1130.0 634.8H1127.6V656.6H1123.2V634.8H1120.8Z" fill="#a0ebff"/>
<path d="M1041.0 595.4L1045.6 610.2H1043.2V629.6H1038.8V610.2H1036.4Z" fill="#ffff3c"/>
<path d="M1036.3 656.6L1040.9 673.3H1031.7Z" fill="#6ebeff"/>
<path d="M1186.6 596.1L1191.2 610.9H1188.8V639.1H1184.4V610.9H1182.0Z" fill="#6ebeff"/>
<path d="M1207.3 608.9L1211.9 623.7H1209.5V639.1H1205.1V623.7H1202.7Z" fill="#87d7ff"/>
<path d="M1176.3 623.2L1180.9 638.0H1178.5V659.8H1174.1V638.0H1171.7Z" fill="#a0ebff"/>
<path d="M1165.9 632.7L1170.5 647.5H1168.1V663.0H1163.8V647.5H1161.3Z" fill="#a0ebff"/>
<path d="M1141.3 645.5L1145.9 660.3H1143.5V680.0H1139.1V660.3H1136.7Z" fill="#a0ebff"/>
<path d="M1150.8 660.6L1155.4 675.4H1153.0V680.0H1148.6V675.4H1146.2Z" fill="#ffff3c"/>
<path d="M1171.5 658.2L1176.1 673.0H1173.7V680.0H1169.3V673.0H1166.9Z" fill="#a0ebff"/>
<path d="M1185.8 664.6L1190.4 680.0H1181.2Z" fill="#6ebeff"/>
<path d="M878.9 431.7L883.5 445.6H874.3Z" fill="#6ebeff"/>
<path d="M886.8 427.7L891.4 443.6H882.2Z" fill="#87d7ff"/>
<path d="M894.8 433.7L899.4 448.6H890.2Z" fill="#ffc300"/>
<path d="M887.8 453.6L892.4 467.5H883.2Z" fill="#640000"/>
<path d="M890.8 437.7L895.4 452.5H892.9V459.5H888.6V452.5H886.2Z" fill="#6ebeff"/>
<path d="M897.8 447.6L902.4 462.5H893.2Z" fill="#a0ebff"/>
<path d="M942.1 444.6L946.7 459.4H944.2V490.3H939.9V459.4H937.5Z" fill="#87d7ff"/>
<path d="M1003.1 393.9L1007.7 408.7H1005.3V453.6H1001.0V408.7H998.5Z" fill="#b4f2ff"/>
<path d="M995.6 482.4L1000.2 497.2H997.7V551.0H993.4V497.2H991.0Z" fill="#b4f2ff"/>
<path d="M903.7 556.9L908.3 571.8H899.1Z" fill="#b4f2ff"/>
<path d="M958.4 587.8L963.0 602.6H960.5V612.6H956.2V602.6H953.8Z" fill="#ffc300"/>
<path d="M959.4 596.7L964.0 611.5H961.5V616.6H957.2V611.5H954.8Z" fill="#ff9600"/>
<path d="M955.4 608.6L960.0 622.5H950.8Z" fill="#ffff3c"/>
<path d="M960.6 616.7L965.2 628.6H956.0Z" fill="#87d7ff"/>
<path d="M967.7 613.7L972.3 629.8H963.1Z" fill="#ffff3c"/>
<path d="M970.1 623.9L974.7 637.0H965.5Z" fill="#2a55ff"/>
<path d="M972.5 615.5L977.1 631.0H967.9Z" fill="#640000"/>
<path d="M978.5 610.1L983.1 625.1H973.9Z" fill="#ff4b00"/>
<path d="M978.5 617.9L983.1 634.0H973.9Z" fill="#ff4b00"/>
<path d="M972.5 635.8L977.1 641.8H967.9Z" fill="#ffeb00"/>
<path d="M972.5 647.7L977.1 661.5H967.9Z" fill="#a0ebff"/>
<path d="M972.8 639.4L977.4 655.5H968.2Z" fill="#2a55ff"/>
<path d="M980.5 646.5L985.1 662.1H975.9Z" fill="#640000"/>
<path d="M988.6 665.6L993.2 681.1H984.0Z" fill="#b4f2ff"/>
<path d="M995.8 660.9L1000.4 676.4H991.2Z" fill="#a0ebff"/>
<path d="M1001.7 659.7L1006.3 675.2H997.1Z" fill="#b4f2ff"/>
<path d="M995.8 666.8L1000.4 681.6H997.9V684.7H993.6V681.6H991.2Z" fill="#ffc300"/>
<path d="M971.3 670.4L975.9 683.5H966.7Z" fill="#ff4b00"/>
<path d="M967.1 675.2L971.7 689.5H962.5Z" fill="#ff0000"/>
<path d="M976.1 669.2L980.7 684.1H971.5Z" fill="#ff0000"/>
<path d="M980.2 669.2L984.8 684.1H975.6Z" fill="#ff0000"/>
<path d="M974.3 676.4L978.9 688.3H969.7Z" fill="#ffff3c"/>
<path d="M970.1 682.3L974.7 695.5H965.5Z" fill="#ffc300"/>
<path d="M991.0 685.9L995.6 700.8H986.4Z" fill="#960000"/>
<path d="M988.0 697.9L992.6 712.2H983.4Z" fill="#b4f2ff"/>
<path d="M1002.3 607.2L1006.9 622.0H1004.5V631.0H1000.2V622.0H997.7Z" fill="#b4f2ff"/>
<path d="M1036.1 656.7L1040.7 671.5H1038.2V674.0H1033.9V671.5H1031.5Z" fill="#6ebeff"/>
<path d="M1060.2 680.0L1064.8 694.8H1062.3V697.9H1058.0V694.8H1055.6Z" fill="#b4f2ff"/>
<path d="M1014.9 683.5L1019.5 698.3H1017.0V702.0H1012.7V698.3H1010.3Z" fill="#87d7ff"/>
<path d="M1019.0 671.6L1023.6 686.4H1021.2V702.0H1016.9V686.4H1014.4Z" fill="#ffc300"/>
<path d="M1020.8 703.2L1025.4 718.0H1023.0V725.3H1018.7V718.0H1016.2Z" fill="#a0ebff"/>
<path d="M1016.6 715.8L1021.2 731.3H1012.0Z" fill="#87d7ff"/>
<path d="M1030.4 716.9L1035.0 731.7H1032.5V735.4H1028.2V731.7H1025.8Z" fill="#b4f2ff"/>
<path d="M1015.4 732.5L1020.0 743.2H1010.8Z" fill="#ff9600"/>
<path d="M970.7 721.1L975.3 736.6H966.1Z" fill="#ff9600"/>
<path d="M967.1 743.6L971.7 758.5H962.5Z" fill="#640000"/>
<path d="M995.2 753.7L999.8 769.2H990.6Z" fill="#640000"/>
<path d="M962.1 765.1L966.7 780.0H957.5Z" fill="#0000d8"/>
<path d="M980.8 775.8L985.4 791.3H976.2Z" fill="#640000"/>
<path d="M988.0 771.6L992.6 786.5H983.4Z" fill="#6ebeff"/>
<path d="M991.6 771.0L996.2 786.5H987.0Z" fill="#4191ff"/>
<path d="M959.4 786.5L964.0 801.3H961.5V806.8H957.2V801.3H954.8Z" fill="#4191ff"/>
<path d="M967.7 790.1L972.3 806.2H963.1Z" fill="#640000"/>
<path d="M984.8 788.9L989.4 803.2H980.2Z" fill="#640000"/>
<path d="M992.2 796.1L996.8 811.6H987.6Z" fill="#ff9600"/>
<path d="M1010.1 792.5L1014.7 808.6H1005.5Z" fill="#a0ebff"/>
<path d="M957.6 806.8L962.2 816.4H953.0Z" fill="#6ebeff"/>
<path d="M967.1 806.8L971.7 816.4H962.5Z" fill="#6ebeff"/>
<path d="M980.0 805.0L984.6 819.4H975.4Z" fill="#4191ff"/>
<path d="M952.8 811.6L957.4 824.7H948.2Z" fill="#0000d8"/>
<path d="M950.4 814.0L955.0 823.5H945.8Z" fill="#640000"/>
<path d="M951.6 822.3L956.2 837.3H947.0Z" fill="#ffff3c"/>
<path d="M944.4 825.9L949.0 840.7H946.6V845.0H942.3V840.7H939.8Z" fill="#4191ff"/>
<path d="M952.2 817.6L956.8 833.1H947.6Z" fill="#4191ff"/>
<path d="M958.2 816.4L962.8 833.1H953.6Z" fill="#6ebeff"/>
<path d="M960.0 830.7L964.6 845.0H955.4Z" fill="#6ebeff"/>
<path d="M965.9 816.4L970.5 827.7H961.3Z" fill="#2a55ff"/>
<path d="M951.6 837.9L956.2 848.6H947.0Z" fill="#a0ebff"/>
<path d="M980.0 822.9L984.6 837.3H975.4Z" fill="#6ebeff"/>
<path d="M972.5 837.3L977.1 852.2H967.9Z" fill="#6ebeff"/>
<path d="M960.6 846.2L965.2 859.3H956.0Z" fill="#6ebeff"/>
<path d="M948.3 848.0L952.9 864.1H943.7Z" fill="#ffeb00"/>
<path d="M957.0 859.3L961.6 871.3H952.4Z" fill="#b4f2ff"/>
<path d="M942.1 862.9L946.7 878.4H937.5Z" fill="#6ebeff"/>
<path d="M942.7 871.3L947.3 886.8H938.1Z" fill="#87d7ff"/>
<path d="M996.4 844.4L1001.0 859.3H991.8Z" fill="#640000"/>
<path d="M1053.6 824.7L1058.2 840.8H1049.0Z" fill="#6ebeff"/>
<path d="M1053.0 847.4L1057.6 862.9H1048.4Z" fill="#0000d8"/>
<path d="M1031.0 762.1L1035.6 777.0H1026.4Z" fill="#a0ebff"/>
<path d="M1060.2 749.5L1064.8 763.9H1055.6Z" fill="#b4f2ff"/>
<path d="M1060.1 680.0L1064.7 696.7H1055.5Z" fill="#b4f2ff"/>
<path d="M1082.3 699.1L1086.9 713.9H1084.5V731.7H1080.2V713.9H1077.7Z" fill="#ffc300"/>
<path d="M1112.6 711.0L1117.2 725.8H1114.7V730.9H1110.4V725.8H1108.0Z" fill="#a0ebff"/>
<path d="M1126.1 715.0L1130.7 729.3H1121.5Z" fill="#a0ebff"/>
<path d="M1144.9 719.8L1149.5 734.1H1140.3Z" fill="#87d7ff"/>
<path d="M1167.5 728.5L1172.1 744.4H1162.9Z" fill="#4191ff"/>
<path d="M1183.4 732.5L1188.0 748.4H1178.8Z" fill="#4191ff"/>
<path d="M1156.0 693.5L1160.6 709.4H1151.4Z" fill="#6ebeff"/>
<path d="M1177.8 694.3L1182.4 710.2H1173.2Z" fill="#a0ebff"/>
<path d="M1191.0 688.0L1195.6 702.8H1193.2V706.3H1188.9V702.8H1186.4Z" fill="#4191ff"/>
<path d="M1060.1 748.4L1064.7 764.3H1055.5Z" fill="#b4f2ff"/>
<path d="M1065.6 770.7L1070.2 785.5H1067.8V794.6H1063.5V785.5H1061.0Z" fill="#a0ebff"/>
<path d="M1083.9 758.8L1088.5 773.9H1079.3Z" fill="#2a55ff"/>
<path d="M1082.0 773.1L1086.6 787.4H1077.4Z" fill="#a0ebff"/>
<path d="M1091.1 775.5L1095.7 790.6H1086.5Z" fill="#640000"/>
<path d="M1133.7 754.8L1138.3 769.9H1129.1Z" fill="#0000d8"/>
<path d="M1159.5 755.6L1164.1 771.5H1154.9Z" fill="#2a55ff"/>
<path d="M1087.1 800.9L1091.7 815.7H1089.3V820.0H1085.0V815.7H1082.5Z" fill="#6ebeff"/>
<path d="M1073.6 831.9L1078.2 847.1H1069.0Z" fill="#a0ebff"/>
<path d="M1069.6 859.0L1074.2 874.9H1065.0Z" fill="#0000d8"/>
<path d="M1088.7 845.5L1093.3 861.4H1084.1Z" fill="#b4f2ff"/>
<path d="M1096.2 851.0L1100.8 866.2H1091.6Z" fill="#0000d8"/>
<path d="M1234.9 541.6L1239.5 556.4H1237.1V583.0H1232.8V556.4H1230.3Z" fill="#ffff3c"/>
<path d="M1230.7 580.6L1235.3 595.4H1232.9V618.8H1228.5V595.4H1226.1Z" fill="#ffff3c"/>
<path d="M1249.5 608.4L1254.1 623.2H1251.7V640.2H1247.3V623.2H1244.9Z" fill="#6ebeff"/>
<path d="M1240.8 628.3L1245.4 643.1H1243.0V660.1H1238.6V643.1H1236.2Z" fill="#87d7ff"/>
<path d="M1230.1 620.4L1234.7 635.2H1232.2V651.4H1227.9V635.2H1225.5Z" fill="#87d7ff"/>
<path d="M1254.3 654.6L1258.9 670.5H1249.7Z" fill="#87d7ff"/>
<path d="M1236.5 660.1L1241.1 674.9H1238.7V681.6H1234.3V674.9H1231.9Z" fill="#6ebeff"/>
<path d="M1215.3 641.8L1219.9 656.6H1217.5V660.9H1213.1V656.6H1210.7Z" fill="#6ebeff"/>
<path d="M1206.6 651.4L1211.2 667.3H1202.0Z" fill="#87d7ff"/>
<path d="M1219.3 656.2L1223.9 671.0H1221.5V676.8H1217.1V671.0H1214.7Z" fill="#a0ebff"/>
<path d="M1198.6 659.3L1203.2 674.1H1200.8V688.0H1196.4V674.1H1194.0Z" fill="#b4f2ff"/>
<path d="M1203.1 665.7L1207.7 680.5H1205.2V688.0H1200.9V680.5H1198.5Z" fill="#a0ebff"/>
<path d="M1218.5 678.0L1223.1 690.5H1213.9Z" fill="#640000"/>
<path d="M1190.7 688.8L1195.3 703.6H1192.9V706.3H1188.5V703.6H1186.1Z" fill="#4191ff"/>
<path d="M1177.9 696.7L1182.5 710.2H1173.3Z" fill="#a0ebff"/>
<path d="M1156.0 693.5L1160.6 708.7H1151.4Z" fill="#6ebeff"/>
<path d="M1060.2 680.0L1064.8 694.8H1062.4V697.5H1058.0V694.8H1055.6Z" fill="#b4f2ff"/>
<path d="M1227.4 439.9L1232.0 454.7H1229.6V478.1H1225.2V454.7H1222.8Z" fill="#a0ebff"/>
<path d="M1241.2 464.5L1245.8 479.3H1243.4V502.7H1239.0V479.3H1236.6Z" fill="#ffff3c"/>
<path d="M1242.2 505.9L1246.8 520.7H1244.4V541.7H1240.0V520.7H1237.6Z" fill="#ffc300"/>
<path d="M1284.2 471.7L1288.8 486.5H1286.4V490.8H1282.0V486.5H1279.6Z" fill="#a0ebff"/>
<path d="M1295.0 487.6L1299.6 503.5H1290.4Z" fill="#a0ebff"/>
<path d="M1315.7 498.7L1320.3 513.8H1311.1Z" fill="#ffc300"/>
<path d="M1308.5 509.9L1313.1 524.2H1303.9Z" fill="#d2ffff"/>
<path d="M1318.5 518.6L1323.1 533.7H1313.9Z" fill="#a0ebff"/>
<path d="M1301.7 535.3L1306.3 550.4H1297.1Z" fill="#ff9600"/>
<path d="M1263.5 519.4L1268.1 534.2H1265.7V545.7H1261.3V534.2H1258.9Z" fill="#a0ebff"/>
<path d="M1219.4 529.8L1224.0 544.6H1221.6V572.7H1217.2V544.6H1214.8Z" fill="#ffff3c"/>
<path d="M1250.1 534.5L1254.7 549.3H1252.2V564.0H1247.9V549.3H1245.5Z" fill="#ffff3c"/>
<path d="M1260.8 576.7L1265.4 591.5H1263.0V600.5H1258.6V591.5H1256.2Z" fill="#ffc300"/>
<path d="M1283.0 563.9L1287.6 578.7H1285.2V581.4H1280.8V578.7H1278.4Z" fill="#ffff3c"/>
<path d="M1271.1 610.7L1275.7 627.4H1266.5Z" fill="#6ebeff"/>
<path d="M1265.6 639.3L1270.2 656.0H1261.0Z" fill="#a0ebff"/>
<path d="M1028.3 877.6L1032.9 893.1H1023.7Z" fill="#6ebeff"/>
<path d="M961.1 905.5L965.7 920.0H956.5Z" fill="#87d7ff"/>
<path d="M1021.7 922.0L1026.3 937.6H1017.1Z" fill="#0000d8"/>
<path d="M953.3 944.8L957.9 960.3H948.7Z" fill="#87d7ff"/>
<path d="M981.8 1038.9L986.4 1055.5H977.2Z" fill="#6ebeff"/>
<path d="M966.3 1063.7L970.9 1079.2H961.7Z" fill="#6ebeff"/>
<path d="M996.3 1074.1L1000.9 1089.6H991.7Z" fill="#a0ebff"/>
<path d="M991.1 1091.6L995.7 1107.2H986.5Z" fill="#4191ff"/>
<path d="M1093.5 1043.0L1098.1 1057.5H1088.9Z" fill="#4191ff"/>
<rect x="456.00" y="985.0" width="10.02" height="19.20" fill="#0000d8"/>
<rect x="465.72" y="985.0" width="10.02" height="19.20" fill="#2a55ff"/>
<rect x="475.44" y="985.0" width="10.02" height="19.20" fill="#4191ff"/>
<rect x="485.16" y="985.0" width="10.02" height="19.20" fill="#6ebeff"/>
<rect x="494.88" y="985.0" width="10.02" height="19.20" fill="#87d7ff"/>
<rect x="504.59" y="985.0" width="10.02" height="19.20" fill="#a0ebff"/>
<rect x="514.31" y="985.0" width="10.02" height="19.20" fill="#b4f2ff"/>
<rect x="524.03" y="985.0" width="10.02" height="19.20" fill="#d2ffff"/>
<rect x="533.75" y="985.0" width="10.02" height="19.20" fill="#ffff3c"/>
<rect x="543.47" y="985.0" width="10.02" height="19.20" fill="#ffeb00"/>
<rect x="553.19" y="985.0" width="10.02" height="19.20" fill="#ffc300"/>
<rect x="562.91" y="985.0" width="10.02" height="19.20" fill="#ff9600"/>
<rect x="572.62" y="985.0" width="10.02" height="19.20" fill="#ff4b00"/>
<rect x="582.34" y="985.0" width="10.02" height="19.20" fill="#ff0000"/>
<rect x="592.06" y="985.0" width="10.02" height="19.20" fill="#d70000"/>
<rect x="601.78" y="985.0" width="10.02" height="19.20" fill="#960000"/>
<rect x="456.00" y="985.0" width="155.50" height="19.20" fill="none" stroke="#000" stroke-width="1.3"/>
<path d="M456.00 1004.20v7M463.77 1004.20v3.5M471.55 1004.20v3.5M479.32 1004.20v3.5M487.10 1004.20v3.5M494.88 1004.20v7M502.65 1004.20v3.5M510.43 1004.20v3.5M518.20 1004.20v3.5M525.98 1004.20v3.5M533.75 1004.20v7M541.52 1004.20v3.5M549.30 1004.20v3.5M557.08 1004.20v3.5M564.85 1004.20v3.5M572.62 1004.20v7M580.40 1004.20v3.5M588.17 1004.20v3.5M595.95 1004.20v3.5M603.73 1004.20v3.5M611.50 1004.20v7" stroke="#000" stroke-width="1"/>
<text x="456.00" y="1030.2" font-size="15.8" text-anchor="middle" fill="#222">0</text>
<text x="494.88" y="1030.2" font-size="15.8" text-anchor="middle" fill="#222">50</text>
<text x="533.75" y="1030.2" font-size="15.8" text-anchor="middle" fill="#222">100</text>
<text x="572.62" y="1030.2" font-size="15.8" text-anchor="middle" fill="#222">150</text>
<text x="611.50" y="1030.2" font-size="15.8" text-anchor="middle" fill="#222">200</text>
<text x="618.3" y="1001" font-size="16.2" fill="#222">%</text>
<text x="429.0" y="1057" font-size="21.9" fill="#222">STD ratio model/GPS</text>
<rect x="118.70" y="1145.9" width="18.86" height="4.1" fill="#000" stroke="#000" stroke-width="0.6"/>
<rect x="137.56" y="1145.9" width="18.86" height="4.1" fill="#fff" stroke="#000" stroke-width="0.6"/>
<rect x="156.42" y="1145.9" width="18.86" height="4.1" fill="#000" stroke="#000" stroke-width="0.6"/>
<rect x="175.28" y="1145.9" width="18.86" height="4.1" fill="#fff" stroke="#000" stroke-width="0.6"/>
<rect x="194.14" y="1145.9" width="18.86" height="4.1" fill="#000" stroke="#000" stroke-width="0.6"/>
<path d="M118.70 1145.9V1152.5M213.00 1145.9V1152.5" stroke="#000" stroke-width="1"/>
<text x="119.0" y="1169.8" font-size="16" text-anchor="middle" fill="#222">0 km</text>
<text x="213.0" y="1169.8" font-size="16" text-anchor="middle" fill="#222">1000 km</text>
<text x="378.3" y="1180.5" font-size="32.7" font-weight="bold" fill="#000">Up component</text>
<text x="636.0" y="151.2" font-size="27.5" fill="#222">a)</text>
<path d="M520.40 880.1V818.2H518.10L522.60 803.3L527.10 818.2H524.80V880.1Z" fill="#000"/>
<text x="536.2" y="860.2" font-size="13.7" fill="#222">Amplitude: 10 mm</text>
<rect x="1153.30" y="985.0" width="10.02" height="19.20" fill="#0000d8"/>
<rect x="1163.02" y="985.0" width="10.02" height="19.20" fill="#2a55ff"/>
<rect x="1172.74" y="985.0" width="10.02" height="19.20" fill="#4191ff"/>
<rect x="1182.46" y="985.0" width="10.02" height="19.20" fill="#6ebeff"/>
<rect x="1192.17" y="985.0" width="10.02" height="19.20" fill="#87d7ff"/>
<rect x="1201.89" y="985.0" width="10.02" height="19.20" fill="#a0ebff"/>
<rect x="1211.61" y="985.0" width="10.02" height="19.20" fill="#b4f2ff"/>
<rect x="1221.33" y="985.0" width="10.02" height="19.20" fill="#d2ffff"/>
<rect x="1231.05" y="985.0" width="10.02" height="19.20" fill="#ffff3c"/>
<rect x="1240.77" y="985.0" width="10.02" height="19.20" fill="#ffeb00"/>
<rect x="1250.49" y="985.0" width="10.02" height="19.20" fill="#ffc300"/>
<rect x="1260.21" y="985.0" width="10.02" height="19.20" fill="#ff9600"/>
<rect x="1269.92" y="985.0" width="10.02" height="19.20" fill="#ff4b00"/>
<rect x="1279.64" y="985.0" width="10.02" height="19.20" fill="#ff0000"/>
<rect x="1289.36" y="985.0" width="10.02" height="19.20" fill="#d70000"/>
<rect x="1299.08" y="985.0" width="10.02" height="19.20" fill="#960000"/>
<rect x="1153.30" y="985.0" width="155.50" height="19.20" fill="none" stroke="#000" stroke-width="1.3"/>
<path d="M1153.30 1004.20v7M1161.07 1004.20v3.5M1168.85 1004.20v3.5M1176.62 1004.20v3.5M1184.40 1004.20v3.5M1192.17 1004.20v7M1199.95 1004.20v3.5M1207.72 1004.20v3.5M1215.50 1004.20v3.5M1223.28 1004.20v3.5M1231.05 1004.20v7M1238.82 1004.20v3.5M1246.60 1004.20v3.5M1254.38 1004.20v3.5M1262.15 1004.20v3.5M1269.92 1004.20v7M1277.70 1004.20v3.5M1285.47 1004.20v3.5M1293.25 1004.20v3.5M1301.03 1004.20v3.5M1308.80 1004.20v7" stroke="#000" stroke-width="1"/>
<text x="1153.30" y="1030.2" font-size="15.8" text-anchor="middle" fill="#222">0</text>
<text x="1192.17" y="1030.2" font-size="15.8" text-anchor="middle" fill="#222">50</text>
<text x="1231.05" y="1030.2" font-size="15.8" text-anchor="middle" fill="#222">100</text>
<text x="1269.92" y="1030.2" font-size="15.8" text-anchor="middle" fill="#222">150</text>
<text x="1308.80" y="1030.2" font-size="15.8" text-anchor="middle" fill="#222">200</text>
<text x="1315.6" y="1001" font-size="16.2" fill="#222">%</text>
<text x="1126.3" y="1057" font-size="21.9" fill="#222">STD ratio model/GPS</text>
<rect x="816.00" y="1145.9" width="18.86" height="4.1" fill="#000" stroke="#000" stroke-width="0.6"/>
<rect x="834.86" y="1145.9" width="18.86" height="4.1" fill="#fff" stroke="#000" stroke-width="0.6"/>
<rect x="853.72" y="1145.9" width="18.86" height="4.1" fill="#000" stroke="#000" stroke-width="0.6"/>
<rect x="872.58" y="1145.9" width="18.86" height="4.1" fill="#fff" stroke="#000" stroke-width="0.6"/>
<rect x="891.44" y="1145.9" width="18.86" height="4.1" fill="#000" stroke="#000" stroke-width="0.6"/>
<path d="M816.00 1145.9V1152.5M910.30 1145.9V1152.5" stroke="#000" stroke-width="1"/>
<text x="816.3" y="1169.8" font-size="16" text-anchor="middle" fill="#222">0 km</text>
<text x="910.3" y="1169.8" font-size="16" text-anchor="middle" fill="#222">1000 km</text>
<text x="1075.6" y="1180.5" font-size="32.7" font-weight="bold" fill="#000">Up component</text>
<text x="1333.3" y="151.2" font-size="27.5" fill="#222">b)</text>
<path d="M1217.70 880.1V818.2H1215.40L1219.90 803.3L1224.40 818.2H1222.10V880.1Z" fill="#000"/>
<text x="1233.5" y="860.2" font-size="13.7" fill="#222">Amplitude: 10 mm</text>
</svg></div></body></html>
